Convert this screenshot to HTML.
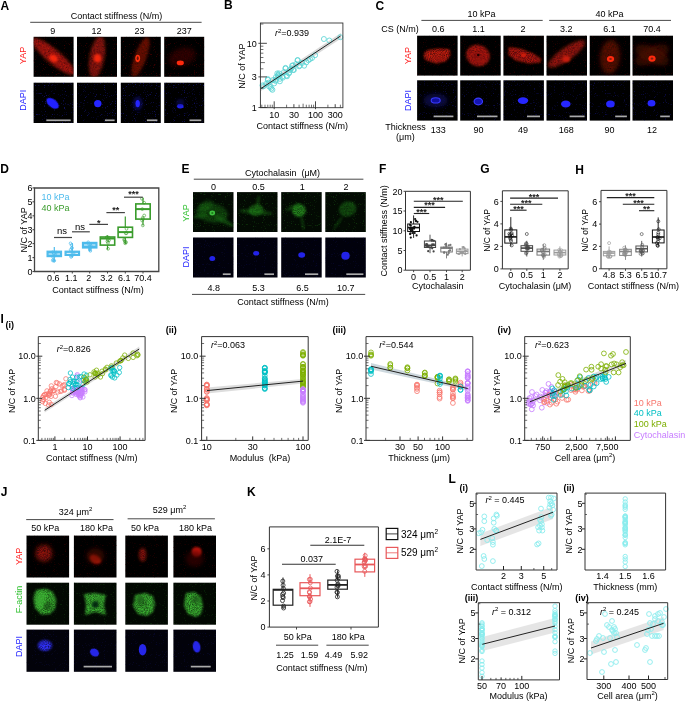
<!DOCTYPE html>
<html><head><meta charset="utf-8"><style>
html,body{margin:0;padding:0;background:#fff;}
svg{display:block;font-family:"Liberation Sans", sans-serif;will-change:transform;}
</style></head><body>
<svg width="685" height="702" viewBox="0 0 685 702">
<defs>
<filter id="bt1" x="-50%" y="-50%" width="200%" height="200%"><feGaussianBlur in="SourceGraphic" stdDeviation="1" result="b"/><feTurbulence type="fractalNoise" baseFrequency="0.95" numOctaves="2" seed="5" result="n"/><feColorMatrix in="n" type="matrix" values="0 0 0 0 1  0 0 0 0 1  0 0 0 0 1  1.1 0 0 0 0.22" result="na"/><feComposite in="b" in2="na" operator="in"/></filter>
<filter id="bt1.5" x="-50%" y="-50%" width="200%" height="200%"><feGaussianBlur in="SourceGraphic" stdDeviation="1.5" result="b"/><feTurbulence type="fractalNoise" baseFrequency="0.95" numOctaves="2" seed="9" result="n"/><feColorMatrix in="n" type="matrix" values="0 0 0 0 1  0 0 0 0 1  0 0 0 0 1  1.1 0 0 0 0.22" result="na"/><feComposite in="b" in2="na" operator="in"/></filter>
<filter id="bt2" x="-50%" y="-50%" width="200%" height="200%"><feGaussianBlur in="SourceGraphic" stdDeviation="2" result="b"/><feTurbulence type="fractalNoise" baseFrequency="0.95" numOctaves="2" seed="13" result="n"/><feColorMatrix in="n" type="matrix" values="0 0 0 0 1  0 0 0 0 1  0 0 0 0 1  1.1 0 0 0 0.22" result="na"/><feComposite in="b" in2="na" operator="in"/></filter>
<filter id="nz" x="0" y="0" width="100%" height="100%"><feTurbulence type="fractalNoise" baseFrequency="0.9" numOctaves="1" seed="2" result="n"/><feColorMatrix in="n" type="matrix" values="0 0 0 0 0  0 0 0 0 0  0 0 0 0 0  8 0 0 0 -5.0" result="m"/><feComposite in="SourceGraphic" in2="m" operator="in"/></filter>
<filter id="b0.4" x="-50%" y="-50%" width="200%" height="200%"><feGaussianBlur stdDeviation="0.4"/></filter>
<filter id="b0.5" x="-50%" y="-50%" width="200%" height="200%"><feGaussianBlur stdDeviation="0.5"/></filter>
<filter id="b0.6" x="-50%" y="-50%" width="200%" height="200%"><feGaussianBlur stdDeviation="0.6"/></filter>
<filter id="b0.7" x="-50%" y="-50%" width="200%" height="200%"><feGaussianBlur stdDeviation="0.7"/></filter>
<filter id="b0.8" x="-50%" y="-50%" width="200%" height="200%"><feGaussianBlur stdDeviation="0.8"/></filter>
<filter id="b1" x="-50%" y="-50%" width="200%" height="200%"><feGaussianBlur stdDeviation="1"/></filter>
<filter id="b1.2" x="-50%" y="-50%" width="200%" height="200%"><feGaussianBlur stdDeviation="1.2"/></filter>
<filter id="b1.5" x="-50%" y="-50%" width="200%" height="200%"><feGaussianBlur stdDeviation="1.5"/></filter>
<filter id="b2" x="-50%" y="-50%" width="200%" height="200%"><feGaussianBlur stdDeviation="2"/></filter>
<filter id="b2.5" x="-50%" y="-50%" width="200%" height="200%"><feGaussianBlur stdDeviation="2.5"/></filter>
<filter id="b3" x="-50%" y="-50%" width="200%" height="200%"><feGaussianBlur stdDeviation="3"/></filter>
<clipPath id="cp0"><rect x="33.6" y="36.8" width="40" height="40"/></clipPath>
<clipPath id="cp1"><rect x="33.6" y="82.7" width="40" height="40.3"/></clipPath>
<clipPath id="cp2"><rect x="77.0" y="36.8" width="40" height="40"/></clipPath>
<clipPath id="cp3"><rect x="77.0" y="82.7" width="40" height="40.3"/></clipPath>
<clipPath id="cp4"><rect x="120.8" y="36.8" width="40" height="40"/></clipPath>
<clipPath id="cp5"><rect x="120.8" y="82.7" width="40" height="40.3"/></clipPath>
<clipPath id="cp6"><rect x="164.2" y="36.8" width="40" height="40"/></clipPath>
<clipPath id="cp7"><rect x="164.2" y="82.7" width="40" height="40.3"/></clipPath>
<clipPath id="cp8"><rect x="417.1" y="35.7" width="40.5" height="39.9"/></clipPath>
<clipPath id="cp9"><rect x="417.1" y="80.3" width="40.5" height="40.3"/></clipPath>
<clipPath id="cp10"><rect x="460.2" y="35.7" width="40.5" height="39.9"/></clipPath>
<clipPath id="cp11"><rect x="460.2" y="80.3" width="40.5" height="40.3"/></clipPath>
<clipPath id="cp12"><rect x="503.4" y="35.7" width="40.5" height="39.9"/></clipPath>
<clipPath id="cp13"><rect x="503.4" y="80.3" width="40.5" height="40.3"/></clipPath>
<clipPath id="cp14"><rect x="546.5" y="35.7" width="40.5" height="39.9"/></clipPath>
<clipPath id="cp15"><rect x="546.5" y="80.3" width="40.5" height="40.3"/></clipPath>
<clipPath id="cp16"><rect x="589.7" y="35.7" width="40.5" height="39.9"/></clipPath>
<clipPath id="cp17"><rect x="589.7" y="80.3" width="40.5" height="40.3"/></clipPath>
<clipPath id="cp18"><rect x="632.5" y="35.7" width="40.5" height="39.9"/></clipPath>
<clipPath id="cp19"><rect x="632.5" y="80.3" width="40.5" height="40.3"/></clipPath>
<clipPath id="cp20"><rect x="193.0" y="192.1" width="40.5" height="39.9"/></clipPath>
<clipPath id="cp21"><rect x="193.0" y="237.5" width="40.5" height="40.0"/></clipPath>
<clipPath id="cp22"><rect x="237.0" y="192.1" width="40.5" height="39.9"/></clipPath>
<clipPath id="cp23"><rect x="237.0" y="237.5" width="40.5" height="40.0"/></clipPath>
<clipPath id="cp24"><rect x="281.2" y="192.1" width="40.5" height="39.9"/></clipPath>
<clipPath id="cp25"><rect x="281.2" y="237.5" width="40.5" height="40.0"/></clipPath>
<clipPath id="cp26"><rect x="325.3" y="192.1" width="40.5" height="39.9"/></clipPath>
<clipPath id="cp27"><rect x="325.3" y="237.5" width="40.5" height="40.0"/></clipPath>
<clipPath id="cp28"><rect x="26.5" y="535.6" width="42.6" height="41.9"/></clipPath>
<clipPath id="cp29"><rect x="26.5" y="582.7" width="42.6" height="42.0"/></clipPath>
<clipPath id="cp30"><rect x="26.5" y="629.6" width="42.6" height="42.2"/></clipPath>
<clipPath id="cp31"><rect x="73.9" y="535.6" width="42.6" height="41.9"/></clipPath>
<clipPath id="cp32"><rect x="73.9" y="582.7" width="42.6" height="42.0"/></clipPath>
<clipPath id="cp33"><rect x="73.9" y="629.6" width="42.6" height="42.2"/></clipPath>
<clipPath id="cp34"><rect x="125.3" y="535.6" width="42.6" height="41.9"/></clipPath>
<clipPath id="cp35"><rect x="125.3" y="582.7" width="42.6" height="42.0"/></clipPath>
<clipPath id="cp36"><rect x="125.3" y="629.6" width="42.6" height="42.2"/></clipPath>
<clipPath id="cp37"><rect x="173.4" y="535.6" width="42.6" height="41.9"/></clipPath>
<clipPath id="cp38"><rect x="173.4" y="582.7" width="42.6" height="42.0"/></clipPath>
<clipPath id="cp39"><rect x="173.4" y="629.6" width="42.6" height="42.2"/></clipPath>
</defs>
<rect width="685" height="702" fill="#fff"/>
<text x="0.4" y="9.8" font-size="12" text-anchor="start" fill="#000" font-weight="bold" >A</text>
<text x="116.5" y="19.0" font-size="9" text-anchor="middle" fill="#000" >Contact stiffness (N/m)</text>
<line x1="30.2" y1="22.3" x2="201.6" y2="22.3" stroke="#333" stroke-width="0.9" />
<text x="52.8" y="33.5" font-size="9" text-anchor="middle" fill="#000" >9</text>
<text x="96.5" y="33.5" font-size="9" text-anchor="middle" fill="#000" >12</text>
<text x="139.5" y="33.5" font-size="9" text-anchor="middle" fill="#000" >23</text>
<text x="184.3" y="33.5" font-size="9" text-anchor="middle" fill="#000" >237</text>
<rect x="33.6" y="36.8" width="40.0" height="40.0" fill="#000" />
<rect x="33.6" y="36.8" width="40.0" height="40.0" fill="#5a0606" opacity="0.6" filter="url(#nz)"/>
<rect x="33.6" y="82.7" width="40.0" height="40.3" fill="#000" />
<rect x="33.6" y="82.7" width="40.0" height="40.3" fill="#1c1ca0" opacity="0.55" filter="url(#nz)"/>
<rect x="77.0" y="36.8" width="40.0" height="40.0" fill="#000" />
<rect x="77.0" y="36.8" width="40.0" height="40.0" fill="#5a0606" opacity="0.6" filter="url(#nz)"/>
<rect x="77.0" y="82.7" width="40.0" height="40.3" fill="#000" />
<rect x="77.0" y="82.7" width="40.0" height="40.3" fill="#1c1ca0" opacity="0.55" filter="url(#nz)"/>
<rect x="120.8" y="36.8" width="40.0" height="40.0" fill="#000" />
<rect x="120.8" y="36.8" width="40.0" height="40.0" fill="#5a0606" opacity="0.6" filter="url(#nz)"/>
<rect x="120.8" y="82.7" width="40.0" height="40.3" fill="#000" />
<rect x="120.8" y="82.7" width="40.0" height="40.3" fill="#1c1ca0" opacity="0.55" filter="url(#nz)"/>
<rect x="164.2" y="36.8" width="40.0" height="40.0" fill="#000" />
<rect x="164.2" y="36.8" width="40.0" height="40.0" fill="#5a0606" opacity="0.6" filter="url(#nz)"/>
<rect x="164.2" y="82.7" width="40.0" height="40.3" fill="#000" />
<rect x="164.2" y="82.7" width="40.0" height="40.3" fill="#1c1ca0" opacity="0.55" filter="url(#nz)"/>
<text x="26.2" y="55.5" font-size="9" text-anchor="middle" fill="#ff2020" transform="rotate(-90 26.2 55.5)">YAP</text>
<text x="26.2" y="100.2" font-size="9" text-anchor="middle" fill="#2222ff" transform="rotate(-90 26.2 100.2)">DAPI</text>
<g clip-path="url(#cp0)"><ellipse cx="53.5" cy="56.5" rx="27" ry="7" fill="#b8180a" opacity="1" transform="rotate(40 53.5 56.5)" filter="url(#bt1.5)"/></g>
<g clip-path="url(#cp0)"><ellipse cx="53.6" cy="58.2" rx="4.5" ry="3.5" fill="#ff2a10" opacity="0.9" transform="rotate(30 53.6 58.2)" filter="url(#b1)"/></g>
<g clip-path="url(#cp2)"><ellipse cx="97.0" cy="57.0" rx="21" ry="7.5" fill="#981208" opacity="1" transform="rotate(-80 97.0 57.0)" filter="url(#bt1.5)"/></g>
<g clip-path="url(#cp2)"><ellipse cx="97.5" cy="58.2" rx="3.6" ry="4.2" fill="#ff2a10" opacity="0.9" transform="rotate(0 97.5 58.2)" filter="url(#b1)"/></g>
<g clip-path="url(#cp4)"><ellipse cx="140.5" cy="57.0" rx="21" ry="6" fill="#780e06" opacity="1" transform="rotate(-70 140.5 57.0)" filter="url(#bt1.5)"/></g>
<g clip-path="url(#cp4)"><ellipse cx="137.7" cy="58.3" rx="2.4" ry="3.6" fill="#ff3010" opacity="1" transform="rotate(0 137.7 58.3)" filter="url(#b0.6)"/></g>
<g clip-path="url(#cp4)"><ellipse cx="137.7" cy="58.3" rx="1.0" ry="2.0" fill="#701008" opacity="1" transform="rotate(0 137.7 58.3)"/></g>
<g clip-path="url(#cp6)"><ellipse cx="182.0" cy="57.0" rx="14" ry="9" fill="#3a0502" opacity="0.9" transform="rotate(-20 182.0 57.0)" filter="url(#bt2)"/></g>
<g clip-path="url(#cp6)"><ellipse cx="180.3" cy="62.9" rx="3.6" ry="2.4" fill="#ff2a10" opacity="1" transform="rotate(0 180.3 62.9)" filter="url(#b0.6)"/></g>
<g clip-path="url(#cp1)"><ellipse cx="52.6" cy="103.3" rx="7.2" ry="4.0" fill="#2020ff" opacity="1" transform="rotate(38 52.6 103.3)" filter="url(#b0.5)"/></g>
<g clip-path="url(#cp3)"><ellipse cx="97.8" cy="103.6" rx="3.7" ry="3.7" fill="#2525ff" opacity="1" transform="rotate(0 97.8 103.6)" filter="url(#b0.5)"/></g>
<g clip-path="url(#cp5)"><ellipse cx="137.7" cy="103.6" rx="5" ry="7" fill="#10107a" opacity="0.6" transform="rotate(0 137.7 103.6)" filter="url(#b1.5)"/></g>
<g clip-path="url(#cp5)"><ellipse cx="137.7" cy="103.6" rx="2.2" ry="3.6" fill="#2525ff" opacity="1" transform="rotate(0 137.7 103.6)" filter="url(#b0.5)"/></g>
<g clip-path="url(#cp7)"><ellipse cx="180.3" cy="106.3" rx="3.2" ry="2.2" fill="#2525ff" opacity="1" transform="rotate(0 180.3 106.3)" filter="url(#b0.5)"/></g>
<g clip-path="url(#cp7)"><ellipse cx="180.3" cy="103.0" rx="4" ry="4" fill="#10107a" opacity="0.5" transform="rotate(0 180.3 103.0)" filter="url(#b1.5)"/></g>
<line x1="46.3" y1="120.3" x2="70.7" y2="120.3" stroke="#ababab" stroke-width="1.7" />
<line x1="104.9" y1="120.3" x2="114.6" y2="120.3" stroke="#ababab" stroke-width="1.7" />
<line x1="146.9" y1="120.3" x2="157.4" y2="120.3" stroke="#ababab" stroke-width="1.7" />
<line x1="189.5" y1="120.3" x2="201.3" y2="120.3" stroke="#ababab" stroke-width="1.7" />
<text x="224.0" y="9.2" font-size="12" text-anchor="start" fill="#000" font-weight="bold" >B</text>
<polygon points="260.9,86.0 341.0,33.0 341.0,38.5 260.9,91.0" fill="#d0d0d0" opacity="0.8"/>
<circle cx="262.5" cy="85.4" r="2.5" fill="none" stroke="#5cd5d5" stroke-width="0.85"/>
<circle cx="268.0" cy="79.9" r="2.5" fill="none" stroke="#5cd5d5" stroke-width="0.85"/>
<circle cx="269.1" cy="86.5" r="2.5" fill="none" stroke="#5cd5d5" stroke-width="0.85"/>
<circle cx="271.3" cy="88.7" r="2.5" fill="none" stroke="#5cd5d5" stroke-width="0.85"/>
<circle cx="272.4" cy="89.8" r="2.5" fill="none" stroke="#5cd5d5" stroke-width="0.85"/>
<circle cx="275.7" cy="81.0" r="2.5" fill="none" stroke="#5cd5d5" stroke-width="0.85"/>
<circle cx="277.9" cy="75.5" r="2.5" fill="none" stroke="#5cd5d5" stroke-width="0.85"/>
<circle cx="279.0" cy="73.4" r="2.5" fill="none" stroke="#5cd5d5" stroke-width="0.85"/>
<circle cx="280.0" cy="78.8" r="2.5" fill="none" stroke="#5cd5d5" stroke-width="0.85"/>
<circle cx="282.3" cy="76.6" r="2.5" fill="none" stroke="#5cd5d5" stroke-width="0.85"/>
<circle cx="285.5" cy="67.9" r="2.5" fill="none" stroke="#5cd5d5" stroke-width="0.85"/>
<circle cx="286.6" cy="75.5" r="2.5" fill="none" stroke="#5cd5d5" stroke-width="0.85"/>
<circle cx="288.8" cy="73.4" r="2.5" fill="none" stroke="#5cd5d5" stroke-width="0.85"/>
<circle cx="292.1" cy="65.7" r="2.5" fill="none" stroke="#5cd5d5" stroke-width="0.85"/>
<circle cx="293.2" cy="70.0" r="2.5" fill="none" stroke="#5cd5d5" stroke-width="0.85"/>
<circle cx="297.6" cy="60.2" r="2.5" fill="none" stroke="#5cd5d5" stroke-width="0.85"/>
<circle cx="299.8" cy="65.7" r="2.5" fill="none" stroke="#5cd5d5" stroke-width="0.85"/>
<circle cx="304.2" cy="65.7" r="2.5" fill="none" stroke="#5cd5d5" stroke-width="0.85"/>
<circle cx="306.3" cy="62.4" r="2.5" fill="none" stroke="#5cd5d5" stroke-width="0.85"/>
<circle cx="308.5" cy="60.2" r="2.5" fill="none" stroke="#5cd5d5" stroke-width="0.85"/>
<circle cx="315.1" cy="55.2" r="2.5" fill="none" stroke="#5cd5d5" stroke-width="0.85"/>
<circle cx="323.9" cy="39.0" r="2.5" fill="none" stroke="#5cd5d5" stroke-width="0.85"/>
<circle cx="329.3" cy="40.5" r="2.5" fill="none" stroke="#5cd5d5" stroke-width="0.85"/>
<circle cx="340.3" cy="37.2" r="2.5" fill="none" stroke="#5cd5d5" stroke-width="0.85"/>
<circle cx="263.5" cy="86.3" r="2.5" fill="none" stroke="#5cd5d5" stroke-width="0.85"/>
<circle cx="267.8" cy="79.1" r="2.5" fill="none" stroke="#5cd5d5" stroke-width="0.85"/>
<circle cx="268.5" cy="82.7" r="2.5" fill="none" stroke="#5cd5d5" stroke-width="0.85"/>
<circle cx="270.6" cy="87.0" r="2.5" fill="none" stroke="#5cd5d5" stroke-width="0.85"/>
<circle cx="274.2" cy="83.4" r="2.5" fill="none" stroke="#5cd5d5" stroke-width="0.85"/>
<circle cx="275.6" cy="79.9" r="2.5" fill="none" stroke="#5cd5d5" stroke-width="0.85"/>
<circle cx="277.3" cy="73.4" r="2.5" fill="none" stroke="#5cd5d5" stroke-width="0.85"/>
<circle cx="278.2" cy="74.9" r="2.5" fill="none" stroke="#5cd5d5" stroke-width="0.85"/>
<circle cx="279.2" cy="76.3" r="2.5" fill="none" stroke="#5cd5d5" stroke-width="0.85"/>
<circle cx="279.9" cy="81.3" r="2.5" fill="none" stroke="#5cd5d5" stroke-width="0.85"/>
<circle cx="282.8" cy="77.7" r="2.5" fill="none" stroke="#5cd5d5" stroke-width="0.85"/>
<circle cx="285.6" cy="68.5" r="2.5" fill="none" stroke="#5cd5d5" stroke-width="0.85"/>
<circle cx="287.0" cy="76.3" r="2.5" fill="none" stroke="#5cd5d5" stroke-width="0.85"/>
<circle cx="289.2" cy="72.7" r="2.5" fill="none" stroke="#5cd5d5" stroke-width="0.85"/>
<circle cx="291.3" cy="68.5" r="2.5" fill="none" stroke="#5cd5d5" stroke-width="0.85"/>
<circle cx="293.0" cy="65.3" r="2.5" fill="none" stroke="#5cd5d5" stroke-width="0.85"/>
<circle cx="293.9" cy="69.9" r="2.5" fill="none" stroke="#5cd5d5" stroke-width="0.85"/>
<circle cx="297.7" cy="60.2" r="2.5" fill="none" stroke="#5cd5d5" stroke-width="0.85"/>
<circle cx="299.1" cy="66.3" r="2.5" fill="none" stroke="#5cd5d5" stroke-width="0.85"/>
<circle cx="266.0" cy="84.0" r="2.5" fill="none" stroke="#5cd5d5" stroke-width="0.85"/>
<circle cx="273.0" cy="80.0" r="2.5" fill="none" stroke="#5cd5d5" stroke-width="0.85"/>
<circle cx="276.0" cy="77.0" r="2.5" fill="none" stroke="#5cd5d5" stroke-width="0.85"/>
<circle cx="284.0" cy="72.0" r="2.5" fill="none" stroke="#5cd5d5" stroke-width="0.85"/>
<circle cx="290.0" cy="70.0" r="2.5" fill="none" stroke="#5cd5d5" stroke-width="0.85"/>
<circle cx="296.0" cy="64.0" r="2.5" fill="none" stroke="#5cd5d5" stroke-width="0.85"/>
<circle cx="302.0" cy="63.0" r="2.5" fill="none" stroke="#5cd5d5" stroke-width="0.85"/>
<circle cx="310.0" cy="59.0" r="2.5" fill="none" stroke="#5cd5d5" stroke-width="0.85"/>
<circle cx="312.0" cy="58.0" r="2.5" fill="none" stroke="#5cd5d5" stroke-width="0.85"/>
<line x1="260.9" y1="88.6" x2="340.5" y2="36.0" stroke="#222" stroke-width="1.0" />
<rect x="260.4" y="23.0" width="82.5" height="84.7" fill="none" stroke="#333" stroke-width="0.9" />
<line x1="258.4" y1="107.5" x2="266.9" y2="107.5" stroke="#333" stroke-width="0.9" />
<line x1="258.4" y1="76.9" x2="266.9" y2="76.9" stroke="#333" stroke-width="0.9" />
<line x1="258.4" y1="43.3" x2="266.9" y2="43.3" stroke="#333" stroke-width="0.9" />
<line x1="260.4" y1="88.2" x2="263.4" y2="88.2" stroke="#333" stroke-width="0.7" />
<line x1="260.4" y1="68.8" x2="263.4" y2="68.8" stroke="#333" stroke-width="0.7" />
<line x1="260.4" y1="62.6" x2="264.9" y2="62.6" stroke="#333" stroke-width="0.7" />
<line x1="260.4" y1="57.5" x2="263.4" y2="57.5" stroke="#333" stroke-width="0.7" />
<line x1="260.4" y1="53.2" x2="263.4" y2="53.2" stroke="#333" stroke-width="0.7" />
<line x1="260.4" y1="49.5" x2="263.4" y2="49.5" stroke="#333" stroke-width="0.7" />
<line x1="260.4" y1="46.2" x2="263.4" y2="46.2" stroke="#333" stroke-width="0.7" />
<line x1="260.4" y1="24.0" x2="263.4" y2="24.0" stroke="#333" stroke-width="0.7" />
<text x="256.8" y="46.5" font-size="9" text-anchor="end" fill="#000" >10</text>
<text x="256.8" y="80.1" font-size="9" text-anchor="end" fill="#000" >3</text>
<text x="256.8" y="110.7" font-size="9" text-anchor="end" fill="#000" >1</text>
<line x1="274.2" y1="109.2" x2="274.2" y2="101.3" stroke="#333" stroke-width="0.9" />
<line x1="315.5" y1="109.2" x2="315.5" y2="101.3" stroke="#333" stroke-width="0.9" />
<line x1="293.9" y1="107.7" x2="293.9" y2="104.2" stroke="#333" stroke-width="0.9" />
<line x1="335.2" y1="107.7" x2="335.2" y2="104.2" stroke="#333" stroke-width="0.9" />
<line x1="261.8" y1="107.7" x2="261.8" y2="104.7" stroke="#333" stroke-width="0.7" />
<line x1="265.0" y1="107.7" x2="265.0" y2="104.7" stroke="#333" stroke-width="0.7" />
<line x1="267.8" y1="107.7" x2="267.8" y2="104.7" stroke="#333" stroke-width="0.7" />
<line x1="270.2" y1="107.7" x2="270.2" y2="104.7" stroke="#333" stroke-width="0.7" />
<line x1="272.3" y1="107.7" x2="272.3" y2="104.7" stroke="#333" stroke-width="0.7" />
<line x1="286.6" y1="107.7" x2="286.6" y2="104.7" stroke="#333" stroke-width="0.7" />
<line x1="299.1" y1="107.7" x2="299.1" y2="104.7" stroke="#333" stroke-width="0.7" />
<line x1="303.1" y1="107.7" x2="303.1" y2="103.7" stroke="#333" stroke-width="0.7" />
<line x1="306.3" y1="107.7" x2="306.3" y2="104.7" stroke="#333" stroke-width="0.7" />
<line x1="309.1" y1="107.7" x2="309.1" y2="104.7" stroke="#333" stroke-width="0.7" />
<line x1="311.5" y1="107.7" x2="311.5" y2="104.7" stroke="#333" stroke-width="0.7" />
<line x1="313.6" y1="107.7" x2="313.6" y2="104.7" stroke="#333" stroke-width="0.7" />
<line x1="327.9" y1="107.7" x2="327.9" y2="104.7" stroke="#333" stroke-width="0.7" />
<line x1="340.4" y1="107.7" x2="340.4" y2="104.7" stroke="#333" stroke-width="0.7" />
<text x="274.2" y="117.5" font-size="9" text-anchor="middle" fill="#000" >10</text>
<text x="293.9" y="117.5" font-size="9" text-anchor="middle" fill="#000" >30</text>
<text x="315.5" y="117.5" font-size="9" text-anchor="middle" fill="#000" >100</text>
<text x="335.2" y="117.5" font-size="9" text-anchor="middle" fill="#000" >300</text>
<text x="302.3" y="128.9" font-size="9" text-anchor="middle" fill="#000" >Contact stiffness (N/m)</text>
<text x="245.1" y="66.2" font-size="9" text-anchor="middle" fill="#000" transform="rotate(-90 245.1 66.2)">N/C of YAP</text>
<text x="275.0" y="36.0" font-size="9" text-anchor="start" fill="#000" ><tspan font-style="italic">r</tspan><tspan font-size="6" dy="-3.5">2</tspan><tspan dy="3.5">=0.939</tspan></text>
<text x="375.6" y="9.5" font-size="12" text-anchor="start" fill="#000" font-weight="bold" >C</text>
<text x="481.6" y="17.2" font-size="9" text-anchor="middle" fill="#000" >10 kPa</text>
<line x1="421.4" y1="20.4" x2="542.7" y2="20.4" stroke="#333" stroke-width="0.9" />
<text x="609.4" y="17.2" font-size="9" text-anchor="middle" fill="#000" >40 kPa</text>
<line x1="549.2" y1="20.4" x2="671.0" y2="20.4" stroke="#333" stroke-width="0.9" />
<text x="381.2" y="32.3" font-size="9" text-anchor="start" fill="#000" >CS (N/m)</text>
<text x="438.3" y="32.4" font-size="9" text-anchor="middle" fill="#000" >0.6</text>
<text x="478.5" y="32.4" font-size="9" text-anchor="middle" fill="#000" >1.1</text>
<text x="523.0" y="32.4" font-size="9" text-anchor="middle" fill="#000" >2</text>
<text x="566.2" y="32.4" font-size="9" text-anchor="middle" fill="#000" >3.2</text>
<text x="609.4" y="32.4" font-size="9" text-anchor="middle" fill="#000" >6.1</text>
<text x="652.0" y="32.4" font-size="9" text-anchor="middle" fill="#000" >70.4</text>
<rect x="417.1" y="35.7" width="40.5" height="39.9" fill="#000" />
<rect x="417.1" y="35.7" width="40.5" height="39.9" fill="#4a0505" opacity="0.5" filter="url(#nz)"/>
<rect x="417.1" y="80.3" width="40.5" height="40.3" fill="#000" />
<rect x="417.1" y="80.3" width="40.5" height="40.3" fill="#141480" opacity="0.5" filter="url(#nz)"/>
<rect x="460.2" y="35.7" width="40.5" height="39.9" fill="#000" />
<rect x="460.2" y="35.7" width="40.5" height="39.9" fill="#4a0505" opacity="0.5" filter="url(#nz)"/>
<rect x="460.2" y="80.3" width="40.5" height="40.3" fill="#000" />
<rect x="460.2" y="80.3" width="40.5" height="40.3" fill="#141480" opacity="0.5" filter="url(#nz)"/>
<rect x="503.4" y="35.7" width="40.5" height="39.9" fill="#000" />
<rect x="503.4" y="35.7" width="40.5" height="39.9" fill="#4a0505" opacity="0.5" filter="url(#nz)"/>
<rect x="503.4" y="80.3" width="40.5" height="40.3" fill="#000" />
<rect x="503.4" y="80.3" width="40.5" height="40.3" fill="#141480" opacity="0.5" filter="url(#nz)"/>
<rect x="546.5" y="35.7" width="40.5" height="39.9" fill="#000" />
<rect x="546.5" y="35.7" width="40.5" height="39.9" fill="#4a0505" opacity="0.5" filter="url(#nz)"/>
<rect x="546.5" y="80.3" width="40.5" height="40.3" fill="#000" />
<rect x="546.5" y="80.3" width="40.5" height="40.3" fill="#141480" opacity="0.5" filter="url(#nz)"/>
<rect x="589.7" y="35.7" width="40.5" height="39.9" fill="#000" />
<rect x="589.7" y="35.7" width="40.5" height="39.9" fill="#4a0505" opacity="0.5" filter="url(#nz)"/>
<rect x="589.7" y="80.3" width="40.5" height="40.3" fill="#000" />
<rect x="589.7" y="80.3" width="40.5" height="40.3" fill="#141480" opacity="0.5" filter="url(#nz)"/>
<rect x="632.5" y="35.7" width="40.5" height="39.9" fill="#000" />
<rect x="632.5" y="35.7" width="40.5" height="39.9" fill="#4a0505" opacity="0.5" filter="url(#nz)"/>
<rect x="632.5" y="80.3" width="40.5" height="40.3" fill="#000" />
<rect x="632.5" y="80.3" width="40.5" height="40.3" fill="#141480" opacity="0.5" filter="url(#nz)"/>
<text x="411.2" y="55.6" font-size="9" text-anchor="middle" fill="#ff2020" transform="rotate(-90 411.2 55.6)">YAP</text>
<text x="411.2" y="100.5" font-size="9" text-anchor="middle" fill="#2222ff" transform="rotate(-90 411.2 100.5)">DAPI</text>
<g clip-path="url(#cp8)"><path d="M424.5,52.3 L428.4,49.7 L438.9,48.4 L449.4,48.9 L450.5,54 L449.4,57.3 L445.5,61.5 L436.3,63.6 L425.8,60.2 L423.7,56.3 Z" fill="#c01a0a" opacity="1" filter="url(#bt1)"/></g>
<g clip-path="url(#cp10)"><ellipse cx="478.0" cy="55.5" rx="12" ry="10.5" fill="#b8180a" opacity="1" transform="rotate(20 478.0 55.5)" filter="url(#bt1)"/></g>
<g clip-path="url(#cp10)"><ellipse cx="478.3" cy="55.0" rx="1.3" ry="1.3" fill="#200000" opacity="1" transform="rotate(0 478.3 55.0)"/></g>
<g clip-path="url(#cp12)"><path d="M508.5,47.1 L520.4,48.4 L533.5,53.6 L541.4,58.9 L540.1,62.8 L528.2,63.6 L515.1,60.2 L508.5,55 Z" fill="#b01808" opacity="1" filter="url(#bt1)"/></g>
<g clip-path="url(#cp12)"><ellipse cx="523.5" cy="55.2" rx="2.5" ry="2" fill="#c81a08" opacity="1" transform="rotate(0 523.5 55.2)" filter="url(#b0.6)"/></g>
<g clip-path="url(#cp14)"><ellipse cx="566.5" cy="54.0" rx="22" ry="6.5" fill="#a01408" opacity="1" transform="rotate(-35 566.5 54.0)" filter="url(#bt1.5)"/></g>
<g clip-path="url(#cp14)"><ellipse cx="566.2" cy="59.0" rx="4" ry="3.2" fill="#c81c08" opacity="1" transform="rotate(0 566.2 59.0)" filter="url(#b0.8)"/></g>
<g clip-path="url(#cp16)"><ellipse cx="610.0" cy="57.0" rx="10" ry="17" fill="#600a04" opacity="1" transform="rotate(5 610.0 57.0)" filter="url(#bt2)"/></g>
<g clip-path="url(#cp16)"><ellipse cx="610.5" cy="59.0" rx="3.6" ry="3.0" fill="#ff2a10" opacity="1" transform="rotate(0 610.5 59.0)" filter="url(#b0.5)"/></g>
<g clip-path="url(#cp16)"><ellipse cx="610.5" cy="59.0" rx="1.4" ry="1.0" fill="#802010" opacity="1" transform="rotate(0 610.5 59.0)"/></g>
<g clip-path="url(#cp18)"><ellipse cx="652.0" cy="55.0" rx="18" ry="8" fill="#4a0803" opacity="0.9" transform="rotate(-25 652.0 55.0)" filter="url(#bt2)"/></g>
<g clip-path="url(#cp18)"><ellipse cx="652.0" cy="55.0" rx="18" ry="8" fill="#4a0803" opacity="0.9" transform="rotate(25 652.0 55.0)" filter="url(#bt2)"/></g>
<g clip-path="url(#cp18)"><ellipse cx="652.0" cy="58.6" rx="3.6" ry="3.2" fill="#ff2a10" opacity="1" transform="rotate(0 652.0 58.6)" filter="url(#b0.5)"/></g>
<g clip-path="url(#cp18)"><ellipse cx="652.0" cy="58.6" rx="1.4" ry="1.1" fill="#802010" opacity="1" transform="rotate(0 652.0 58.6)"/></g>
<g clip-path="url(#cp9)"><ellipse cx="435.7" cy="100.4" rx="12" ry="7" fill="#0a0a50" opacity="0.8" transform="rotate(0 435.7 100.4)" filter="url(#b2)"/></g>
<g clip-path="url(#cp9)"><ellipse cx="435.7" cy="100.4" rx="4.5" ry="2.6" fill="none" opacity="1" transform="rotate(0 435.7 100.4)"/></g>
<ellipse cx="435.7" cy="100.4" rx="4.5" ry="2.6" fill="#1010a0" stroke="#3a3aff" stroke-width="1.1"/>
<ellipse cx="478.3" cy="101.5" rx="4.2" ry="3.3" fill="#1515b0" stroke="#3a3aff" stroke-width="1.2"/>
<g clip-path="url(#cp13)"><ellipse cx="523.0" cy="100.6" rx="5.2" ry="3.4" fill="#2828ff" opacity="1" transform="rotate(0 523.0 100.6)" filter="url(#b0.5)"/></g>
<g clip-path="url(#cp15)"><ellipse cx="565.8" cy="104.0" rx="4.8" ry="3.5" fill="#2828ff" opacity="1" transform="rotate(0 565.8 104.0)" filter="url(#b0.5)"/></g>
<g clip-path="url(#cp17)"><ellipse cx="610.4" cy="104.0" rx="4.3" ry="3.5" fill="#2828ff" opacity="1" transform="rotate(0 610.4 104.0)" filter="url(#b0.5)"/></g>
<g clip-path="url(#cp19)"><ellipse cx="651.5" cy="103.2" rx="3.9" ry="3.3" fill="#2828ff" opacity="1" transform="rotate(0 651.5 103.2)" filter="url(#b0.5)"/></g>
<line x1="433.6" y1="116.4" x2="453.4" y2="116.4" stroke="#ababab" stroke-width="1.7" />
<line x1="477.0" y1="116.4" x2="497.5" y2="116.4" stroke="#ababab" stroke-width="1.7" />
<line x1="527.0" y1="116.4" x2="540.0" y2="116.4" stroke="#ababab" stroke-width="1.7" />
<line x1="569.6" y1="116.4" x2="584.6" y2="116.4" stroke="#ababab" stroke-width="1.7" />
<line x1="615.2" y1="116.4" x2="626.9" y2="116.4" stroke="#ababab" stroke-width="1.7" />
<line x1="660.2" y1="116.4" x2="669.8" y2="116.4" stroke="#ababab" stroke-width="1.7" />
<text x="385.3" y="129.7" font-size="9" text-anchor="start" fill="#000" >Thickness</text>
<text x="396.0" y="140.3" font-size="9" text-anchor="start" fill="#000" >(μm)</text>
<text x="438.3" y="132.6" font-size="9" text-anchor="middle" fill="#000" >133</text>
<text x="478.5" y="132.6" font-size="9" text-anchor="middle" fill="#000" >90</text>
<text x="523.0" y="132.6" font-size="9" text-anchor="middle" fill="#000" >49</text>
<text x="566.2" y="132.6" font-size="9" text-anchor="middle" fill="#000" >168</text>
<text x="609.4" y="132.6" font-size="9" text-anchor="middle" fill="#000" >90</text>
<text x="652.0" y="132.6" font-size="9" text-anchor="middle" fill="#000" >12</text>
<text x="0.3" y="172.6" font-size="12" text-anchor="start" fill="#000" font-weight="bold" >D</text>
<text x="41.4" y="200.0" font-size="9" text-anchor="start" fill="#4dbbec" >10 kPa</text>
<text x="41.4" y="211.0" font-size="9" text-anchor="start" fill="#3a9c2c" >40 kPa</text>
<line x1="54.3" y1="247.1" x2="54.3" y2="261.5" stroke="#4dbbec" stroke-width="1.2" />
<rect x="47.1" y="251.2" width="14.4" height="5.4" fill="#4dbbec" stroke="#4dbbec" stroke-width="1.2" />
<line x1="48.6" y1="254.0" x2="60.0" y2="254.0" stroke="#e8f6ff" stroke-width="1.0" />
<circle cx="52.9" cy="256.8" r="1.3" fill="none" stroke="#4dbbec" stroke-width="0.7"/>
<circle cx="52.6" cy="252.1" r="1.3" fill="none" stroke="#4dbbec" stroke-width="0.7"/>
<circle cx="53.8" cy="253.8" r="1.3" fill="none" stroke="#4dbbec" stroke-width="0.7"/>
<circle cx="54.3" cy="260.6" r="1.3" fill="none" stroke="#4dbbec" stroke-width="0.7"/>
<circle cx="54.0" cy="260.9" r="1.3" fill="none" stroke="#4dbbec" stroke-width="0.7"/>
<circle cx="52.7" cy="260.5" r="1.3" fill="none" stroke="#4dbbec" stroke-width="0.7"/>
<circle cx="55.6" cy="255.4" r="1.3" fill="none" stroke="#4dbbec" stroke-width="0.7"/>
<circle cx="53.2" cy="259.7" r="1.3" fill="none" stroke="#4dbbec" stroke-width="0.7"/>
<circle cx="56.1" cy="252.5" r="1.3" fill="none" stroke="#4dbbec" stroke-width="0.7"/>
<circle cx="53.9" cy="253.2" r="1.3" fill="none" stroke="#4dbbec" stroke-width="0.7"/>
<line x1="72.3" y1="242.9" x2="72.3" y2="257.8" stroke="#4dbbec" stroke-width="1.2" />
<rect x="65.1" y="251.2" width="14.4" height="4.2" fill="#4dbbec" stroke="#4dbbec" stroke-width="1.2" />
<line x1="66.6" y1="253.4" x2="78.0" y2="253.4" stroke="#e8f6ff" stroke-width="1.0" />
<circle cx="70.5" cy="243.3" r="1.3" fill="none" stroke="#4dbbec" stroke-width="0.7"/>
<circle cx="71.5" cy="245.1" r="1.3" fill="none" stroke="#4dbbec" stroke-width="0.7"/>
<circle cx="70.8" cy="255.7" r="1.3" fill="none" stroke="#4dbbec" stroke-width="0.7"/>
<circle cx="73.6" cy="253.3" r="1.3" fill="none" stroke="#4dbbec" stroke-width="0.7"/>
<circle cx="72.6" cy="255.2" r="1.3" fill="none" stroke="#4dbbec" stroke-width="0.7"/>
<circle cx="71.8" cy="248.3" r="1.3" fill="none" stroke="#4dbbec" stroke-width="0.7"/>
<circle cx="70.6" cy="249.7" r="1.3" fill="none" stroke="#4dbbec" stroke-width="0.7"/>
<circle cx="71.1" cy="257.0" r="1.3" fill="none" stroke="#4dbbec" stroke-width="0.7"/>
<circle cx="72.0" cy="247.7" r="1.3" fill="none" stroke="#4dbbec" stroke-width="0.7"/>
<circle cx="72.6" cy="253.2" r="1.3" fill="none" stroke="#4dbbec" stroke-width="0.7"/>
<line x1="89.7" y1="242.0" x2="89.7" y2="251.3" stroke="#4dbbec" stroke-width="1.2" />
<rect x="82.5" y="242.4" width="14.4" height="5.6" fill="#4dbbec" stroke="#4dbbec" stroke-width="1.2" />
<line x1="84.0" y1="245.0" x2="95.4" y2="245.0" stroke="#e8f6ff" stroke-width="1.0" />
<circle cx="88.9" cy="247.1" r="1.3" fill="none" stroke="#4dbbec" stroke-width="0.7"/>
<circle cx="90.5" cy="243.9" r="1.3" fill="none" stroke="#4dbbec" stroke-width="0.7"/>
<circle cx="90.0" cy="249.0" r="1.3" fill="none" stroke="#4dbbec" stroke-width="0.7"/>
<circle cx="91.2" cy="246.4" r="1.3" fill="none" stroke="#4dbbec" stroke-width="0.7"/>
<circle cx="88.9" cy="244.5" r="1.3" fill="none" stroke="#4dbbec" stroke-width="0.7"/>
<circle cx="88.2" cy="242.2" r="1.3" fill="none" stroke="#4dbbec" stroke-width="0.7"/>
<circle cx="90.7" cy="247.4" r="1.3" fill="none" stroke="#4dbbec" stroke-width="0.7"/>
<circle cx="89.7" cy="249.9" r="1.3" fill="none" stroke="#4dbbec" stroke-width="0.7"/>
<circle cx="90.4" cy="250.9" r="1.3" fill="none" stroke="#4dbbec" stroke-width="0.7"/>
<circle cx="90.0" cy="244.2" r="1.3" fill="none" stroke="#4dbbec" stroke-width="0.7"/>
<line x1="107.5" y1="235.3" x2="107.5" y2="249.6" stroke="#3a9c2c" stroke-width="1.2" />
<rect x="100.3" y="237.0" width="14.4" height="8.1" fill="#fff" stroke="#3a9c2c" stroke-width="1.6" />
<line x1="100.3" y1="238.5" x2="114.7" y2="238.5" stroke="#3a9c2c" stroke-width="2.0" />
<circle cx="106.9" cy="237.1" r="1.4" fill="none" stroke="#3a9c2c" stroke-width="0.6"/>
<circle cx="107.8" cy="239.7" r="1.4" fill="none" stroke="#3a9c2c" stroke-width="0.6"/>
<circle cx="107.4" cy="241.3" r="1.4" fill="none" stroke="#3a9c2c" stroke-width="0.6"/>
<circle cx="108.8" cy="237.6" r="1.4" fill="none" stroke="#3a9c2c" stroke-width="0.6"/>
<circle cx="108.0" cy="242.8" r="1.4" fill="none" stroke="#3a9c2c" stroke-width="0.6"/>
<circle cx="108.1" cy="248.8" r="1.4" fill="none" stroke="#3a9c2c" stroke-width="0.6"/>
<circle cx="109.0" cy="240.3" r="1.4" fill="none" stroke="#3a9c2c" stroke-width="0.6"/>
<circle cx="106.9" cy="237.8" r="1.4" fill="none" stroke="#3a9c2c" stroke-width="0.6"/>
<line x1="125.3" y1="216.5" x2="125.3" y2="243.9" stroke="#3a9c2c" stroke-width="1.2" />
<rect x="118.1" y="227.2" width="14.4" height="10.2" fill="#fff" stroke="#3a9c2c" stroke-width="1.6" />
<line x1="118.1" y1="232.1" x2="132.5" y2="232.1" stroke="#3a9c2c" stroke-width="2.0" />
<circle cx="125.8" cy="233.3" r="1.4" fill="none" stroke="#3a9c2c" stroke-width="0.6"/>
<circle cx="125.2" cy="243.3" r="1.4" fill="none" stroke="#3a9c2c" stroke-width="0.6"/>
<circle cx="124.2" cy="239.3" r="1.4" fill="none" stroke="#3a9c2c" stroke-width="0.6"/>
<circle cx="126.1" cy="242.3" r="1.4" fill="none" stroke="#3a9c2c" stroke-width="0.6"/>
<circle cx="124.5" cy="240.4" r="1.4" fill="none" stroke="#3a9c2c" stroke-width="0.6"/>
<circle cx="126.4" cy="233.2" r="1.4" fill="none" stroke="#3a9c2c" stroke-width="0.6"/>
<circle cx="125.1" cy="241.7" r="1.4" fill="none" stroke="#3a9c2c" stroke-width="0.6"/>
<circle cx="126.5" cy="228.8" r="1.4" fill="none" stroke="#3a9c2c" stroke-width="0.6"/>
<line x1="143.0" y1="197.7" x2="143.0" y2="225.5" stroke="#3a9c2c" stroke-width="1.2" />
<rect x="135.8" y="203.9" width="14.4" height="15.2" fill="#fff" stroke="#3a9c2c" stroke-width="1.6" />
<line x1="135.8" y1="209.1" x2="150.2" y2="209.1" stroke="#3a9c2c" stroke-width="2.0" />
<circle cx="144.1" cy="202.7" r="1.4" fill="none" stroke="#3a9c2c" stroke-width="0.6"/>
<circle cx="142.7" cy="217.8" r="1.4" fill="none" stroke="#3a9c2c" stroke-width="0.6"/>
<circle cx="144.2" cy="215.5" r="1.4" fill="none" stroke="#3a9c2c" stroke-width="0.6"/>
<circle cx="142.0" cy="198.8" r="1.4" fill="none" stroke="#3a9c2c" stroke-width="0.6"/>
<circle cx="142.2" cy="220.6" r="1.4" fill="none" stroke="#3a9c2c" stroke-width="0.6"/>
<circle cx="143.0" cy="219.0" r="1.4" fill="none" stroke="#3a9c2c" stroke-width="0.6"/>
<circle cx="142.3" cy="209.1" r="1.4" fill="none" stroke="#3a9c2c" stroke-width="0.6"/>
<circle cx="142.8" cy="225.4" r="1.4" fill="none" stroke="#3a9c2c" stroke-width="0.6"/>
<path d="M34.5,188.0 H158.8 V271.5 H34.5 Z" fill="none" stroke="#444" stroke-width="1.3"/>
<line x1="32.5" y1="271.5" x2="34.5" y2="271.5" stroke="#444" stroke-width="1.1" />
<text x="32.5" y="274.7" font-size="9" text-anchor="end" fill="#000" >0</text>
<line x1="32.5" y1="257.6" x2="34.5" y2="257.6" stroke="#444" stroke-width="1.1" />
<text x="32.5" y="260.8" font-size="9" text-anchor="end" fill="#000" >1</text>
<line x1="32.5" y1="243.6" x2="34.5" y2="243.6" stroke="#444" stroke-width="1.1" />
<text x="32.5" y="246.9" font-size="9" text-anchor="end" fill="#000" >2</text>
<line x1="32.5" y1="229.7" x2="34.5" y2="229.7" stroke="#444" stroke-width="1.1" />
<text x="32.5" y="233.0" font-size="9" text-anchor="end" fill="#000" >3</text>
<line x1="32.5" y1="215.8" x2="34.5" y2="215.8" stroke="#444" stroke-width="1.1" />
<text x="32.5" y="219.0" font-size="9" text-anchor="end" fill="#000" >4</text>
<line x1="32.5" y1="201.8" x2="34.5" y2="201.8" stroke="#444" stroke-width="1.1" />
<text x="32.5" y="205.1" font-size="9" text-anchor="end" fill="#000" >5</text>
<line x1="32.5" y1="187.9" x2="34.5" y2="187.9" stroke="#444" stroke-width="1.1" />
<text x="32.5" y="191.2" font-size="9" text-anchor="end" fill="#000" >6</text>
<line x1="54.3" y1="271.5" x2="54.3" y2="273.5" stroke="#444" stroke-width="1.0" />
<text x="53.3" y="280.9" font-size="9" text-anchor="middle" fill="#000" >0.6</text>
<line x1="72.3" y1="271.5" x2="72.3" y2="273.5" stroke="#444" stroke-width="1.0" />
<text x="71.3" y="280.9" font-size="9" text-anchor="middle" fill="#000" >1.1</text>
<line x1="89.7" y1="271.5" x2="89.7" y2="273.5" stroke="#444" stroke-width="1.0" />
<text x="88.7" y="280.9" font-size="9" text-anchor="middle" fill="#000" >2</text>
<line x1="107.5" y1="271.5" x2="107.5" y2="273.5" stroke="#444" stroke-width="1.0" />
<text x="106.5" y="280.9" font-size="9" text-anchor="middle" fill="#000" >3.2</text>
<line x1="125.3" y1="271.5" x2="125.3" y2="273.5" stroke="#444" stroke-width="1.0" />
<text x="124.3" y="280.9" font-size="9" text-anchor="middle" fill="#000" >6.1</text>
<line x1="143.0" y1="271.5" x2="143.0" y2="273.5" stroke="#444" stroke-width="1.0" />
<text x="142.9" y="280.9" font-size="9" text-anchor="middle" fill="#000" >70.4</text>
<text x="98.0" y="292.6" font-size="9" text-anchor="middle" fill="#000" >Contact stiffness (N/m)</text>
<text x="26.6" y="229.9" font-size="9" text-anchor="middle" fill="#000" transform="rotate(-90 26.6 229.9)">N/C of YAP</text>
<line x1="54.0" y1="237.5" x2="72.0" y2="237.5" stroke="#444" stroke-width="1.2" />
<text x="62.1" y="233.8" font-size="9.5" text-anchor="middle" fill="#000" >ns</text>
<line x1="72.0" y1="231.8" x2="89.8" y2="231.8" stroke="#444" stroke-width="1.2" />
<text x="80.0" y="230.2" font-size="9.5" text-anchor="middle" fill="#000" >ns</text>
<line x1="89.3" y1="224.4" x2="108.0" y2="224.4" stroke="#444" stroke-width="1.2" />
<text x="98.7" y="225.6" font-size="9" text-anchor="middle" fill="#222" font-weight="bold" >*</text>
<line x1="106.4" y1="212.6" x2="124.9" y2="212.6" stroke="#444" stroke-width="1.2" />
<text x="115.7" y="212.9" font-size="9" text-anchor="middle" fill="#222" font-weight="bold" >**</text>
<line x1="124.0" y1="197.2" x2="142.8" y2="197.2" stroke="#444" stroke-width="1.2" />
<text x="133.4" y="197.1" font-size="9" text-anchor="middle" fill="#222" font-weight="bold" >***</text>
<text x="181.6" y="173.1" font-size="12" text-anchor="start" fill="#000" font-weight="bold" >E</text>
<text x="282.5" y="175.6" font-size="9" text-anchor="middle" fill="#000" >Cytochalasin&#160; (μM)</text>
<line x1="193.8" y1="179.2" x2="363.4" y2="179.2" stroke="#333" stroke-width="0.9" />
<text x="213.6" y="189.7" font-size="9" text-anchor="middle" fill="#000" >0</text>
<text x="258.4" y="189.7" font-size="9" text-anchor="middle" fill="#000" >0.5</text>
<text x="302.3" y="189.7" font-size="9" text-anchor="middle" fill="#000" >1</text>
<text x="346.1" y="189.7" font-size="9" text-anchor="middle" fill="#000" >2</text>
<rect x="193.0" y="192.1" width="40.5" height="39.9" fill="#030a03" />
<rect x="193.0" y="192.1" width="40.5" height="39.9" fill="#1a5a14" opacity="0.5" filter="url(#nz)"/>
<rect x="193.0" y="237.5" width="40.5" height="40.0" fill="#01010c" />
<rect x="193.0" y="237.5" width="40.5" height="40.0" fill="#101050" opacity="0.4" filter="url(#nz)"/>
<rect x="237.0" y="192.1" width="40.5" height="39.9" fill="#030a03" />
<rect x="237.0" y="192.1" width="40.5" height="39.9" fill="#1a5a14" opacity="0.5" filter="url(#nz)"/>
<rect x="237.0" y="237.5" width="40.5" height="40.0" fill="#01010c" />
<rect x="237.0" y="237.5" width="40.5" height="40.0" fill="#101050" opacity="0.4" filter="url(#nz)"/>
<rect x="281.2" y="192.1" width="40.5" height="39.9" fill="#030a03" />
<rect x="281.2" y="192.1" width="40.5" height="39.9" fill="#1a5a14" opacity="0.5" filter="url(#nz)"/>
<rect x="281.2" y="237.5" width="40.5" height="40.0" fill="#01010c" />
<rect x="281.2" y="237.5" width="40.5" height="40.0" fill="#101050" opacity="0.4" filter="url(#nz)"/>
<rect x="325.3" y="192.1" width="40.5" height="39.9" fill="#030a03" />
<rect x="325.3" y="192.1" width="40.5" height="39.9" fill="#1a5a14" opacity="0.5" filter="url(#nz)"/>
<rect x="325.3" y="237.5" width="40.5" height="40.0" fill="#01010c" />
<rect x="325.3" y="237.5" width="40.5" height="40.0" fill="#101050" opacity="0.4" filter="url(#nz)"/>
<text x="189.4" y="213.0" font-size="9" text-anchor="middle" fill="#30c030" transform="rotate(-90 189.4 213.0)">YAP</text>
<text x="189.4" y="257.0" font-size="9" text-anchor="middle" fill="#2222ff" transform="rotate(-90 189.4 257.0)">DAPI</text>
<g clip-path="url(#cp20)"><ellipse cx="212.0" cy="213.0" rx="16" ry="9.5" fill="#1e7a18" opacity="0.55" transform="rotate(10 212.0 213.0)" filter="url(#bt1.5)"/></g>
<g clip-path="url(#cp20)"><ellipse cx="206.0" cy="206.0" rx="8" ry="5" fill="#1e7a18" opacity="0.45" transform="rotate(-30 206.0 206.0)" filter="url(#bt1.5)"/></g>
<g clip-path="url(#cp20)"><ellipse cx="224.0" cy="221.0" rx="11" ry="2.5" fill="#1e7a18" opacity="0.6" transform="rotate(28 224.0 221.0)" filter="url(#bt1)"/></g>
<g clip-path="url(#cp20)"><ellipse cx="200.0" cy="216.0" rx="7" ry="2.5" fill="#1e7a18" opacity="0.5" transform="rotate(-10 200.0 216.0)" filter="url(#bt1)"/></g>
<g clip-path="url(#cp20)"><ellipse cx="212.3" cy="213.0" rx="2.8" ry="2.4" fill="#3cc03c" opacity="1" transform="rotate(0 212.3 213.0)" filter="url(#b0.6)"/></g>
<g clip-path="url(#cp20)"><ellipse cx="212.3" cy="213.0" rx="1.1" ry="0.9" fill="#1e7a18" opacity="1" transform="rotate(0 212.3 213.0)"/></g>
<g clip-path="url(#cp22)"><ellipse cx="256.0" cy="210.0" rx="7.5" ry="5.5" fill="#26901f" opacity="0.7" transform="rotate(-10 256.0 210.0)" filter="url(#bt1)"/></g>
<g clip-path="url(#cp22)"><ellipse cx="256.0" cy="212.0" rx="17" ry="2.5" fill="#1e7a18" opacity="0.55" transform="rotate(5 256.0 212.0)" filter="url(#bt1)"/></g>
<g clip-path="url(#cp22)"><ellipse cx="258.0" cy="202.0" rx="1.6" ry="7" fill="#1e7a18" opacity="0.5" transform="rotate(10 258.0 202.0)" filter="url(#bt1)"/></g>
<g clip-path="url(#cp24)"><ellipse cx="299.0" cy="210.5" rx="7" ry="6.5" fill="#2a9a22" opacity="0.85" transform="rotate(0 299.0 210.5)" filter="url(#bt1)"/></g>
<g clip-path="url(#cp24)"><ellipse cx="293.0" cy="207.0" rx="8" ry="2" fill="#1e7a18" opacity="0.5" transform="rotate(-25 293.0 207.0)" filter="url(#bt1)"/></g>
<g clip-path="url(#cp24)"><ellipse cx="302.5" cy="223.0" rx="1.4" ry="7.5" fill="#1e7a18" opacity="0.5" transform="rotate(-10 302.5 223.0)" filter="url(#bt1)"/></g>
<g clip-path="url(#cp26)"><ellipse cx="347.6" cy="209.0" rx="9" ry="7.5" fill="#1e7a18" opacity="0.6" transform="rotate(-20 347.6 209.0)" filter="url(#bt1)"/></g>
<g clip-path="url(#cp26)"><ellipse cx="338.0" cy="223.0" rx="1.4" ry="8" fill="#1e7a18" opacity="0.45" transform="rotate(35 338.0 223.0)" filter="url(#bt1)"/></g>
<g clip-path="url(#cp21)"><ellipse cx="212.3" cy="258.4" rx="2.9" ry="2.5" fill="#2424e8" opacity="1" transform="rotate(0 212.3 258.4)" filter="url(#b0.5)"/></g>
<g clip-path="url(#cp23)"><ellipse cx="256.2" cy="253.2" rx="3.0" ry="2.3" fill="#2424e8" opacity="1" transform="rotate(0 256.2 253.2)" filter="url(#b0.5)"/></g>
<g clip-path="url(#cp25)"><ellipse cx="301.7" cy="255.0" rx="3.4" ry="2.8" fill="#2424e8" opacity="1" transform="rotate(0 301.7 255.0)" filter="url(#b0.5)"/></g>
<g clip-path="url(#cp27)"><ellipse cx="345.5" cy="255.8" rx="4.2" ry="4.0" fill="#2424e8" opacity="1" transform="rotate(0 345.5 255.8)" filter="url(#b0.5)"/></g>
<line x1="222.8" y1="274.2" x2="230.7" y2="274.2" stroke="#ababab" stroke-width="1.7" />
<line x1="264.4" y1="274.2" x2="274.0" y2="274.2" stroke="#ababab" stroke-width="1.7" />
<line x1="305.0" y1="274.2" x2="318.2" y2="274.2" stroke="#ababab" stroke-width="1.7" />
<line x1="346.3" y1="274.2" x2="363.4" y2="274.2" stroke="#ababab" stroke-width="1.7" />
<text x="213.8" y="291.2" font-size="9" text-anchor="middle" fill="#000" >4.8</text>
<text x="258.6" y="291.2" font-size="9" text-anchor="middle" fill="#000" >5.3</text>
<text x="302.4" y="291.2" font-size="9" text-anchor="middle" fill="#000" >6.5</text>
<text x="345.8" y="291.2" font-size="9" text-anchor="middle" fill="#000" >10.7</text>
<line x1="192.0" y1="294.4" x2="365.2" y2="294.4" stroke="#333" stroke-width="0.9" />
<text x="283.0" y="304.5" font-size="9" text-anchor="middle" fill="#000" >Contact stiffness (N/m)</text>
<text x="379.1" y="173.1" font-size="12" text-anchor="start" fill="#000" font-weight="bold" >F</text>
<line x1="413.6" y1="215.4" x2="413.6" y2="237.9" stroke="#111" stroke-width="0.9" />
<rect x="407.7" y="224.0" width="11.8" height="7.5" fill="#fff" stroke="#111" stroke-width="1.0" />
<line x1="407.7" y1="227.6" x2="419.5" y2="227.6" stroke="#111" stroke-width="1.6" />
<circle cx="414.1" cy="228.6" r="1.1" fill="#111"/>
<circle cx="415.1" cy="219.0" r="1.1" fill="#111"/>
<circle cx="414.5" cy="226.9" r="1.1" fill="#111"/>
<circle cx="410.0" cy="224.8" r="1.1" fill="#111"/>
<circle cx="415.8" cy="220.6" r="1.1" fill="#111"/>
<circle cx="416.0" cy="221.2" r="1.1" fill="#111"/>
<circle cx="412.8" cy="228.3" r="1.1" fill="#111"/>
<circle cx="414.7" cy="233.0" r="1.1" fill="#111"/>
<circle cx="410.1" cy="234.1" r="1.1" fill="#111"/>
<circle cx="410.9" cy="230.9" r="1.1" fill="#111"/>
<circle cx="410.0" cy="229.0" r="1.1" fill="#111"/>
<circle cx="410.8" cy="237.6" r="1.1" fill="#111"/>
<circle cx="412.5" cy="233.0" r="1.1" fill="#111"/>
<circle cx="416.6" cy="235.4" r="1.1" fill="#111"/>
<circle cx="410.8" cy="225.7" r="1.1" fill="#111"/>
<circle cx="412.4" cy="230.2" r="1.1" fill="#111"/>
<circle cx="410.6" cy="228.7" r="1.1" fill="#111"/>
<circle cx="417.5" cy="221.8" r="1.1" fill="#111"/>
<circle cx="413.5" cy="227.5" r="1.1" fill="#111"/>
<circle cx="410.4" cy="233.4" r="1.1" fill="#111"/>
<circle cx="411.7" cy="229.0" r="1.1" fill="#111"/>
<circle cx="410.9" cy="222.2" r="1.1" fill="#111"/>
<line x1="430.0" y1="234.7" x2="430.0" y2="253.2" stroke="#444" stroke-width="0.9" />
<rect x="424.4" y="241.0" width="11.2" height="6.5" fill="#fff" stroke="#444" stroke-width="1.0" />
<line x1="424.4" y1="245.3" x2="435.6" y2="245.3" stroke="#444" stroke-width="1.6" />
<circle cx="433.6" cy="251.4" r="1.1" fill="#444"/>
<circle cx="427.2" cy="244.3" r="1.1" fill="#444"/>
<circle cx="426.2" cy="244.2" r="1.1" fill="#444"/>
<circle cx="433.8" cy="244.3" r="1.1" fill="#444"/>
<circle cx="431.6" cy="239.9" r="1.1" fill="#444"/>
<circle cx="428.9" cy="247.1" r="1.1" fill="#444"/>
<circle cx="432.2" cy="248.3" r="1.1" fill="#444"/>
<circle cx="432.2" cy="244.3" r="1.1" fill="#444"/>
<circle cx="427.8" cy="246.3" r="1.1" fill="#444"/>
<circle cx="433.9" cy="240.8" r="1.1" fill="#444"/>
<circle cx="432.4" cy="240.1" r="1.1" fill="#444"/>
<circle cx="431.9" cy="240.7" r="1.1" fill="#444"/>
<circle cx="430.1" cy="247.5" r="1.1" fill="#444"/>
<circle cx="426.2" cy="246.0" r="1.1" fill="#444"/>
<circle cx="428.2" cy="251.2" r="1.1" fill="#444"/>
<circle cx="431.5" cy="247.1" r="1.1" fill="#444"/>
<line x1="446.5" y1="242.6" x2="446.5" y2="258.4" stroke="#777" stroke-width="0.9" />
<rect x="440.8" y="247.1" width="11.5" height="4.9" fill="#fff" stroke="#777" stroke-width="1.0" />
<line x1="440.8" y1="248.1" x2="452.2" y2="248.1" stroke="#777" stroke-width="1.6" />
<circle cx="446.1" cy="244.5" r="1.1" fill="#777"/>
<circle cx="450.4" cy="244.9" r="1.1" fill="#777"/>
<circle cx="445.4" cy="244.6" r="1.1" fill="#777"/>
<circle cx="444.3" cy="252.4" r="1.1" fill="#777"/>
<circle cx="444.1" cy="252.7" r="1.1" fill="#777"/>
<circle cx="449.7" cy="248.3" r="1.1" fill="#777"/>
<circle cx="446.3" cy="246.3" r="1.1" fill="#777"/>
<circle cx="448.9" cy="248.1" r="1.1" fill="#777"/>
<circle cx="447.8" cy="254.7" r="1.1" fill="#777"/>
<circle cx="448.8" cy="245.4" r="1.1" fill="#777"/>
<circle cx="446.3" cy="247.3" r="1.1" fill="#777"/>
<circle cx="448.8" cy="253.0" r="1.1" fill="#777"/>
<circle cx="448.9" cy="251.0" r="1.1" fill="#777"/>
<circle cx="445.7" cy="244.2" r="1.1" fill="#777"/>
<circle cx="450.1" cy="250.3" r="1.1" fill="#777"/>
<circle cx="443.9" cy="247.5" r="1.1" fill="#777"/>
<line x1="462.2" y1="246.1" x2="462.2" y2="256.4" stroke="#9a9a9a" stroke-width="0.9" />
<rect x="456.4" y="249.1" width="11.6" height="4.5" fill="#fff" stroke="#9a9a9a" stroke-width="1.0" />
<line x1="456.4" y1="251.3" x2="468.0" y2="251.3" stroke="#9a9a9a" stroke-width="1.6" />
<circle cx="459.4" cy="253.8" r="1.1" fill="#9a9a9a"/>
<circle cx="464.7" cy="248.4" r="1.1" fill="#9a9a9a"/>
<circle cx="464.8" cy="253.6" r="1.1" fill="#9a9a9a"/>
<circle cx="463.5" cy="247.2" r="1.1" fill="#9a9a9a"/>
<circle cx="462.6" cy="252.1" r="1.1" fill="#9a9a9a"/>
<circle cx="458.3" cy="253.8" r="1.1" fill="#9a9a9a"/>
<circle cx="463.4" cy="247.4" r="1.1" fill="#9a9a9a"/>
<circle cx="465.7" cy="251.1" r="1.1" fill="#9a9a9a"/>
<circle cx="465.2" cy="251.6" r="1.1" fill="#9a9a9a"/>
<circle cx="459.9" cy="249.2" r="1.1" fill="#9a9a9a"/>
<circle cx="460.5" cy="252.8" r="1.1" fill="#9a9a9a"/>
<circle cx="462.9" cy="252.8" r="1.1" fill="#9a9a9a"/>
<circle cx="461.6" cy="252.7" r="1.1" fill="#9a9a9a"/>
<circle cx="465.5" cy="253.8" r="1.1" fill="#9a9a9a"/>
<circle cx="461.9" cy="252.1" r="1.1" fill="#9a9a9a"/>
<circle cx="465.4" cy="250.8" r="1.1" fill="#9a9a9a"/>
<path d="M405.5,191.3 H470.4 V270.2 H405.5 Z" fill="none" stroke="#333" stroke-width="1.0"/>
<line x1="403.5" y1="270.2" x2="405.5" y2="270.2" stroke="#333" stroke-width="0.9" />
<text x="402.6" y="273.4" font-size="9" text-anchor="end" fill="#000" >0</text>
<line x1="403.5" y1="250.5" x2="405.5" y2="250.5" stroke="#333" stroke-width="0.9" />
<text x="402.6" y="253.7" font-size="9" text-anchor="end" fill="#000" >5</text>
<line x1="403.5" y1="230.8" x2="405.5" y2="230.8" stroke="#333" stroke-width="0.9" />
<text x="402.6" y="234.0" font-size="9" text-anchor="end" fill="#000" >10</text>
<line x1="403.5" y1="211.0" x2="405.5" y2="211.0" stroke="#333" stroke-width="0.9" />
<text x="402.6" y="214.3" font-size="9" text-anchor="end" fill="#000" >15</text>
<line x1="403.5" y1="191.3" x2="405.5" y2="191.3" stroke="#333" stroke-width="0.9" />
<text x="402.6" y="194.5" font-size="9" text-anchor="end" fill="#000" >20</text>
<line x1="413.6" y1="270.2" x2="413.6" y2="272.2" stroke="#333" stroke-width="0.9" />
<text x="413.6" y="280.0" font-size="9" text-anchor="middle" fill="#000" >0</text>
<line x1="430.0" y1="270.2" x2="430.0" y2="272.2" stroke="#333" stroke-width="0.9" />
<text x="430.0" y="280.0" font-size="9" text-anchor="middle" fill="#000" >0.5</text>
<line x1="446.5" y1="270.2" x2="446.5" y2="272.2" stroke="#333" stroke-width="0.9" />
<text x="446.5" y="280.0" font-size="9" text-anchor="middle" fill="#000" >1</text>
<line x1="462.2" y1="270.2" x2="462.2" y2="272.2" stroke="#333" stroke-width="0.9" />
<text x="462.2" y="280.0" font-size="9" text-anchor="middle" fill="#000" >2</text>
<text x="437.7" y="289.2" font-size="9" text-anchor="middle" fill="#000" >Cytochalasin</text>
<text x="386.8" y="230.8" font-size="9" text-anchor="middle" fill="#000" transform="rotate(-90 386.8 230.8)">Contact stiffness (N/m)</text>
<line x1="413.8" y1="201.3" x2="462.8" y2="201.3" stroke="#222" stroke-width="1.1" />
<text x="438.3" y="202.7" font-size="9" text-anchor="middle" fill="#222" font-weight="bold" >***</text>
<line x1="413.8" y1="207.4" x2="445.1" y2="207.4" stroke="#222" stroke-width="1.1" />
<text x="429.5" y="208.4" font-size="9" text-anchor="middle" fill="#222" font-weight="bold" >***</text>
<line x1="413.8" y1="213.5" x2="429.2" y2="213.5" stroke="#222" stroke-width="1.1" />
<text x="421.5" y="215.2" font-size="9" text-anchor="middle" fill="#222" font-weight="bold" >***</text>
<text x="480.2" y="172.9" font-size="12" text-anchor="start" fill="#000" font-weight="bold" >G</text>
<line x1="510.8" y1="217.1" x2="510.8" y2="246.4" stroke="#111" stroke-width="0.9" />
<rect x="504.8" y="229.9" width="12.0" height="13.2" fill="#fff" stroke="#111" stroke-width="1.0" />
<line x1="504.8" y1="236.9" x2="516.8" y2="236.9" stroke="#111" stroke-width="1.6" />
<circle cx="512.1" cy="235.5" r="1.5" fill="none" stroke="#111" stroke-width="0.6"/>
<circle cx="510.9" cy="234.1" r="1.5" fill="none" stroke="#111" stroke-width="0.6"/>
<circle cx="509.4" cy="233.8" r="1.5" fill="none" stroke="#111" stroke-width="0.6"/>
<circle cx="509.8" cy="235.2" r="1.5" fill="none" stroke="#111" stroke-width="0.6"/>
<circle cx="511.7" cy="245.4" r="1.5" fill="none" stroke="#111" stroke-width="0.6"/>
<circle cx="510.7" cy="239.5" r="1.5" fill="none" stroke="#111" stroke-width="0.6"/>
<circle cx="511.0" cy="229.8" r="1.5" fill="none" stroke="#111" stroke-width="0.6"/>
<circle cx="510.9" cy="236.9" r="1.5" fill="none" stroke="#111" stroke-width="0.6"/>
<circle cx="511.7" cy="233.2" r="1.5" fill="none" stroke="#111" stroke-width="0.6"/>
<circle cx="511.0" cy="241.0" r="1.5" fill="none" stroke="#111" stroke-width="0.6"/>
<circle cx="510.1" cy="238.1" r="1.5" fill="none" stroke="#111" stroke-width="0.6"/>
<circle cx="510.8" cy="228.6" r="1.5" fill="none" stroke="#111" stroke-width="0.6"/>
<line x1="526.8" y1="240.8" x2="526.8" y2="256.5" stroke="#444" stroke-width="0.9" />
<rect x="521.0" y="245.7" width="11.6" height="5.6" fill="#fff" stroke="#444" stroke-width="1.0" />
<line x1="521.0" y1="248.1" x2="532.6" y2="248.1" stroke="#444" stroke-width="1.6" />
<circle cx="527.6" cy="247.9" r="1.5" fill="none" stroke="#444" stroke-width="0.6"/>
<circle cx="526.6" cy="243.9" r="1.5" fill="none" stroke="#444" stroke-width="0.6"/>
<circle cx="526.8" cy="247.5" r="1.5" fill="none" stroke="#444" stroke-width="0.6"/>
<circle cx="527.4" cy="248.3" r="1.5" fill="none" stroke="#444" stroke-width="0.6"/>
<circle cx="526.9" cy="248.8" r="1.5" fill="none" stroke="#444" stroke-width="0.6"/>
<circle cx="528.1" cy="248.6" r="1.5" fill="none" stroke="#444" stroke-width="0.6"/>
<circle cx="527.9" cy="246.7" r="1.5" fill="none" stroke="#444" stroke-width="0.6"/>
<circle cx="526.1" cy="243.4" r="1.5" fill="none" stroke="#444" stroke-width="0.6"/>
<circle cx="528.1" cy="247.9" r="1.5" fill="none" stroke="#444" stroke-width="0.6"/>
<circle cx="525.7" cy="245.1" r="1.5" fill="none" stroke="#444" stroke-width="0.6"/>
<circle cx="526.6" cy="252.5" r="1.5" fill="none" stroke="#444" stroke-width="0.6"/>
<circle cx="526.0" cy="253.4" r="1.5" fill="none" stroke="#444" stroke-width="0.6"/>
<circle cx="526.8" cy="234.0" r="1.5" fill="none" stroke="#444" stroke-width="0.7"/>
<line x1="543.3" y1="244.1" x2="543.3" y2="259.9" stroke="#777" stroke-width="0.9" />
<rect x="537.0" y="249.1" width="12.6" height="6.0" fill="#fff" stroke="#777" stroke-width="1.0" />
<line x1="537.0" y1="251.5" x2="549.6" y2="251.5" stroke="#777" stroke-width="1.6" />
<circle cx="543.8" cy="256.8" r="1.5" fill="none" stroke="#777" stroke-width="0.6"/>
<circle cx="544.5" cy="249.1" r="1.5" fill="none" stroke="#777" stroke-width="0.6"/>
<circle cx="543.9" cy="255.4" r="1.5" fill="none" stroke="#777" stroke-width="0.6"/>
<circle cx="542.2" cy="250.4" r="1.5" fill="none" stroke="#777" stroke-width="0.6"/>
<circle cx="544.7" cy="247.8" r="1.5" fill="none" stroke="#777" stroke-width="0.6"/>
<circle cx="544.7" cy="254.5" r="1.5" fill="none" stroke="#777" stroke-width="0.6"/>
<circle cx="543.3" cy="252.6" r="1.5" fill="none" stroke="#777" stroke-width="0.6"/>
<circle cx="544.3" cy="245.2" r="1.5" fill="none" stroke="#777" stroke-width="0.6"/>
<circle cx="543.1" cy="255.3" r="1.5" fill="none" stroke="#777" stroke-width="0.6"/>
<circle cx="542.8" cy="251.6" r="1.5" fill="none" stroke="#777" stroke-width="0.6"/>
<circle cx="542.8" cy="254.8" r="1.5" fill="none" stroke="#777" stroke-width="0.6"/>
<circle cx="541.9" cy="249.8" r="1.5" fill="none" stroke="#777" stroke-width="0.6"/>
<line x1="559.9" y1="246.4" x2="559.9" y2="257.6" stroke="#9a9a9a" stroke-width="0.9" />
<rect x="554.0" y="250.1" width="11.8" height="4.9" fill="#fff" stroke="#9a9a9a" stroke-width="1.0" />
<line x1="554.0" y1="252.6" x2="565.8" y2="252.6" stroke="#9a9a9a" stroke-width="1.6" />
<circle cx="559.7" cy="252.0" r="1.5" fill="none" stroke="#9a9a9a" stroke-width="0.6"/>
<circle cx="559.4" cy="256.6" r="1.5" fill="none" stroke="#9a9a9a" stroke-width="0.6"/>
<circle cx="559.9" cy="251.5" r="1.5" fill="none" stroke="#9a9a9a" stroke-width="0.6"/>
<circle cx="561.4" cy="255.7" r="1.5" fill="none" stroke="#9a9a9a" stroke-width="0.6"/>
<circle cx="561.3" cy="250.2" r="1.5" fill="none" stroke="#9a9a9a" stroke-width="0.6"/>
<circle cx="559.2" cy="255.2" r="1.5" fill="none" stroke="#9a9a9a" stroke-width="0.6"/>
<circle cx="560.7" cy="256.1" r="1.5" fill="none" stroke="#9a9a9a" stroke-width="0.6"/>
<circle cx="558.8" cy="253.7" r="1.5" fill="none" stroke="#9a9a9a" stroke-width="0.6"/>
<circle cx="561.1" cy="252.7" r="1.5" fill="none" stroke="#9a9a9a" stroke-width="0.6"/>
<circle cx="559.2" cy="249.9" r="1.5" fill="none" stroke="#9a9a9a" stroke-width="0.6"/>
<circle cx="561.2" cy="254.7" r="1.5" fill="none" stroke="#9a9a9a" stroke-width="0.6"/>
<circle cx="560.5" cy="251.9" r="1.5" fill="none" stroke="#9a9a9a" stroke-width="0.6"/>
<path d="M502.4,190.8 H568.2 V268.9 H502.4 Z" fill="none" stroke="#333" stroke-width="1.0"/>
<line x1="500.4" y1="268.9" x2="502.4" y2="268.9" stroke="#333" stroke-width="0.9" />
<text x="498.7" y="272.1" font-size="9" text-anchor="end" fill="#000" >0</text>
<line x1="500.4" y1="246.4" x2="502.4" y2="246.4" stroke="#333" stroke-width="0.9" />
<text x="498.7" y="249.6" font-size="9" text-anchor="end" fill="#000" >2</text>
<line x1="500.4" y1="223.9" x2="502.4" y2="223.9" stroke="#333" stroke-width="0.9" />
<text x="498.7" y="227.1" font-size="9" text-anchor="end" fill="#000" >4</text>
<line x1="500.4" y1="201.4" x2="502.4" y2="201.4" stroke="#333" stroke-width="0.9" />
<text x="498.7" y="204.6" font-size="9" text-anchor="end" fill="#000" >6</text>
<line x1="510.8" y1="268.9" x2="510.8" y2="270.9" stroke="#333" stroke-width="0.9" />
<text x="510.8" y="278.2" font-size="9" text-anchor="middle" fill="#000" >0</text>
<line x1="526.8" y1="268.9" x2="526.8" y2="270.9" stroke="#333" stroke-width="0.9" />
<text x="526.8" y="278.2" font-size="9" text-anchor="middle" fill="#000" >0.5</text>
<line x1="543.3" y1="268.9" x2="543.3" y2="270.9" stroke="#333" stroke-width="0.9" />
<text x="543.3" y="278.2" font-size="9" text-anchor="middle" fill="#000" >1</text>
<line x1="559.9" y1="268.9" x2="559.9" y2="270.9" stroke="#333" stroke-width="0.9" />
<text x="559.9" y="278.2" font-size="9" text-anchor="middle" fill="#000" >2</text>
<text x="535.0" y="289.2" font-size="9" text-anchor="middle" fill="#000" >Cytochalasin (μM)</text>
<text x="489.7" y="230.4" font-size="8.5" text-anchor="middle" fill="#000" transform="rotate(-90 489.7 230.4)">N/C of YAP</text>
<line x1="510.1" y1="198.1" x2="558.0" y2="198.1" stroke="#222" stroke-width="1.1" />
<text x="534.0" y="199.8" font-size="9" text-anchor="middle" fill="#222" font-weight="bold" >***</text>
<line x1="510.1" y1="204.2" x2="542.3" y2="204.2" stroke="#222" stroke-width="1.1" />
<text x="526.2" y="205.8" font-size="9" text-anchor="middle" fill="#222" font-weight="bold" >***</text>
<line x1="510.1" y1="210.2" x2="526.6" y2="210.2" stroke="#222" stroke-width="1.1" />
<text x="518.4" y="212.0" font-size="9" text-anchor="middle" fill="#222" font-weight="bold" >***</text>
<text x="575.3" y="173.8" font-size="12" text-anchor="start" fill="#000" font-weight="bold" >H</text>
<line x1="609.1" y1="246.4" x2="609.1" y2="258.7" stroke="#a0a0a0" stroke-width="0.9" />
<rect x="603.4" y="251.4" width="11.4" height="4.4" fill="#fff" stroke="#a0a0a0" stroke-width="1.0" />
<line x1="603.4" y1="253.1" x2="614.8" y2="253.1" stroke="#a0a0a0" stroke-width="1.6" />
<circle cx="607.8" cy="256.3" r="1.5" fill="none" stroke="#a0a0a0" stroke-width="0.6"/>
<circle cx="608.9" cy="251.5" r="1.5" fill="none" stroke="#a0a0a0" stroke-width="0.6"/>
<circle cx="610.4" cy="256.5" r="1.5" fill="none" stroke="#a0a0a0" stroke-width="0.6"/>
<circle cx="610.0" cy="251.9" r="1.5" fill="none" stroke="#a0a0a0" stroke-width="0.6"/>
<circle cx="610.2" cy="256.3" r="1.5" fill="none" stroke="#a0a0a0" stroke-width="0.6"/>
<circle cx="610.2" cy="256.6" r="1.5" fill="none" stroke="#a0a0a0" stroke-width="0.6"/>
<circle cx="608.6" cy="253.2" r="1.5" fill="none" stroke="#a0a0a0" stroke-width="0.6"/>
<circle cx="610.4" cy="252.5" r="1.5" fill="none" stroke="#a0a0a0" stroke-width="0.6"/>
<circle cx="608.0" cy="254.4" r="1.5" fill="none" stroke="#a0a0a0" stroke-width="0.6"/>
<circle cx="608.3" cy="252.7" r="1.5" fill="none" stroke="#a0a0a0" stroke-width="0.6"/>
<circle cx="608.1" cy="256.0" r="1.5" fill="none" stroke="#a0a0a0" stroke-width="0.6"/>
<circle cx="608.2" cy="256.9" r="1.5" fill="none" stroke="#a0a0a0" stroke-width="0.6"/>
<circle cx="609.1" cy="243.1" r="1.5" fill="none" stroke="#a0a0a0" stroke-width="0.7"/>
<line x1="625.5" y1="245.3" x2="625.5" y2="259.9" stroke="#888" stroke-width="0.9" />
<rect x="619.6" y="249.3" width="11.7" height="6.1" fill="#fff" stroke="#888" stroke-width="1.0" />
<line x1="619.6" y1="251.5" x2="631.4" y2="251.5" stroke="#888" stroke-width="1.6" />
<circle cx="624.9" cy="253.7" r="1.5" fill="none" stroke="#888" stroke-width="0.6"/>
<circle cx="624.9" cy="250.0" r="1.5" fill="none" stroke="#888" stroke-width="0.6"/>
<circle cx="624.5" cy="252.0" r="1.5" fill="none" stroke="#888" stroke-width="0.6"/>
<circle cx="624.1" cy="253.4" r="1.5" fill="none" stroke="#888" stroke-width="0.6"/>
<circle cx="624.0" cy="254.3" r="1.5" fill="none" stroke="#888" stroke-width="0.6"/>
<circle cx="625.7" cy="250.2" r="1.5" fill="none" stroke="#888" stroke-width="0.6"/>
<circle cx="625.4" cy="255.1" r="1.5" fill="none" stroke="#888" stroke-width="0.6"/>
<circle cx="624.3" cy="247.7" r="1.5" fill="none" stroke="#888" stroke-width="0.6"/>
<circle cx="625.3" cy="249.3" r="1.5" fill="none" stroke="#888" stroke-width="0.6"/>
<circle cx="626.5" cy="252.1" r="1.5" fill="none" stroke="#888" stroke-width="0.6"/>
<circle cx="625.5" cy="252.9" r="1.5" fill="none" stroke="#888" stroke-width="0.6"/>
<circle cx="626.9" cy="250.6" r="1.5" fill="none" stroke="#888" stroke-width="0.6"/>
<line x1="641.7" y1="240.9" x2="641.7" y2="256.5" stroke="#555" stroke-width="0.9" />
<rect x="635.9" y="246.0" width="11.6" height="5.9" fill="#fff" stroke="#555" stroke-width="1.0" />
<line x1="635.9" y1="248.7" x2="647.5" y2="248.7" stroke="#555" stroke-width="1.6" />
<circle cx="642.7" cy="250.0" r="1.5" fill="none" stroke="#555" stroke-width="0.6"/>
<circle cx="642.1" cy="246.8" r="1.5" fill="none" stroke="#555" stroke-width="0.6"/>
<circle cx="641.2" cy="249.5" r="1.5" fill="none" stroke="#555" stroke-width="0.6"/>
<circle cx="640.6" cy="253.9" r="1.5" fill="none" stroke="#555" stroke-width="0.6"/>
<circle cx="642.4" cy="253.6" r="1.5" fill="none" stroke="#555" stroke-width="0.6"/>
<circle cx="640.7" cy="250.9" r="1.5" fill="none" stroke="#555" stroke-width="0.6"/>
<circle cx="642.7" cy="253.3" r="1.5" fill="none" stroke="#555" stroke-width="0.6"/>
<circle cx="642.2" cy="244.8" r="1.5" fill="none" stroke="#555" stroke-width="0.6"/>
<circle cx="640.9" cy="250.6" r="1.5" fill="none" stroke="#555" stroke-width="0.6"/>
<circle cx="641.6" cy="250.5" r="1.5" fill="none" stroke="#555" stroke-width="0.6"/>
<circle cx="641.5" cy="252.1" r="1.5" fill="none" stroke="#555" stroke-width="0.6"/>
<circle cx="643.1" cy="250.8" r="1.5" fill="none" stroke="#555" stroke-width="0.6"/>
<circle cx="641.7" cy="234.1" r="1.5" fill="none" stroke="#555" stroke-width="0.7"/>
<line x1="658.2" y1="217.4" x2="658.2" y2="246.4" stroke="#111" stroke-width="0.9" />
<rect x="652.4" y="230.0" width="11.7" height="12.9" fill="#fff" stroke="#111" stroke-width="1.0" />
<line x1="652.4" y1="237.0" x2="664.1" y2="237.0" stroke="#111" stroke-width="1.6" />
<circle cx="658.3" cy="221.3" r="1.5" fill="none" stroke="#111" stroke-width="0.6"/>
<circle cx="659.6" cy="238.3" r="1.5" fill="none" stroke="#111" stroke-width="0.6"/>
<circle cx="657.8" cy="237.2" r="1.5" fill="none" stroke="#111" stroke-width="0.6"/>
<circle cx="657.8" cy="245.9" r="1.5" fill="none" stroke="#111" stroke-width="0.6"/>
<circle cx="658.2" cy="234.7" r="1.5" fill="none" stroke="#111" stroke-width="0.6"/>
<circle cx="658.2" cy="239.0" r="1.5" fill="none" stroke="#111" stroke-width="0.6"/>
<circle cx="657.5" cy="245.3" r="1.5" fill="none" stroke="#111" stroke-width="0.6"/>
<circle cx="657.9" cy="241.5" r="1.5" fill="none" stroke="#111" stroke-width="0.6"/>
<circle cx="656.8" cy="243.1" r="1.5" fill="none" stroke="#111" stroke-width="0.6"/>
<circle cx="657.4" cy="237.3" r="1.5" fill="none" stroke="#111" stroke-width="0.6"/>
<circle cx="658.3" cy="232.8" r="1.5" fill="none" stroke="#111" stroke-width="0.6"/>
<circle cx="658.7" cy="229.3" r="1.5" fill="none" stroke="#111" stroke-width="0.6"/>
<path d="M601.0,190.4 H666.9 V268.8 H601.0 Z" fill="none" stroke="#333" stroke-width="1.0"/>
<line x1="599.0" y1="268.8" x2="601.0" y2="268.8" stroke="#333" stroke-width="0.9" />
<text x="597.3" y="272.0" font-size="9" text-anchor="end" fill="#000" >0</text>
<line x1="599.0" y1="246.4" x2="601.0" y2="246.4" stroke="#333" stroke-width="0.9" />
<text x="597.3" y="249.7" font-size="9" text-anchor="end" fill="#000" >2</text>
<line x1="599.0" y1="224.1" x2="601.0" y2="224.1" stroke="#333" stroke-width="0.9" />
<text x="597.3" y="227.3" font-size="9" text-anchor="end" fill="#000" >4</text>
<line x1="599.0" y1="201.7" x2="601.0" y2="201.7" stroke="#333" stroke-width="0.9" />
<text x="597.3" y="205.0" font-size="9" text-anchor="end" fill="#000" >6</text>
<line x1="609.1" y1="268.8" x2="609.1" y2="270.8" stroke="#333" stroke-width="0.9" />
<text x="609.1" y="278.2" font-size="9" text-anchor="middle" fill="#000" >4.8</text>
<line x1="625.5" y1="268.8" x2="625.5" y2="270.8" stroke="#333" stroke-width="0.9" />
<text x="625.5" y="278.2" font-size="9" text-anchor="middle" fill="#000" >5.3</text>
<line x1="641.7" y1="268.8" x2="641.7" y2="270.8" stroke="#333" stroke-width="0.9" />
<text x="641.7" y="278.2" font-size="9" text-anchor="middle" fill="#000" >6.5</text>
<line x1="658.2" y1="268.8" x2="658.2" y2="270.8" stroke="#333" stroke-width="0.9" />
<text x="658.2" y="278.2" font-size="9" text-anchor="middle" fill="#000" >10.7</text>
<text x="633.4" y="289.2" font-size="9" text-anchor="middle" fill="#000" >Contact stiffness (N/m)</text>
<text x="588.1" y="230.4" font-size="8.5" text-anchor="middle" fill="#000" transform="rotate(-90 588.1 230.4)">N/C of YAP</text>
<line x1="606.8" y1="197.6" x2="654.3" y2="197.6" stroke="#222" stroke-width="1.1" />
<text x="630.5" y="199.2" font-size="9" text-anchor="middle" fill="#222" font-weight="bold" >***</text>
<line x1="622.8" y1="204.2" x2="654.3" y2="204.2" stroke="#222" stroke-width="1.1" />
<text x="638.5" y="205.8" font-size="9" text-anchor="middle" fill="#222" font-weight="bold" >***</text>
<text x="646.6" y="212.2" font-size="9" text-anchor="middle" fill="#222" font-weight="bold" >**</text>
<line x1="639.0" y1="210.7" x2="654.3" y2="210.7" stroke="#222" stroke-width="1.1" />
<text x="0.5" y="322.8" font-size="12" text-anchor="start" fill="#000" font-weight="bold" >I</text>
<text x="5.4" y="328.0" font-size="9" text-anchor="start" fill="#000" font-weight="bold" >(i)</text>
<text x="165.8" y="332.5" font-size="9" text-anchor="start" fill="#000" font-weight="bold" >(ii)</text>
<text x="332.4" y="332.5" font-size="9" text-anchor="start" fill="#000" font-weight="bold" >(iii)</text>
<text x="497.6" y="332.5" font-size="9" text-anchor="start" fill="#000" font-weight="bold" >(iv)</text>
<polygon points="44.7,408.0 139.2,346.5 139.2,351.5 44.7,412.6" fill="#cfcfcf" opacity="0.7"/>
<circle cx="81.4" cy="390.3" r="2.2" fill="none" stroke="#C77CFF" stroke-width="0.75"/>
<circle cx="76.2" cy="394.4" r="2.2" fill="none" stroke="#C77CFF" stroke-width="0.75"/>
<circle cx="85.0" cy="389.6" r="2.2" fill="none" stroke="#C77CFF" stroke-width="0.75"/>
<circle cx="80.4" cy="388.6" r="2.2" fill="none" stroke="#C77CFF" stroke-width="0.75"/>
<circle cx="72.4" cy="389.2" r="2.2" fill="none" stroke="#C77CFF" stroke-width="0.75"/>
<circle cx="80.2" cy="397.8" r="2.2" fill="none" stroke="#C77CFF" stroke-width="0.75"/>
<circle cx="81.7" cy="391.8" r="2.2" fill="none" stroke="#C77CFF" stroke-width="0.75"/>
<circle cx="78.9" cy="393.9" r="2.2" fill="none" stroke="#C77CFF" stroke-width="0.75"/>
<circle cx="78.6" cy="389.7" r="2.2" fill="none" stroke="#C77CFF" stroke-width="0.75"/>
<circle cx="82.9" cy="397.0" r="2.2" fill="none" stroke="#C77CFF" stroke-width="0.75"/>
<circle cx="79.7" cy="388.9" r="2.2" fill="none" stroke="#C77CFF" stroke-width="0.75"/>
<circle cx="81.1" cy="395.2" r="2.2" fill="none" stroke="#C77CFF" stroke-width="0.75"/>
<circle cx="74.9" cy="390.9" r="2.2" fill="none" stroke="#C77CFF" stroke-width="0.75"/>
<circle cx="76.7" cy="392.1" r="2.2" fill="none" stroke="#C77CFF" stroke-width="0.75"/>
<circle cx="73.3" cy="390.5" r="2.2" fill="none" stroke="#C77CFF" stroke-width="0.75"/>
<circle cx="80.2" cy="395.6" r="2.2" fill="none" stroke="#C77CFF" stroke-width="0.75"/>
<circle cx="80.2" cy="393.8" r="2.2" fill="none" stroke="#C77CFF" stroke-width="0.75"/>
<circle cx="71.9" cy="395.5" r="2.2" fill="none" stroke="#C77CFF" stroke-width="0.75"/>
<circle cx="82.5" cy="392.4" r="2.2" fill="none" stroke="#C77CFF" stroke-width="0.75"/>
<circle cx="79.0" cy="395.9" r="2.2" fill="none" stroke="#C77CFF" stroke-width="0.75"/>
<circle cx="80.7" cy="388.0" r="2.2" fill="none" stroke="#C77CFF" stroke-width="0.75"/>
<circle cx="75.2" cy="390.5" r="2.2" fill="none" stroke="#C77CFF" stroke-width="0.75"/>
<circle cx="72.8" cy="392.9" r="2.2" fill="none" stroke="#C77CFF" stroke-width="0.75"/>
<circle cx="74.6" cy="387.7" r="2.2" fill="none" stroke="#C77CFF" stroke-width="0.75"/>
<circle cx="81.7" cy="389.0" r="2.2" fill="none" stroke="#C77CFF" stroke-width="0.75"/>
<circle cx="77.0" cy="392.9" r="2.2" fill="none" stroke="#C77CFF" stroke-width="0.75"/>
<circle cx="78.3" cy="394.4" r="2.2" fill="none" stroke="#C77CFF" stroke-width="0.75"/>
<circle cx="80.1" cy="397.0" r="2.2" fill="none" stroke="#C77CFF" stroke-width="0.75"/>
<circle cx="80.4" cy="390.9" r="2.2" fill="none" stroke="#C77CFF" stroke-width="0.75"/>
<circle cx="75.2" cy="391.6" r="2.2" fill="none" stroke="#C77CFF" stroke-width="0.75"/>
<circle cx="81.8" cy="393.7" r="2.2" fill="none" stroke="#C77CFF" stroke-width="0.75"/>
<circle cx="72.0" cy="388.8" r="2.2" fill="none" stroke="#C77CFF" stroke-width="0.75"/>
<circle cx="72.7" cy="392.9" r="2.2" fill="none" stroke="#C77CFF" stroke-width="0.75"/>
<circle cx="81.1" cy="388.0" r="2.2" fill="none" stroke="#C77CFF" stroke-width="0.75"/>
<circle cx="80.9" cy="393.3" r="2.2" fill="none" stroke="#C77CFF" stroke-width="0.75"/>
<circle cx="78.1" cy="389.0" r="2.2" fill="none" stroke="#C77CFF" stroke-width="0.75"/>
<circle cx="78.1" cy="387.8" r="2.2" fill="none" stroke="#C77CFF" stroke-width="0.75"/>
<circle cx="74.5" cy="388.2" r="2.2" fill="none" stroke="#C77CFF" stroke-width="0.75"/>
<circle cx="84.9" cy="391.9" r="2.2" fill="none" stroke="#C77CFF" stroke-width="0.75"/>
<circle cx="78.0" cy="392.6" r="2.2" fill="none" stroke="#C77CFF" stroke-width="0.75"/>
<circle cx="82.8" cy="389.2" r="2.2" fill="none" stroke="#C77CFF" stroke-width="0.75"/>
<circle cx="75.4" cy="393.0" r="2.2" fill="none" stroke="#C77CFF" stroke-width="0.75"/>
<circle cx="77.1" cy="376.1" r="2.2" fill="none" stroke="#C77CFF" stroke-width="0.75"/>
<circle cx="81.7" cy="380.5" r="2.2" fill="none" stroke="#C77CFF" stroke-width="0.75"/>
<circle cx="76.2" cy="391.7" r="2.2" fill="none" stroke="#C77CFF" stroke-width="0.75"/>
<circle cx="76.1" cy="381.2" r="2.2" fill="none" stroke="#C77CFF" stroke-width="0.75"/>
<circle cx="84.6" cy="389.9" r="2.2" fill="none" stroke="#C77CFF" stroke-width="0.75"/>
<circle cx="83.2" cy="379.9" r="2.2" fill="none" stroke="#C77CFF" stroke-width="0.75"/>
<circle cx="77.3" cy="374.7" r="2.2" fill="none" stroke="#C77CFF" stroke-width="0.75"/>
<circle cx="43.1" cy="399.8" r="2.2" fill="none" stroke="#F8766D" stroke-width="0.75"/>
<circle cx="42.6" cy="401.6" r="2.2" fill="none" stroke="#F8766D" stroke-width="0.75"/>
<circle cx="49.6" cy="394.0" r="2.2" fill="none" stroke="#F8766D" stroke-width="0.75"/>
<circle cx="45.8" cy="397.8" r="2.2" fill="none" stroke="#F8766D" stroke-width="0.75"/>
<circle cx="62.2" cy="385.8" r="2.2" fill="none" stroke="#F8766D" stroke-width="0.75"/>
<circle cx="42.6" cy="397.4" r="2.2" fill="none" stroke="#F8766D" stroke-width="0.75"/>
<circle cx="45.3" cy="403.4" r="2.2" fill="none" stroke="#F8766D" stroke-width="0.75"/>
<circle cx="64.3" cy="389.5" r="2.2" fill="none" stroke="#F8766D" stroke-width="0.75"/>
<circle cx="49.3" cy="402.3" r="2.2" fill="none" stroke="#F8766D" stroke-width="0.75"/>
<circle cx="51.2" cy="404.4" r="2.2" fill="none" stroke="#F8766D" stroke-width="0.75"/>
<circle cx="56.3" cy="382.5" r="2.2" fill="none" stroke="#F8766D" stroke-width="0.75"/>
<circle cx="51.0" cy="396.4" r="2.2" fill="none" stroke="#F8766D" stroke-width="0.75"/>
<circle cx="43.6" cy="395.6" r="2.2" fill="none" stroke="#F8766D" stroke-width="0.75"/>
<circle cx="44.9" cy="394.8" r="2.2" fill="none" stroke="#F8766D" stroke-width="0.75"/>
<circle cx="64.5" cy="390.2" r="2.2" fill="none" stroke="#F8766D" stroke-width="0.75"/>
<circle cx="48.4" cy="395.3" r="2.2" fill="none" stroke="#F8766D" stroke-width="0.75"/>
<circle cx="47.0" cy="390.9" r="2.2" fill="none" stroke="#F8766D" stroke-width="0.75"/>
<circle cx="51.3" cy="385.9" r="2.2" fill="none" stroke="#F8766D" stroke-width="0.75"/>
<circle cx="61.6" cy="391.0" r="2.2" fill="none" stroke="#F8766D" stroke-width="0.75"/>
<circle cx="57.3" cy="383.0" r="2.2" fill="none" stroke="#F8766D" stroke-width="0.75"/>
<circle cx="55.4" cy="396.3" r="2.2" fill="none" stroke="#F8766D" stroke-width="0.75"/>
<circle cx="59.4" cy="383.9" r="2.2" fill="none" stroke="#F8766D" stroke-width="0.75"/>
<circle cx="53.1" cy="390.8" r="2.2" fill="none" stroke="#F8766D" stroke-width="0.75"/>
<circle cx="60.2" cy="391.4" r="2.2" fill="none" stroke="#F8766D" stroke-width="0.75"/>
<circle cx="43.7" cy="399.4" r="2.2" fill="none" stroke="#F8766D" stroke-width="0.75"/>
<circle cx="64.3" cy="384.6" r="2.2" fill="none" stroke="#F8766D" stroke-width="0.75"/>
<circle cx="50.6" cy="390.7" r="2.2" fill="none" stroke="#F8766D" stroke-width="0.75"/>
<circle cx="49.5" cy="395.0" r="2.2" fill="none" stroke="#F8766D" stroke-width="0.75"/>
<circle cx="48.6" cy="405.0" r="2.2" fill="none" stroke="#F8766D" stroke-width="0.75"/>
<circle cx="57.9" cy="392.0" r="2.2" fill="none" stroke="#F8766D" stroke-width="0.75"/>
<circle cx="51.8" cy="388.7" r="2.2" fill="none" stroke="#F8766D" stroke-width="0.75"/>
<circle cx="46.4" cy="394.3" r="2.2" fill="none" stroke="#F8766D" stroke-width="0.75"/>
<circle cx="63.8" cy="385.6" r="2.2" fill="none" stroke="#F8766D" stroke-width="0.75"/>
<circle cx="54.2" cy="390.6" r="2.2" fill="none" stroke="#F8766D" stroke-width="0.75"/>
<circle cx="65.9" cy="378.8" r="2.2" fill="none" stroke="#F8766D" stroke-width="0.75"/>
<circle cx="53.1" cy="391.1" r="2.2" fill="none" stroke="#F8766D" stroke-width="0.75"/>
<circle cx="44.6" cy="394.6" r="2.2" fill="none" stroke="#F8766D" stroke-width="0.75"/>
<circle cx="50.5" cy="391.5" r="2.2" fill="none" stroke="#F8766D" stroke-width="0.75"/>
<circle cx="48.6" cy="393.2" r="2.2" fill="none" stroke="#F8766D" stroke-width="0.75"/>
<circle cx="55.9" cy="386.6" r="2.2" fill="none" stroke="#F8766D" stroke-width="0.75"/>
<circle cx="76.0" cy="384.5" r="2.2" fill="none" stroke="#00BFC4" stroke-width="0.75"/>
<circle cx="76.0" cy="384.1" r="2.2" fill="none" stroke="#00BFC4" stroke-width="0.75"/>
<circle cx="74.6" cy="381.6" r="2.2" fill="none" stroke="#00BFC4" stroke-width="0.75"/>
<circle cx="69.2" cy="383.4" r="2.2" fill="none" stroke="#00BFC4" stroke-width="0.75"/>
<circle cx="70.4" cy="373.0" r="2.2" fill="none" stroke="#00BFC4" stroke-width="0.75"/>
<circle cx="77.8" cy="385.2" r="2.2" fill="none" stroke="#00BFC4" stroke-width="0.75"/>
<circle cx="72.2" cy="386.3" r="2.2" fill="none" stroke="#00BFC4" stroke-width="0.75"/>
<circle cx="73.2" cy="381.2" r="2.2" fill="none" stroke="#00BFC4" stroke-width="0.75"/>
<circle cx="76.7" cy="377.3" r="2.2" fill="none" stroke="#00BFC4" stroke-width="0.75"/>
<circle cx="86.6" cy="375.2" r="2.2" fill="none" stroke="#00BFC4" stroke-width="0.75"/>
<circle cx="68.4" cy="387.6" r="2.2" fill="none" stroke="#00BFC4" stroke-width="0.75"/>
<circle cx="68.6" cy="383.8" r="2.2" fill="none" stroke="#00BFC4" stroke-width="0.75"/>
<circle cx="77.2" cy="387.6" r="2.2" fill="none" stroke="#00BFC4" stroke-width="0.75"/>
<circle cx="79.4" cy="376.9" r="2.2" fill="none" stroke="#00BFC4" stroke-width="0.75"/>
<circle cx="86.1" cy="379.3" r="2.2" fill="none" stroke="#00BFC4" stroke-width="0.75"/>
<circle cx="84.1" cy="374.0" r="2.2" fill="none" stroke="#00BFC4" stroke-width="0.75"/>
<circle cx="72.8" cy="388.4" r="2.2" fill="none" stroke="#00BFC4" stroke-width="0.75"/>
<circle cx="70.1" cy="379.4" r="2.2" fill="none" stroke="#00BFC4" stroke-width="0.75"/>
<circle cx="81.3" cy="376.6" r="2.2" fill="none" stroke="#00BFC4" stroke-width="0.75"/>
<circle cx="86.4" cy="380.1" r="2.2" fill="none" stroke="#00BFC4" stroke-width="0.75"/>
<circle cx="82.9" cy="384.6" r="2.2" fill="none" stroke="#00BFC4" stroke-width="0.75"/>
<circle cx="76.9" cy="381.6" r="2.2" fill="none" stroke="#00BFC4" stroke-width="0.75"/>
<circle cx="83.2" cy="380.0" r="2.2" fill="none" stroke="#00BFC4" stroke-width="0.75"/>
<circle cx="72.5" cy="377.1" r="2.2" fill="none" stroke="#00BFC4" stroke-width="0.75"/>
<circle cx="73.9" cy="383.5" r="2.2" fill="none" stroke="#00BFC4" stroke-width="0.75"/>
<circle cx="70.4" cy="381.7" r="2.2" fill="none" stroke="#00BFC4" stroke-width="0.75"/>
<circle cx="122.8" cy="357.9" r="2.2" fill="none" stroke="#7CAE00" stroke-width="0.75"/>
<circle cx="89.9" cy="374.8" r="2.2" fill="none" stroke="#7CAE00" stroke-width="0.75"/>
<circle cx="116.3" cy="363.0" r="2.2" fill="none" stroke="#7CAE00" stroke-width="0.75"/>
<circle cx="105.3" cy="369.0" r="2.2" fill="none" stroke="#7CAE00" stroke-width="0.75"/>
<circle cx="84.2" cy="377.1" r="2.2" fill="none" stroke="#7CAE00" stroke-width="0.75"/>
<circle cx="100.5" cy="377.0" r="2.2" fill="none" stroke="#7CAE00" stroke-width="0.75"/>
<circle cx="119.7" cy="361.1" r="2.2" fill="none" stroke="#7CAE00" stroke-width="0.75"/>
<circle cx="133.1" cy="357.4" r="2.2" fill="none" stroke="#7CAE00" stroke-width="0.75"/>
<circle cx="97.4" cy="373.1" r="2.2" fill="none" stroke="#7CAE00" stroke-width="0.75"/>
<circle cx="137.5" cy="354.2" r="2.2" fill="none" stroke="#7CAE00" stroke-width="0.75"/>
<circle cx="84.8" cy="381.3" r="2.2" fill="none" stroke="#7CAE00" stroke-width="0.75"/>
<circle cx="111.5" cy="367.5" r="2.2" fill="none" stroke="#7CAE00" stroke-width="0.75"/>
<circle cx="98.0" cy="375.0" r="2.2" fill="none" stroke="#7CAE00" stroke-width="0.75"/>
<circle cx="121.0" cy="360.4" r="2.2" fill="none" stroke="#7CAE00" stroke-width="0.75"/>
<circle cx="85.5" cy="379.9" r="2.2" fill="none" stroke="#7CAE00" stroke-width="0.75"/>
<circle cx="102.5" cy="373.7" r="2.2" fill="none" stroke="#7CAE00" stroke-width="0.75"/>
<circle cx="94.7" cy="373.2" r="2.2" fill="none" stroke="#7CAE00" stroke-width="0.75"/>
<circle cx="128.3" cy="358.4" r="2.2" fill="none" stroke="#7CAE00" stroke-width="0.75"/>
<circle cx="95.1" cy="377.0" r="2.2" fill="none" stroke="#7CAE00" stroke-width="0.75"/>
<circle cx="138.0" cy="354.9" r="2.2" fill="none" stroke="#7CAE00" stroke-width="0.75"/>
<circle cx="96.5" cy="370.2" r="2.2" fill="none" stroke="#7CAE00" stroke-width="0.75"/>
<circle cx="96.0" cy="374.0" r="2.2" fill="none" stroke="#7CAE00" stroke-width="0.75"/>
<circle cx="137.0" cy="355.7" r="2.2" fill="none" stroke="#7CAE00" stroke-width="0.75"/>
<circle cx="111.4" cy="365.9" r="2.2" fill="none" stroke="#7CAE00" stroke-width="0.75"/>
<circle cx="107.0" cy="367.3" r="2.2" fill="none" stroke="#7CAE00" stroke-width="0.75"/>
<circle cx="120.9" cy="360.7" r="2.2" fill="none" stroke="#7CAE00" stroke-width="0.75"/>
<circle cx="105.7" cy="369.7" r="2.2" fill="none" stroke="#7CAE00" stroke-width="0.75"/>
<circle cx="95.5" cy="373.2" r="2.2" fill="none" stroke="#7CAE00" stroke-width="0.75"/>
<circle cx="86.5" cy="378.9" r="2.2" fill="none" stroke="#7CAE00" stroke-width="0.75"/>
<circle cx="87.0" cy="382.0" r="2.2" fill="none" stroke="#7CAE00" stroke-width="0.75"/>
<circle cx="133.1" cy="353.0" r="2.2" fill="none" stroke="#7CAE00" stroke-width="0.75"/>
<circle cx="124.7" cy="355.1" r="2.2" fill="none" stroke="#7CAE00" stroke-width="0.75"/>
<circle cx="102.0" cy="371.2" r="2.2" fill="none" stroke="#7CAE00" stroke-width="0.75"/>
<circle cx="94.0" cy="371.9" r="2.2" fill="none" stroke="#7CAE00" stroke-width="0.75"/>
<circle cx="110.9" cy="374.9" r="2.2" fill="none" stroke="#00BFC4" stroke-width="0.75"/>
<circle cx="116.9" cy="375.1" r="2.2" fill="none" stroke="#00BFC4" stroke-width="0.75"/>
<circle cx="113.8" cy="371.0" r="2.2" fill="none" stroke="#00BFC4" stroke-width="0.75"/>
<circle cx="112.2" cy="370.6" r="2.2" fill="none" stroke="#00BFC4" stroke-width="0.75"/>
<circle cx="114.0" cy="373.0" r="2.2" fill="none" stroke="#00BFC4" stroke-width="0.75"/>
<circle cx="119.7" cy="367.6" r="2.2" fill="none" stroke="#00BFC4" stroke-width="0.75"/>
<circle cx="112.6" cy="367.7" r="2.2" fill="none" stroke="#00BFC4" stroke-width="0.75"/>
<circle cx="114.0" cy="370.6" r="2.2" fill="none" stroke="#00BFC4" stroke-width="0.75"/>
<circle cx="114.7" cy="377.9" r="2.2" fill="none" stroke="#00BFC4" stroke-width="0.75"/>
<circle cx="111.1" cy="375.8" r="2.2" fill="none" stroke="#00BFC4" stroke-width="0.75"/>
<circle cx="119.3" cy="372.5" r="2.2" fill="none" stroke="#00BFC4" stroke-width="0.75"/>
<circle cx="112.5" cy="377.1" r="2.2" fill="none" stroke="#00BFC4" stroke-width="0.75"/>
<circle cx="110.9" cy="368.3" r="2.2" fill="none" stroke="#00BFC4" stroke-width="0.75"/>
<circle cx="114.5" cy="371.1" r="2.2" fill="none" stroke="#00BFC4" stroke-width="0.75"/>
<line x1="44.7" y1="410.3" x2="139.2" y2="349.0" stroke="#222" stroke-width="1.0" />
<path d="M38.3,336.6 H145.1 V440.4 H38.3 Z" fill="none" stroke="#333" stroke-width="1.0"/>
<line x1="36.3" y1="356.2" x2="42.3" y2="356.2" stroke="#333" stroke-width="1.0" />
<text x="35.8" y="359.4" font-size="9" text-anchor="end" fill="#000" >10.0</text>
<line x1="36.3" y1="398.3" x2="42.3" y2="398.3" stroke="#333" stroke-width="1.0" />
<text x="35.8" y="401.5" font-size="9" text-anchor="end" fill="#000" >1.0</text>
<line x1="36.3" y1="440.4" x2="42.3" y2="440.4" stroke="#333" stroke-width="1.0" />
<text x="35.8" y="443.7" font-size="9" text-anchor="end" fill="#000" >0.1</text>
<line x1="38.3" y1="427.8" x2="40.8" y2="427.8" stroke="#333" stroke-width="0.7" />
<line x1="38.3" y1="420.3" x2="40.8" y2="420.3" stroke="#333" stroke-width="0.7" />
<line x1="38.3" y1="415.1" x2="40.8" y2="415.1" stroke="#333" stroke-width="0.7" />
<line x1="38.3" y1="411.0" x2="40.8" y2="411.0" stroke="#333" stroke-width="0.7" />
<line x1="38.3" y1="407.7" x2="40.8" y2="407.7" stroke="#333" stroke-width="0.7" />
<line x1="38.3" y1="404.8" x2="40.8" y2="404.8" stroke="#333" stroke-width="0.7" />
<line x1="38.3" y1="402.4" x2="40.8" y2="402.4" stroke="#333" stroke-width="0.7" />
<line x1="38.3" y1="400.2" x2="40.8" y2="400.2" stroke="#333" stroke-width="0.7" />
<line x1="38.3" y1="385.6" x2="40.8" y2="385.6" stroke="#333" stroke-width="0.7" />
<line x1="38.3" y1="378.2" x2="40.8" y2="378.2" stroke="#333" stroke-width="0.7" />
<line x1="38.3" y1="372.9" x2="40.8" y2="372.9" stroke="#333" stroke-width="0.7" />
<line x1="38.3" y1="368.8" x2="40.8" y2="368.8" stroke="#333" stroke-width="0.7" />
<line x1="38.3" y1="365.5" x2="40.8" y2="365.5" stroke="#333" stroke-width="0.7" />
<line x1="38.3" y1="362.7" x2="40.8" y2="362.7" stroke="#333" stroke-width="0.7" />
<line x1="38.3" y1="360.2" x2="40.8" y2="360.2" stroke="#333" stroke-width="0.7" />
<line x1="38.3" y1="358.1" x2="40.8" y2="358.1" stroke="#333" stroke-width="0.7" />
<line x1="38.3" y1="343.5" x2="40.8" y2="343.5" stroke="#333" stroke-width="0.7" />
<line x1="41.9" y1="440.4" x2="41.9" y2="437.9" stroke="#333" stroke-width="0.7" />
<line x1="45.1" y1="440.4" x2="45.1" y2="437.9" stroke="#333" stroke-width="0.7" />
<line x1="47.7" y1="440.4" x2="47.7" y2="437.9" stroke="#333" stroke-width="0.7" />
<line x1="49.9" y1="440.4" x2="49.9" y2="437.9" stroke="#333" stroke-width="0.7" />
<line x1="51.7" y1="440.4" x2="51.7" y2="437.9" stroke="#333" stroke-width="0.7" />
<line x1="53.4" y1="440.4" x2="53.4" y2="437.9" stroke="#333" stroke-width="0.7" />
<line x1="54.9" y1="440.4" x2="54.9" y2="436.4" stroke="#333" stroke-width="1.0" />
<text x="54.9" y="450.0" font-size="9" text-anchor="middle" fill="#000" >1</text>
<line x1="64.7" y1="440.4" x2="64.7" y2="437.9" stroke="#333" stroke-width="0.7" />
<line x1="70.5" y1="440.4" x2="70.5" y2="437.9" stroke="#333" stroke-width="0.7" />
<line x1="74.5" y1="440.4" x2="74.5" y2="437.9" stroke="#333" stroke-width="0.7" />
<line x1="77.7" y1="440.4" x2="77.7" y2="437.9" stroke="#333" stroke-width="0.7" />
<line x1="80.3" y1="440.4" x2="80.3" y2="437.9" stroke="#333" stroke-width="0.7" />
<line x1="82.5" y1="440.4" x2="82.5" y2="437.9" stroke="#333" stroke-width="0.7" />
<line x1="84.3" y1="440.4" x2="84.3" y2="437.9" stroke="#333" stroke-width="0.7" />
<line x1="86.0" y1="440.4" x2="86.0" y2="437.9" stroke="#333" stroke-width="0.7" />
<line x1="87.5" y1="440.4" x2="87.5" y2="436.4" stroke="#333" stroke-width="1.0" />
<text x="87.5" y="450.0" font-size="9" text-anchor="middle" fill="#000" >10</text>
<line x1="97.3" y1="440.4" x2="97.3" y2="437.9" stroke="#333" stroke-width="0.7" />
<line x1="103.1" y1="440.4" x2="103.1" y2="437.9" stroke="#333" stroke-width="0.7" />
<line x1="107.1" y1="440.4" x2="107.1" y2="437.9" stroke="#333" stroke-width="0.7" />
<line x1="110.3" y1="440.4" x2="110.3" y2="437.9" stroke="#333" stroke-width="0.7" />
<line x1="112.9" y1="440.4" x2="112.9" y2="437.9" stroke="#333" stroke-width="0.7" />
<line x1="115.1" y1="440.4" x2="115.1" y2="437.9" stroke="#333" stroke-width="0.7" />
<line x1="116.9" y1="440.4" x2="116.9" y2="437.9" stroke="#333" stroke-width="0.7" />
<line x1="118.6" y1="440.4" x2="118.6" y2="437.9" stroke="#333" stroke-width="0.7" />
<line x1="120.1" y1="440.4" x2="120.1" y2="436.4" stroke="#333" stroke-width="1.0" />
<text x="120.1" y="450.0" font-size="9" text-anchor="middle" fill="#000" >100</text>
<line x1="129.9" y1="440.4" x2="129.9" y2="437.9" stroke="#333" stroke-width="0.7" />
<line x1="135.7" y1="440.4" x2="135.7" y2="437.9" stroke="#333" stroke-width="0.7" />
<line x1="139.7" y1="440.4" x2="139.7" y2="437.9" stroke="#333" stroke-width="0.7" />
<line x1="142.9" y1="440.4" x2="142.9" y2="437.9" stroke="#333" stroke-width="0.7" />
<text x="91.7" y="460.7" font-size="9" text-anchor="middle" fill="#000" >Contact stiffness (N/m)</text>
<text x="14.7" y="391.0" font-size="8.8" text-anchor="middle" fill="#000" transform="rotate(-90 14.7 391.0)">N/C of YAP</text>
<text x="56.7" y="352.4" font-size="9" text-anchor="start" fill="#000" ><tspan font-style="italic">r</tspan><tspan font-size="6" dy="-3.5">2</tspan><tspan dy="3.5">=0.826</tspan></text>
<polygon points="206.8,387.5 303.0,379.0 303.0,383.5 206.8,393.5" fill="#cfcfcf" opacity="0.7"/>
<circle cx="206.8" cy="404.6" r="2.4" fill="none" stroke="#F8766D" stroke-width="0.8"/>
<circle cx="206.8" cy="404.7" r="2.4" fill="none" stroke="#F8766D" stroke-width="0.8"/>
<circle cx="206.8" cy="404.1" r="2.4" fill="none" stroke="#F8766D" stroke-width="0.8"/>
<circle cx="206.8" cy="385.3" r="2.4" fill="none" stroke="#F8766D" stroke-width="0.8"/>
<circle cx="206.8" cy="399.8" r="2.4" fill="none" stroke="#F8766D" stroke-width="0.8"/>
<circle cx="206.8" cy="389.1" r="2.4" fill="none" stroke="#F8766D" stroke-width="0.8"/>
<circle cx="206.8" cy="385.8" r="2.4" fill="none" stroke="#F8766D" stroke-width="0.8"/>
<circle cx="206.8" cy="398.0" r="2.4" fill="none" stroke="#F8766D" stroke-width="0.8"/>
<circle cx="206.8" cy="399.5" r="2.4" fill="none" stroke="#F8766D" stroke-width="0.8"/>
<circle cx="206.8" cy="384.5" r="2.4" fill="none" stroke="#F8766D" stroke-width="0.8"/>
<circle cx="206.8" cy="391.9" r="2.4" fill="none" stroke="#F8766D" stroke-width="0.8"/>
<circle cx="206.8" cy="399.7" r="2.4" fill="none" stroke="#F8766D" stroke-width="0.8"/>
<circle cx="206.8" cy="389.8" r="2.4" fill="none" stroke="#F8766D" stroke-width="0.8"/>
<circle cx="206.8" cy="398.5" r="2.4" fill="none" stroke="#F8766D" stroke-width="0.8"/>
<circle cx="206.8" cy="399.4" r="2.4" fill="none" stroke="#F8766D" stroke-width="0.8"/>
<circle cx="206.8" cy="405.4" r="2.4" fill="none" stroke="#F8766D" stroke-width="0.8"/>
<circle cx="206.8" cy="388.9" r="2.4" fill="none" stroke="#F8766D" stroke-width="0.8"/>
<circle cx="206.8" cy="385.4" r="2.4" fill="none" stroke="#F8766D" stroke-width="0.8"/>
<circle cx="206.8" cy="391.6" r="2.4" fill="none" stroke="#F8766D" stroke-width="0.8"/>
<circle cx="206.8" cy="384.8" r="2.4" fill="none" stroke="#F8766D" stroke-width="0.8"/>
<circle cx="206.8" cy="404.9" r="2.4" fill="none" stroke="#F8766D" stroke-width="0.8"/>
<circle cx="206.8" cy="400.3" r="2.4" fill="none" stroke="#F8766D" stroke-width="0.8"/>
<circle cx="264.8" cy="378.9" r="2.4" fill="none" stroke="#00BFC4" stroke-width="0.8"/>
<circle cx="264.8" cy="367.7" r="2.4" fill="none" stroke="#00BFC4" stroke-width="0.8"/>
<circle cx="264.8" cy="367.8" r="2.4" fill="none" stroke="#00BFC4" stroke-width="0.8"/>
<circle cx="264.8" cy="380.9" r="2.4" fill="none" stroke="#00BFC4" stroke-width="0.8"/>
<circle cx="264.8" cy="384.1" r="2.4" fill="none" stroke="#00BFC4" stroke-width="0.8"/>
<circle cx="264.8" cy="379.9" r="2.4" fill="none" stroke="#00BFC4" stroke-width="0.8"/>
<circle cx="264.8" cy="378.4" r="2.4" fill="none" stroke="#00BFC4" stroke-width="0.8"/>
<circle cx="264.8" cy="368.4" r="2.4" fill="none" stroke="#00BFC4" stroke-width="0.8"/>
<circle cx="264.8" cy="385.6" r="2.4" fill="none" stroke="#00BFC4" stroke-width="0.8"/>
<circle cx="264.8" cy="371.3" r="2.4" fill="none" stroke="#00BFC4" stroke-width="0.8"/>
<circle cx="264.8" cy="372.8" r="2.4" fill="none" stroke="#00BFC4" stroke-width="0.8"/>
<circle cx="264.8" cy="370.8" r="2.4" fill="none" stroke="#00BFC4" stroke-width="0.8"/>
<circle cx="264.8" cy="372.0" r="2.4" fill="none" stroke="#00BFC4" stroke-width="0.8"/>
<circle cx="264.8" cy="375.8" r="2.4" fill="none" stroke="#00BFC4" stroke-width="0.8"/>
<circle cx="264.8" cy="382.3" r="2.4" fill="none" stroke="#00BFC4" stroke-width="0.8"/>
<circle cx="264.8" cy="382.5" r="2.4" fill="none" stroke="#00BFC4" stroke-width="0.8"/>
<circle cx="264.8" cy="381.5" r="2.4" fill="none" stroke="#00BFC4" stroke-width="0.8"/>
<circle cx="264.8" cy="371.7" r="2.4" fill="none" stroke="#00BFC4" stroke-width="0.8"/>
<circle cx="264.8" cy="388.0" r="2.4" fill="none" stroke="#00BFC4" stroke-width="0.8"/>
<circle cx="264.8" cy="385.3" r="2.4" fill="none" stroke="#00BFC4" stroke-width="0.8"/>
<circle cx="264.8" cy="372.4" r="2.4" fill="none" stroke="#00BFC4" stroke-width="0.8"/>
<circle cx="264.8" cy="384.1" r="2.4" fill="none" stroke="#00BFC4" stroke-width="0.8"/>
<circle cx="264.8" cy="388.4" r="2.4" fill="none" stroke="#00BFC4" stroke-width="0.8"/>
<circle cx="264.8" cy="389.1" r="2.4" fill="none" stroke="#00BFC4" stroke-width="0.8"/>
<circle cx="303.0" cy="375.1" r="2.4" fill="none" stroke="#7CAE00" stroke-width="0.8"/>
<circle cx="303.0" cy="380.8" r="2.4" fill="none" stroke="#7CAE00" stroke-width="0.8"/>
<circle cx="303.0" cy="364.2" r="2.4" fill="none" stroke="#7CAE00" stroke-width="0.8"/>
<circle cx="303.0" cy="366.7" r="2.4" fill="none" stroke="#7CAE00" stroke-width="0.8"/>
<circle cx="303.0" cy="364.0" r="2.4" fill="none" stroke="#7CAE00" stroke-width="0.8"/>
<circle cx="303.0" cy="382.3" r="2.4" fill="none" stroke="#7CAE00" stroke-width="0.8"/>
<circle cx="303.0" cy="386.9" r="2.4" fill="none" stroke="#7CAE00" stroke-width="0.8"/>
<circle cx="303.0" cy="386.6" r="2.4" fill="none" stroke="#7CAE00" stroke-width="0.8"/>
<circle cx="303.0" cy="376.4" r="2.4" fill="none" stroke="#7CAE00" stroke-width="0.8"/>
<circle cx="303.0" cy="371.1" r="2.4" fill="none" stroke="#7CAE00" stroke-width="0.8"/>
<circle cx="303.0" cy="377.7" r="2.4" fill="none" stroke="#7CAE00" stroke-width="0.8"/>
<circle cx="303.0" cy="383.1" r="2.4" fill="none" stroke="#7CAE00" stroke-width="0.8"/>
<circle cx="303.0" cy="378.5" r="2.4" fill="none" stroke="#7CAE00" stroke-width="0.8"/>
<circle cx="303.0" cy="373.3" r="2.4" fill="none" stroke="#7CAE00" stroke-width="0.8"/>
<circle cx="303.0" cy="372.0" r="2.4" fill="none" stroke="#7CAE00" stroke-width="0.8"/>
<circle cx="303.0" cy="370.1" r="2.4" fill="none" stroke="#7CAE00" stroke-width="0.8"/>
<circle cx="303.0" cy="367.6" r="2.4" fill="none" stroke="#7CAE00" stroke-width="0.8"/>
<circle cx="303.0" cy="372.2" r="2.4" fill="none" stroke="#7CAE00" stroke-width="0.8"/>
<circle cx="303.0" cy="386.0" r="2.4" fill="none" stroke="#7CAE00" stroke-width="0.8"/>
<circle cx="303.0" cy="367.8" r="2.4" fill="none" stroke="#7CAE00" stroke-width="0.8"/>
<circle cx="303.0" cy="381.6" r="2.4" fill="none" stroke="#7CAE00" stroke-width="0.8"/>
<circle cx="303.0" cy="374.7" r="2.4" fill="none" stroke="#7CAE00" stroke-width="0.8"/>
<circle cx="303.0" cy="379.6" r="2.4" fill="none" stroke="#7CAE00" stroke-width="0.8"/>
<circle cx="303.0" cy="370.4" r="2.4" fill="none" stroke="#7CAE00" stroke-width="0.8"/>
<circle cx="303.0" cy="384.0" r="2.4" fill="none" stroke="#7CAE00" stroke-width="0.8"/>
<circle cx="303.0" cy="382.8" r="2.4" fill="none" stroke="#7CAE00" stroke-width="0.8"/>
<circle cx="303.0" cy="382.8" r="2.4" fill="none" stroke="#7CAE00" stroke-width="0.8"/>
<circle cx="303.0" cy="385.1" r="2.4" fill="none" stroke="#7CAE00" stroke-width="0.8"/>
<circle cx="303.0" cy="366.7" r="2.4" fill="none" stroke="#7CAE00" stroke-width="0.8"/>
<circle cx="303.0" cy="374.4" r="2.4" fill="none" stroke="#7CAE00" stroke-width="0.8"/>
<circle cx="303.0" cy="355.3" r="2.4" fill="none" stroke="#7CAE00" stroke-width="0.8"/>
<circle cx="303.0" cy="355.0" r="2.4" fill="none" stroke="#7CAE00" stroke-width="0.8"/>
<circle cx="303.0" cy="352.0" r="2.4" fill="none" stroke="#7CAE00" stroke-width="0.8"/>
<circle cx="303.0" cy="354.4" r="2.4" fill="none" stroke="#7CAE00" stroke-width="0.8"/>
<circle cx="303.0" cy="355.8" r="2.4" fill="none" stroke="#7CAE00" stroke-width="0.8"/>
<circle cx="303.0" cy="352.9" r="2.4" fill="none" stroke="#7CAE00" stroke-width="0.8"/>
<circle cx="303.0" cy="394.0" r="2.4" fill="none" stroke="#C77CFF" stroke-width="0.8"/>
<circle cx="303.0" cy="389.2" r="2.4" fill="none" stroke="#C77CFF" stroke-width="0.8"/>
<circle cx="303.0" cy="401.9" r="2.4" fill="none" stroke="#C77CFF" stroke-width="0.8"/>
<circle cx="303.0" cy="396.6" r="2.4" fill="none" stroke="#C77CFF" stroke-width="0.8"/>
<circle cx="303.0" cy="391.6" r="2.4" fill="none" stroke="#C77CFF" stroke-width="0.8"/>
<circle cx="303.0" cy="391.3" r="2.4" fill="none" stroke="#C77CFF" stroke-width="0.8"/>
<circle cx="303.0" cy="390.3" r="2.4" fill="none" stroke="#C77CFF" stroke-width="0.8"/>
<circle cx="303.0" cy="402.8" r="2.4" fill="none" stroke="#C77CFF" stroke-width="0.8"/>
<circle cx="303.0" cy="399.1" r="2.4" fill="none" stroke="#C77CFF" stroke-width="0.8"/>
<circle cx="303.0" cy="401.6" r="2.4" fill="none" stroke="#C77CFF" stroke-width="0.8"/>
<circle cx="303.0" cy="400.6" r="2.4" fill="none" stroke="#C77CFF" stroke-width="0.8"/>
<circle cx="303.0" cy="389.4" r="2.4" fill="none" stroke="#C77CFF" stroke-width="0.8"/>
<circle cx="303.0" cy="395.0" r="2.4" fill="none" stroke="#C77CFF" stroke-width="0.8"/>
<circle cx="303.0" cy="390.0" r="2.4" fill="none" stroke="#C77CFF" stroke-width="0.8"/>
<circle cx="303.0" cy="398.0" r="2.4" fill="none" stroke="#C77CFF" stroke-width="0.8"/>
<circle cx="303.0" cy="390.9" r="2.4" fill="none" stroke="#C77CFF" stroke-width="0.8"/>
<circle cx="303.0" cy="396.9" r="2.4" fill="none" stroke="#C77CFF" stroke-width="0.8"/>
<circle cx="303.0" cy="399.6" r="2.4" fill="none" stroke="#C77CFF" stroke-width="0.8"/>
<line x1="206.8" y1="390.6" x2="303.0" y2="381.1" stroke="#222" stroke-width="1.0" />
<path d="M201.6,336.6 H308.2 V440.4 H201.6 Z" fill="none" stroke="#333" stroke-width="1.0"/>
<line x1="199.6" y1="356.2" x2="205.6" y2="356.2" stroke="#333" stroke-width="1.0" />
<text x="198.3" y="359.4" font-size="9" text-anchor="end" fill="#000" >10.0</text>
<line x1="199.6" y1="398.3" x2="205.6" y2="398.3" stroke="#333" stroke-width="1.0" />
<text x="198.3" y="401.5" font-size="9" text-anchor="end" fill="#000" >1.0</text>
<line x1="199.6" y1="440.4" x2="205.6" y2="440.4" stroke="#333" stroke-width="1.0" />
<text x="198.3" y="443.7" font-size="9" text-anchor="end" fill="#000" >0.1</text>
<line x1="201.6" y1="427.8" x2="204.1" y2="427.8" stroke="#333" stroke-width="0.7" />
<line x1="201.6" y1="420.3" x2="204.1" y2="420.3" stroke="#333" stroke-width="0.7" />
<line x1="201.6" y1="415.1" x2="204.1" y2="415.1" stroke="#333" stroke-width="0.7" />
<line x1="201.6" y1="411.0" x2="204.1" y2="411.0" stroke="#333" stroke-width="0.7" />
<line x1="201.6" y1="407.7" x2="204.1" y2="407.7" stroke="#333" stroke-width="0.7" />
<line x1="201.6" y1="404.8" x2="204.1" y2="404.8" stroke="#333" stroke-width="0.7" />
<line x1="201.6" y1="402.4" x2="204.1" y2="402.4" stroke="#333" stroke-width="0.7" />
<line x1="201.6" y1="400.2" x2="204.1" y2="400.2" stroke="#333" stroke-width="0.7" />
<line x1="201.6" y1="385.6" x2="204.1" y2="385.6" stroke="#333" stroke-width="0.7" />
<line x1="201.6" y1="378.2" x2="204.1" y2="378.2" stroke="#333" stroke-width="0.7" />
<line x1="201.6" y1="372.9" x2="204.1" y2="372.9" stroke="#333" stroke-width="0.7" />
<line x1="201.6" y1="368.8" x2="204.1" y2="368.8" stroke="#333" stroke-width="0.7" />
<line x1="201.6" y1="365.5" x2="204.1" y2="365.5" stroke="#333" stroke-width="0.7" />
<line x1="201.6" y1="362.7" x2="204.1" y2="362.7" stroke="#333" stroke-width="0.7" />
<line x1="201.6" y1="360.2" x2="204.1" y2="360.2" stroke="#333" stroke-width="0.7" />
<line x1="201.6" y1="358.1" x2="204.1" y2="358.1" stroke="#333" stroke-width="0.7" />
<line x1="201.6" y1="343.5" x2="204.1" y2="343.5" stroke="#333" stroke-width="0.7" />
<line x1="206.8" y1="440.4" x2="206.8" y2="436.4" stroke="#333" stroke-width="1.0" />
<text x="206.8" y="450.0" font-size="9" text-anchor="middle" fill="#000" >10</text>
<line x1="235.8" y1="440.4" x2="235.8" y2="437.9" stroke="#333" stroke-width="0.7" />
<line x1="252.7" y1="440.4" x2="252.7" y2="436.4" stroke="#333" stroke-width="1.0" />
<text x="252.7" y="450.0" font-size="9" text-anchor="middle" fill="#000" >30</text>
<line x1="264.7" y1="440.4" x2="264.7" y2="437.9" stroke="#333" stroke-width="0.7" />
<line x1="274.0" y1="440.4" x2="274.0" y2="437.9" stroke="#333" stroke-width="0.7" />
<line x1="281.7" y1="440.4" x2="281.7" y2="437.9" stroke="#333" stroke-width="0.7" />
<line x1="288.1" y1="440.4" x2="288.1" y2="437.9" stroke="#333" stroke-width="0.7" />
<line x1="293.7" y1="440.4" x2="293.7" y2="437.9" stroke="#333" stroke-width="0.7" />
<line x1="298.6" y1="440.4" x2="298.6" y2="437.9" stroke="#333" stroke-width="0.7" />
<line x1="303.0" y1="440.4" x2="303.0" y2="436.4" stroke="#333" stroke-width="1.0" />
<text x="303.0" y="450.0" font-size="9" text-anchor="middle" fill="#000" >100</text>
<text x="259.9" y="460.7" font-size="9" text-anchor="middle" fill="#000" >Modulus&#160; (kPa)</text>
<text x="177.2" y="391.0" font-size="8.8" text-anchor="middle" fill="#000" transform="rotate(-90 177.2 391.0)">N/C of YAP</text>
<text x="211.0" y="348.3" font-size="9" text-anchor="start" fill="#000" ><tspan font-style="italic">r</tspan><tspan font-size="6" dy="-3.5">2</tspan><tspan dy="3.5">=0.063</tspan></text>
<polygon points="371.0,363.0 467.7,386.5 467.7,390.5 371.0,369.5" fill="#b8c8d0" opacity="0.7"/>
<circle cx="371.0" cy="355.1" r="2.4" fill="none" stroke="#7CAE00" stroke-width="0.8"/>
<circle cx="371.0" cy="355.8" r="2.4" fill="none" stroke="#7CAE00" stroke-width="0.8"/>
<circle cx="371.0" cy="352.4" r="2.4" fill="none" stroke="#7CAE00" stroke-width="0.8"/>
<circle cx="371.0" cy="354.4" r="2.4" fill="none" stroke="#7CAE00" stroke-width="0.8"/>
<circle cx="371.0" cy="374.0" r="2.4" fill="none" stroke="#00BFC4" stroke-width="0.8"/>
<circle cx="371.0" cy="369.9" r="2.4" fill="none" stroke="#00BFC4" stroke-width="0.8"/>
<circle cx="371.0" cy="371.4" r="2.4" fill="none" stroke="#00BFC4" stroke-width="0.8"/>
<circle cx="371.0" cy="369.1" r="2.4" fill="none" stroke="#00BFC4" stroke-width="0.8"/>
<circle cx="371.0" cy="369.7" r="2.4" fill="none" stroke="#00BFC4" stroke-width="0.8"/>
<circle cx="371.0" cy="370.3" r="2.4" fill="none" stroke="#00BFC4" stroke-width="0.8"/>
<circle cx="390.3" cy="367.5" r="2.4" fill="none" stroke="#7CAE00" stroke-width="0.8"/>
<circle cx="390.3" cy="367.8" r="2.4" fill="none" stroke="#7CAE00" stroke-width="0.8"/>
<circle cx="390.3" cy="365.1" r="2.4" fill="none" stroke="#7CAE00" stroke-width="0.8"/>
<circle cx="390.3" cy="363.9" r="2.4" fill="none" stroke="#7CAE00" stroke-width="0.8"/>
<circle cx="407.4" cy="368.2" r="2.4" fill="none" stroke="#7CAE00" stroke-width="0.8"/>
<circle cx="407.4" cy="370.5" r="2.4" fill="none" stroke="#7CAE00" stroke-width="0.8"/>
<circle cx="407.4" cy="367.2" r="2.4" fill="none" stroke="#7CAE00" stroke-width="0.8"/>
<circle cx="407.4" cy="368.1" r="2.4" fill="none" stroke="#7CAE00" stroke-width="0.8"/>
<circle cx="417.0" cy="385.8" r="2.4" fill="none" stroke="#F8766D" stroke-width="0.8"/>
<circle cx="417.0" cy="391.2" r="2.4" fill="none" stroke="#F8766D" stroke-width="0.8"/>
<circle cx="417.0" cy="388.9" r="2.4" fill="none" stroke="#F8766D" stroke-width="0.8"/>
<circle cx="417.0" cy="384.6" r="2.4" fill="none" stroke="#F8766D" stroke-width="0.8"/>
<circle cx="417.0" cy="384.9" r="2.4" fill="none" stroke="#F8766D" stroke-width="0.8"/>
<circle cx="417.0" cy="387.6" r="2.4" fill="none" stroke="#F8766D" stroke-width="0.8"/>
<circle cx="424.8" cy="375.3" r="2.4" fill="none" stroke="#7CAE00" stroke-width="0.8"/>
<circle cx="424.8" cy="375.8" r="2.4" fill="none" stroke="#7CAE00" stroke-width="0.8"/>
<circle cx="424.8" cy="372.5" r="2.4" fill="none" stroke="#7CAE00" stroke-width="0.8"/>
<circle cx="424.8" cy="373.0" r="2.4" fill="none" stroke="#7CAE00" stroke-width="0.8"/>
<circle cx="424.8" cy="376.2" r="2.4" fill="none" stroke="#7CAE00" stroke-width="0.8"/>
<circle cx="437.5" cy="378.1" r="2.4" fill="none" stroke="#7CAE00" stroke-width="0.8"/>
<circle cx="437.5" cy="376.8" r="2.4" fill="none" stroke="#7CAE00" stroke-width="0.8"/>
<circle cx="437.5" cy="377.1" r="2.4" fill="none" stroke="#7CAE00" stroke-width="0.8"/>
<circle cx="437.5" cy="383.5" r="2.4" fill="none" stroke="#7CAE00" stroke-width="0.8"/>
<circle cx="437.5" cy="377.1" r="2.4" fill="none" stroke="#7CAE00" stroke-width="0.8"/>
<circle cx="440.0" cy="378.4" r="2.4" fill="none" stroke="#00BFC4" stroke-width="0.8"/>
<circle cx="440.0" cy="375.6" r="2.4" fill="none" stroke="#00BFC4" stroke-width="0.8"/>
<circle cx="440.0" cy="376.4" r="2.4" fill="none" stroke="#00BFC4" stroke-width="0.8"/>
<circle cx="440.0" cy="382.2" r="2.4" fill="none" stroke="#00BFC4" stroke-width="0.8"/>
<circle cx="440.0" cy="384.0" r="2.4" fill="none" stroke="#00BFC4" stroke-width="0.8"/>
<circle cx="440.0" cy="375.7" r="2.4" fill="none" stroke="#00BFC4" stroke-width="0.8"/>
<circle cx="439.6" cy="392.4" r="2.4" fill="none" stroke="#F8766D" stroke-width="0.8"/>
<circle cx="439.6" cy="397.1" r="2.4" fill="none" stroke="#F8766D" stroke-width="0.8"/>
<circle cx="439.6" cy="392.4" r="2.4" fill="none" stroke="#F8766D" stroke-width="0.8"/>
<circle cx="439.6" cy="390.7" r="2.4" fill="none" stroke="#F8766D" stroke-width="0.8"/>
<circle cx="439.6" cy="398.6" r="2.4" fill="none" stroke="#F8766D" stroke-width="0.8"/>
<circle cx="439.6" cy="394.4" r="2.4" fill="none" stroke="#F8766D" stroke-width="0.8"/>
<circle cx="449.0" cy="380.9" r="2.4" fill="none" stroke="#7CAE00" stroke-width="0.8"/>
<circle cx="449.0" cy="379.3" r="2.4" fill="none" stroke="#7CAE00" stroke-width="0.8"/>
<circle cx="449.0" cy="381.2" r="2.4" fill="none" stroke="#7CAE00" stroke-width="0.8"/>
<circle cx="449.0" cy="379.6" r="2.4" fill="none" stroke="#7CAE00" stroke-width="0.8"/>
<circle cx="452.9" cy="389.7" r="2.4" fill="none" stroke="#F8766D" stroke-width="0.8"/>
<circle cx="452.9" cy="387.1" r="2.4" fill="none" stroke="#F8766D" stroke-width="0.8"/>
<circle cx="452.9" cy="396.6" r="2.4" fill="none" stroke="#F8766D" stroke-width="0.8"/>
<circle cx="452.9" cy="398.2" r="2.4" fill="none" stroke="#F8766D" stroke-width="0.8"/>
<circle cx="452.9" cy="403.0" r="2.4" fill="none" stroke="#F8766D" stroke-width="0.8"/>
<circle cx="452.9" cy="388.4" r="2.4" fill="none" stroke="#F8766D" stroke-width="0.8"/>
<circle cx="452.9" cy="397.9" r="2.4" fill="none" stroke="#F8766D" stroke-width="0.8"/>
<circle cx="452.9" cy="393.4" r="2.4" fill="none" stroke="#F8766D" stroke-width="0.8"/>
<circle cx="452.9" cy="395.8" r="2.4" fill="none" stroke="#F8766D" stroke-width="0.8"/>
<circle cx="452.9" cy="389.4" r="2.4" fill="none" stroke="#F8766D" stroke-width="0.8"/>
<circle cx="455.4" cy="379.1" r="2.4" fill="none" stroke="#7CAE00" stroke-width="0.8"/>
<circle cx="455.4" cy="380.1" r="2.4" fill="none" stroke="#7CAE00" stroke-width="0.8"/>
<circle cx="455.4" cy="381.7" r="2.4" fill="none" stroke="#7CAE00" stroke-width="0.8"/>
<circle cx="455.4" cy="378.4" r="2.4" fill="none" stroke="#7CAE00" stroke-width="0.8"/>
<circle cx="460.5" cy="384.2" r="2.4" fill="none" stroke="#F8766D" stroke-width="0.8"/>
<circle cx="460.5" cy="385.9" r="2.4" fill="none" stroke="#F8766D" stroke-width="0.8"/>
<circle cx="460.5" cy="386.8" r="2.4" fill="none" stroke="#F8766D" stroke-width="0.8"/>
<circle cx="460.5" cy="382.7" r="2.4" fill="none" stroke="#F8766D" stroke-width="0.8"/>
<circle cx="460.5" cy="386.5" r="2.4" fill="none" stroke="#00BFC4" stroke-width="0.8"/>
<circle cx="460.5" cy="389.8" r="2.4" fill="none" stroke="#00BFC4" stroke-width="0.8"/>
<circle cx="460.5" cy="389.9" r="2.4" fill="none" stroke="#00BFC4" stroke-width="0.8"/>
<circle cx="467.7" cy="386.1" r="2.4" fill="none" stroke="#C77CFF" stroke-width="0.8"/>
<circle cx="467.7" cy="371.8" r="2.4" fill="none" stroke="#C77CFF" stroke-width="0.8"/>
<circle cx="467.7" cy="400.9" r="2.4" fill="none" stroke="#C77CFF" stroke-width="0.8"/>
<circle cx="467.7" cy="383.0" r="2.4" fill="none" stroke="#C77CFF" stroke-width="0.8"/>
<circle cx="467.7" cy="400.2" r="2.4" fill="none" stroke="#C77CFF" stroke-width="0.8"/>
<circle cx="467.7" cy="390.7" r="2.4" fill="none" stroke="#C77CFF" stroke-width="0.8"/>
<circle cx="467.7" cy="397.5" r="2.4" fill="none" stroke="#C77CFF" stroke-width="0.8"/>
<circle cx="467.7" cy="375.4" r="2.4" fill="none" stroke="#C77CFF" stroke-width="0.8"/>
<circle cx="467.7" cy="396.2" r="2.4" fill="none" stroke="#C77CFF" stroke-width="0.8"/>
<circle cx="467.7" cy="377.4" r="2.4" fill="none" stroke="#C77CFF" stroke-width="0.8"/>
<circle cx="467.7" cy="383.5" r="2.4" fill="none" stroke="#C77CFF" stroke-width="0.8"/>
<circle cx="467.7" cy="398.3" r="2.4" fill="none" stroke="#C77CFF" stroke-width="0.8"/>
<circle cx="467.7" cy="397.7" r="2.4" fill="none" stroke="#C77CFF" stroke-width="0.8"/>
<circle cx="467.7" cy="376.1" r="2.4" fill="none" stroke="#C77CFF" stroke-width="0.8"/>
<circle cx="467.7" cy="377.3" r="2.4" fill="none" stroke="#C77CFF" stroke-width="0.8"/>
<circle cx="467.7" cy="383.4" r="2.4" fill="none" stroke="#C77CFF" stroke-width="0.8"/>
<circle cx="467.7" cy="387.3" r="2.4" fill="none" stroke="#C77CFF" stroke-width="0.8"/>
<circle cx="467.7" cy="382.8" r="2.4" fill="none" stroke="#C77CFF" stroke-width="0.8"/>
<circle cx="467.7" cy="374.1" r="2.4" fill="none" stroke="#C77CFF" stroke-width="0.8"/>
<circle cx="467.7" cy="378.3" r="2.4" fill="none" stroke="#C77CFF" stroke-width="0.8"/>
<circle cx="467.7" cy="394.2" r="2.4" fill="none" stroke="#C77CFF" stroke-width="0.8"/>
<circle cx="467.7" cy="400.0" r="2.4" fill="none" stroke="#C77CFF" stroke-width="0.8"/>
<circle cx="467.7" cy="371.4" r="2.4" fill="none" stroke="#C77CFF" stroke-width="0.8"/>
<circle cx="467.7" cy="388.8" r="2.4" fill="none" stroke="#C77CFF" stroke-width="0.8"/>
<circle cx="467.7" cy="395.3" r="2.4" fill="none" stroke="#C77CFF" stroke-width="0.8"/>
<circle cx="467.7" cy="371.3" r="2.4" fill="none" stroke="#C77CFF" stroke-width="0.8"/>
<line x1="371.1" y1="366.3" x2="467.7" y2="388.5" stroke="#222" stroke-width="1.0" />
<path d="M366.0,336.6 H472.8 V440.4 H366.0 Z" fill="none" stroke="#333" stroke-width="1.0"/>
<line x1="364.0" y1="356.2" x2="370.0" y2="356.2" stroke="#333" stroke-width="1.0" />
<text x="363.4" y="359.4" font-size="9" text-anchor="end" fill="#000" >10.0</text>
<line x1="364.0" y1="398.3" x2="370.0" y2="398.3" stroke="#333" stroke-width="1.0" />
<text x="363.4" y="401.5" font-size="9" text-anchor="end" fill="#000" >1.0</text>
<line x1="364.0" y1="440.4" x2="370.0" y2="440.4" stroke="#333" stroke-width="1.0" />
<text x="363.4" y="443.7" font-size="9" text-anchor="end" fill="#000" >0.1</text>
<line x1="366.0" y1="427.8" x2="368.5" y2="427.8" stroke="#333" stroke-width="0.7" />
<line x1="366.0" y1="420.3" x2="368.5" y2="420.3" stroke="#333" stroke-width="0.7" />
<line x1="366.0" y1="415.1" x2="368.5" y2="415.1" stroke="#333" stroke-width="0.7" />
<line x1="366.0" y1="411.0" x2="368.5" y2="411.0" stroke="#333" stroke-width="0.7" />
<line x1="366.0" y1="407.7" x2="368.5" y2="407.7" stroke="#333" stroke-width="0.7" />
<line x1="366.0" y1="404.8" x2="368.5" y2="404.8" stroke="#333" stroke-width="0.7" />
<line x1="366.0" y1="402.4" x2="368.5" y2="402.4" stroke="#333" stroke-width="0.7" />
<line x1="366.0" y1="400.2" x2="368.5" y2="400.2" stroke="#333" stroke-width="0.7" />
<line x1="366.0" y1="385.6" x2="368.5" y2="385.6" stroke="#333" stroke-width="0.7" />
<line x1="366.0" y1="378.2" x2="368.5" y2="378.2" stroke="#333" stroke-width="0.7" />
<line x1="366.0" y1="372.9" x2="368.5" y2="372.9" stroke="#333" stroke-width="0.7" />
<line x1="366.0" y1="368.8" x2="368.5" y2="368.8" stroke="#333" stroke-width="0.7" />
<line x1="366.0" y1="365.5" x2="368.5" y2="365.5" stroke="#333" stroke-width="0.7" />
<line x1="366.0" y1="362.7" x2="368.5" y2="362.7" stroke="#333" stroke-width="0.7" />
<line x1="366.0" y1="360.2" x2="368.5" y2="360.2" stroke="#333" stroke-width="0.7" />
<line x1="366.0" y1="358.1" x2="368.5" y2="358.1" stroke="#333" stroke-width="0.7" />
<line x1="366.0" y1="343.5" x2="368.5" y2="343.5" stroke="#333" stroke-width="0.7" />
<line x1="385.6" y1="440.4" x2="385.6" y2="437.9" stroke="#333" stroke-width="0.7" />
<line x1="400.0" y1="440.4" x2="400.0" y2="436.4" stroke="#333" stroke-width="1.0" />
<text x="400.0" y="450.0" font-size="9" text-anchor="middle" fill="#000" >30</text>
<line x1="410.2" y1="440.4" x2="410.2" y2="437.9" stroke="#333" stroke-width="0.7" />
<line x1="418.1" y1="440.4" x2="418.1" y2="436.4" stroke="#333" stroke-width="1.0" />
<text x="418.1" y="450.0" font-size="9" text-anchor="middle" fill="#000" >50</text>
<line x1="424.5" y1="440.4" x2="424.5" y2="437.9" stroke="#333" stroke-width="0.7" />
<line x1="430.0" y1="440.4" x2="430.0" y2="437.9" stroke="#333" stroke-width="0.7" />
<line x1="434.7" y1="440.4" x2="434.7" y2="437.9" stroke="#333" stroke-width="0.7" />
<line x1="438.9" y1="440.4" x2="438.9" y2="437.9" stroke="#333" stroke-width="0.7" />
<line x1="442.6" y1="440.4" x2="442.6" y2="436.4" stroke="#333" stroke-width="1.0" />
<text x="442.6" y="450.0" font-size="9" text-anchor="middle" fill="#000" >100</text>
<line x1="467.1" y1="440.4" x2="467.1" y2="437.9" stroke="#333" stroke-width="0.7" />
<text x="419.2" y="460.7" font-size="9" text-anchor="middle" fill="#000" >Thickness (μm)</text>
<text x="342.4" y="391.0" font-size="8.8" text-anchor="middle" fill="#000" transform="rotate(-90 342.4 391.0)">N/C of YAP</text>
<text x="379.3" y="348.3" font-size="9" text-anchor="start" fill="#000" ><tspan font-style="italic">r</tspan><tspan font-size="6" dy="-3.5">2</tspan><tspan dy="3.5">=0.544</tspan></text>
<polygon points="529.9,399.5 626.0,360.0 626.0,366.0 529.9,403.5" fill="#cfcfcf" opacity="0.7"/>
<circle cx="551.5" cy="386.9" r="2.4" fill="none" stroke="#C77CFF" stroke-width="0.8"/>
<circle cx="531.3" cy="397.1" r="2.4" fill="none" stroke="#C77CFF" stroke-width="0.8"/>
<circle cx="545.6" cy="392.6" r="2.4" fill="none" stroke="#C77CFF" stroke-width="0.8"/>
<circle cx="536.6" cy="394.5" r="2.4" fill="none" stroke="#C77CFF" stroke-width="0.8"/>
<circle cx="539.9" cy="400.3" r="2.4" fill="none" stroke="#C77CFF" stroke-width="0.8"/>
<circle cx="546.4" cy="391.1" r="2.4" fill="none" stroke="#C77CFF" stroke-width="0.8"/>
<circle cx="528.7" cy="403.7" r="2.4" fill="none" stroke="#C77CFF" stroke-width="0.8"/>
<circle cx="545.3" cy="392.7" r="2.4" fill="none" stroke="#C77CFF" stroke-width="0.8"/>
<circle cx="549.4" cy="394.2" r="2.4" fill="none" stroke="#C77CFF" stroke-width="0.8"/>
<circle cx="549.8" cy="391.4" r="2.4" fill="none" stroke="#C77CFF" stroke-width="0.8"/>
<circle cx="541.3" cy="397.9" r="2.4" fill="none" stroke="#C77CFF" stroke-width="0.8"/>
<circle cx="531.0" cy="404.3" r="2.4" fill="none" stroke="#C77CFF" stroke-width="0.8"/>
<circle cx="530.6" cy="404.6" r="2.4" fill="none" stroke="#C77CFF" stroke-width="0.8"/>
<circle cx="540.4" cy="396.5" r="2.4" fill="none" stroke="#C77CFF" stroke-width="0.8"/>
<circle cx="545.8" cy="395.4" r="2.4" fill="none" stroke="#C77CFF" stroke-width="0.8"/>
<circle cx="530.3" cy="400.9" r="2.4" fill="none" stroke="#C77CFF" stroke-width="0.8"/>
<circle cx="542.3" cy="389.9" r="2.4" fill="none" stroke="#C77CFF" stroke-width="0.8"/>
<circle cx="529.5" cy="398.1" r="2.4" fill="none" stroke="#C77CFF" stroke-width="0.8"/>
<circle cx="554.6" cy="391.8" r="2.4" fill="none" stroke="#C77CFF" stroke-width="0.8"/>
<circle cx="531.8" cy="409.3" r="2.4" fill="none" stroke="#C77CFF" stroke-width="0.8"/>
<circle cx="548.5" cy="383.9" r="2.4" fill="none" stroke="#C77CFF" stroke-width="0.8"/>
<circle cx="550.8" cy="397.4" r="2.4" fill="none" stroke="#C77CFF" stroke-width="0.8"/>
<circle cx="541.8" cy="407.7" r="2.4" fill="none" stroke="#C77CFF" stroke-width="0.8"/>
<circle cx="554.8" cy="393.9" r="2.4" fill="none" stroke="#C77CFF" stroke-width="0.8"/>
<circle cx="550.1" cy="392.5" r="2.4" fill="none" stroke="#C77CFF" stroke-width="0.8"/>
<circle cx="554.1" cy="395.6" r="2.4" fill="none" stroke="#C77CFF" stroke-width="0.8"/>
<circle cx="549.2" cy="395.6" r="2.4" fill="none" stroke="#C77CFF" stroke-width="0.8"/>
<circle cx="532.4" cy="403.3" r="2.4" fill="none" stroke="#C77CFF" stroke-width="0.8"/>
<circle cx="550.8" cy="391.5" r="2.4" fill="none" stroke="#C77CFF" stroke-width="0.8"/>
<circle cx="532.0" cy="392.0" r="2.4" fill="none" stroke="#C77CFF" stroke-width="0.8"/>
<circle cx="533.8" cy="400.1" r="2.4" fill="none" stroke="#C77CFF" stroke-width="0.8"/>
<circle cx="535.4" cy="396.1" r="2.4" fill="none" stroke="#C77CFF" stroke-width="0.8"/>
<circle cx="529.0" cy="402.0" r="2.4" fill="none" stroke="#C77CFF" stroke-width="0.8"/>
<circle cx="533.1" cy="405.5" r="2.4" fill="none" stroke="#C77CFF" stroke-width="0.8"/>
<circle cx="547.0" cy="402.9" r="2.4" fill="none" stroke="#C77CFF" stroke-width="0.8"/>
<circle cx="589.7" cy="390.7" r="2.4" fill="none" stroke="#F8766D" stroke-width="0.8"/>
<circle cx="549.9" cy="404.6" r="2.4" fill="none" stroke="#F8766D" stroke-width="0.8"/>
<circle cx="571.1" cy="390.1" r="2.4" fill="none" stroke="#F8766D" stroke-width="0.8"/>
<circle cx="588.5" cy="384.8" r="2.4" fill="none" stroke="#F8766D" stroke-width="0.8"/>
<circle cx="572.3" cy="384.9" r="2.4" fill="none" stroke="#F8766D" stroke-width="0.8"/>
<circle cx="549.3" cy="394.7" r="2.4" fill="none" stroke="#F8766D" stroke-width="0.8"/>
<circle cx="594.6" cy="383.1" r="2.4" fill="none" stroke="#F8766D" stroke-width="0.8"/>
<circle cx="584.7" cy="385.8" r="2.4" fill="none" stroke="#F8766D" stroke-width="0.8"/>
<circle cx="557.5" cy="401.6" r="2.4" fill="none" stroke="#F8766D" stroke-width="0.8"/>
<circle cx="562.4" cy="394.7" r="2.4" fill="none" stroke="#F8766D" stroke-width="0.8"/>
<circle cx="583.0" cy="386.8" r="2.4" fill="none" stroke="#F8766D" stroke-width="0.8"/>
<circle cx="581.9" cy="390.4" r="2.4" fill="none" stroke="#F8766D" stroke-width="0.8"/>
<circle cx="546.5" cy="400.8" r="2.4" fill="none" stroke="#F8766D" stroke-width="0.8"/>
<circle cx="576.6" cy="388.2" r="2.4" fill="none" stroke="#F8766D" stroke-width="0.8"/>
<circle cx="594.2" cy="380.9" r="2.4" fill="none" stroke="#F8766D" stroke-width="0.8"/>
<circle cx="559.9" cy="392.6" r="2.4" fill="none" stroke="#F8766D" stroke-width="0.8"/>
<circle cx="544.1" cy="402.4" r="2.4" fill="none" stroke="#F8766D" stroke-width="0.8"/>
<circle cx="575.4" cy="391.8" r="2.4" fill="none" stroke="#F8766D" stroke-width="0.8"/>
<circle cx="566.0" cy="385.5" r="2.4" fill="none" stroke="#F8766D" stroke-width="0.8"/>
<circle cx="550.7" cy="397.6" r="2.4" fill="none" stroke="#F8766D" stroke-width="0.8"/>
<circle cx="555.6" cy="396.4" r="2.4" fill="none" stroke="#F8766D" stroke-width="0.8"/>
<circle cx="544.1" cy="399.4" r="2.4" fill="none" stroke="#F8766D" stroke-width="0.8"/>
<circle cx="562.1" cy="398.0" r="2.4" fill="none" stroke="#F8766D" stroke-width="0.8"/>
<circle cx="555.4" cy="399.3" r="2.4" fill="none" stroke="#F8766D" stroke-width="0.8"/>
<circle cx="573.8" cy="389.5" r="2.4" fill="none" stroke="#F8766D" stroke-width="0.8"/>
<circle cx="575.8" cy="389.8" r="2.4" fill="none" stroke="#F8766D" stroke-width="0.8"/>
<circle cx="568.2" cy="399.6" r="2.4" fill="none" stroke="#F8766D" stroke-width="0.8"/>
<circle cx="556.4" cy="403.7" r="2.4" fill="none" stroke="#F8766D" stroke-width="0.8"/>
<circle cx="551.6" cy="402.7" r="2.4" fill="none" stroke="#F8766D" stroke-width="0.8"/>
<circle cx="588.4" cy="390.9" r="2.4" fill="none" stroke="#F8766D" stroke-width="0.8"/>
<circle cx="583.9" cy="386.4" r="2.4" fill="none" stroke="#F8766D" stroke-width="0.8"/>
<circle cx="544.6" cy="401.8" r="2.4" fill="none" stroke="#F8766D" stroke-width="0.8"/>
<circle cx="576.9" cy="387.5" r="2.4" fill="none" stroke="#F8766D" stroke-width="0.8"/>
<circle cx="576.9" cy="389.5" r="2.4" fill="none" stroke="#F8766D" stroke-width="0.8"/>
<circle cx="566.6" cy="399.8" r="2.4" fill="none" stroke="#F8766D" stroke-width="0.8"/>
<circle cx="566.9" cy="387.3" r="2.4" fill="none" stroke="#00BFC4" stroke-width="0.8"/>
<circle cx="606.2" cy="381.9" r="2.4" fill="none" stroke="#00BFC4" stroke-width="0.8"/>
<circle cx="576.4" cy="387.8" r="2.4" fill="none" stroke="#00BFC4" stroke-width="0.8"/>
<circle cx="566.3" cy="395.4" r="2.4" fill="none" stroke="#00BFC4" stroke-width="0.8"/>
<circle cx="552.7" cy="395.9" r="2.4" fill="none" stroke="#00BFC4" stroke-width="0.8"/>
<circle cx="585.1" cy="385.9" r="2.4" fill="none" stroke="#00BFC4" stroke-width="0.8"/>
<circle cx="564.0" cy="389.7" r="2.4" fill="none" stroke="#00BFC4" stroke-width="0.8"/>
<circle cx="588.5" cy="378.0" r="2.4" fill="none" stroke="#00BFC4" stroke-width="0.8"/>
<circle cx="600.8" cy="379.1" r="2.4" fill="none" stroke="#00BFC4" stroke-width="0.8"/>
<circle cx="562.5" cy="389.8" r="2.4" fill="none" stroke="#00BFC4" stroke-width="0.8"/>
<circle cx="554.9" cy="395.9" r="2.4" fill="none" stroke="#00BFC4" stroke-width="0.8"/>
<circle cx="605.4" cy="379.1" r="2.4" fill="none" stroke="#00BFC4" stroke-width="0.8"/>
<circle cx="552.4" cy="388.4" r="2.4" fill="none" stroke="#00BFC4" stroke-width="0.8"/>
<circle cx="602.7" cy="378.7" r="2.4" fill="none" stroke="#00BFC4" stroke-width="0.8"/>
<circle cx="596.5" cy="376.7" r="2.4" fill="none" stroke="#00BFC4" stroke-width="0.8"/>
<circle cx="579.1" cy="386.1" r="2.4" fill="none" stroke="#00BFC4" stroke-width="0.8"/>
<circle cx="565.9" cy="391.4" r="2.4" fill="none" stroke="#00BFC4" stroke-width="0.8"/>
<circle cx="554.3" cy="390.3" r="2.4" fill="none" stroke="#00BFC4" stroke-width="0.8"/>
<circle cx="593.7" cy="386.5" r="2.4" fill="none" stroke="#00BFC4" stroke-width="0.8"/>
<circle cx="602.7" cy="378.1" r="2.4" fill="none" stroke="#00BFC4" stroke-width="0.8"/>
<circle cx="585.2" cy="381.3" r="2.4" fill="none" stroke="#00BFC4" stroke-width="0.8"/>
<circle cx="578.2" cy="387.2" r="2.4" fill="none" stroke="#00BFC4" stroke-width="0.8"/>
<circle cx="567.9" cy="385.1" r="2.4" fill="none" stroke="#00BFC4" stroke-width="0.8"/>
<circle cx="590.5" cy="384.8" r="2.4" fill="none" stroke="#00BFC4" stroke-width="0.8"/>
<circle cx="604.8" cy="377.6" r="2.4" fill="none" stroke="#00BFC4" stroke-width="0.8"/>
<circle cx="552.9" cy="393.5" r="2.4" fill="none" stroke="#00BFC4" stroke-width="0.8"/>
<circle cx="596.6" cy="383.2" r="2.4" fill="none" stroke="#00BFC4" stroke-width="0.8"/>
<circle cx="608.7" cy="376.9" r="2.4" fill="none" stroke="#00BFC4" stroke-width="0.8"/>
<circle cx="604.8" cy="375.0" r="2.4" fill="none" stroke="#00BFC4" stroke-width="0.8"/>
<circle cx="571.7" cy="388.6" r="2.4" fill="none" stroke="#00BFC4" stroke-width="0.8"/>
<circle cx="589.8" cy="390.3" r="2.4" fill="none" stroke="#00BFC4" stroke-width="0.8"/>
<circle cx="593.6" cy="376.6" r="2.4" fill="none" stroke="#00BFC4" stroke-width="0.8"/>
<circle cx="580.2" cy="377.1" r="2.4" fill="none" stroke="#00BFC4" stroke-width="0.8"/>
<circle cx="602.4" cy="376.6" r="2.4" fill="none" stroke="#00BFC4" stroke-width="0.8"/>
<circle cx="578.2" cy="379.6" r="2.4" fill="none" stroke="#00BFC4" stroke-width="0.8"/>
<circle cx="595.5" cy="378.2" r="2.4" fill="none" stroke="#00BFC4" stroke-width="0.8"/>
<circle cx="564.7" cy="388.9" r="2.4" fill="none" stroke="#00BFC4" stroke-width="0.8"/>
<circle cx="589.4" cy="389.6" r="2.4" fill="none" stroke="#00BFC4" stroke-width="0.8"/>
<circle cx="560.7" cy="395.0" r="2.4" fill="none" stroke="#00BFC4" stroke-width="0.8"/>
<circle cx="553.6" cy="399.8" r="2.4" fill="none" stroke="#00BFC4" stroke-width="0.8"/>
<circle cx="581.5" cy="385.0" r="2.4" fill="none" stroke="#7CAE00" stroke-width="0.8"/>
<circle cx="567.6" cy="385.2" r="2.4" fill="none" stroke="#7CAE00" stroke-width="0.8"/>
<circle cx="605.1" cy="369.7" r="2.4" fill="none" stroke="#7CAE00" stroke-width="0.8"/>
<circle cx="601.1" cy="368.6" r="2.4" fill="none" stroke="#7CAE00" stroke-width="0.8"/>
<circle cx="562.5" cy="378.9" r="2.4" fill="none" stroke="#7CAE00" stroke-width="0.8"/>
<circle cx="598.2" cy="366.7" r="2.4" fill="none" stroke="#7CAE00" stroke-width="0.8"/>
<circle cx="613.7" cy="372.4" r="2.4" fill="none" stroke="#7CAE00" stroke-width="0.8"/>
<circle cx="618.6" cy="372.5" r="2.4" fill="none" stroke="#7CAE00" stroke-width="0.8"/>
<circle cx="620.2" cy="367.3" r="2.4" fill="none" stroke="#7CAE00" stroke-width="0.8"/>
<circle cx="622.2" cy="365.2" r="2.4" fill="none" stroke="#7CAE00" stroke-width="0.8"/>
<circle cx="565.6" cy="386.5" r="2.4" fill="none" stroke="#7CAE00" stroke-width="0.8"/>
<circle cx="560.3" cy="391.4" r="2.4" fill="none" stroke="#7CAE00" stroke-width="0.8"/>
<circle cx="601.1" cy="364.2" r="2.4" fill="none" stroke="#7CAE00" stroke-width="0.8"/>
<circle cx="614.1" cy="363.5" r="2.4" fill="none" stroke="#7CAE00" stroke-width="0.8"/>
<circle cx="564.8" cy="382.2" r="2.4" fill="none" stroke="#7CAE00" stroke-width="0.8"/>
<circle cx="564.7" cy="385.2" r="2.4" fill="none" stroke="#7CAE00" stroke-width="0.8"/>
<circle cx="579.7" cy="376.2" r="2.4" fill="none" stroke="#7CAE00" stroke-width="0.8"/>
<circle cx="586.8" cy="379.9" r="2.4" fill="none" stroke="#7CAE00" stroke-width="0.8"/>
<circle cx="577.2" cy="380.6" r="2.4" fill="none" stroke="#7CAE00" stroke-width="0.8"/>
<circle cx="606.7" cy="366.2" r="2.4" fill="none" stroke="#7CAE00" stroke-width="0.8"/>
<circle cx="623.6" cy="365.3" r="2.4" fill="none" stroke="#7CAE00" stroke-width="0.8"/>
<circle cx="592.3" cy="378.1" r="2.4" fill="none" stroke="#7CAE00" stroke-width="0.8"/>
<circle cx="560.1" cy="381.7" r="2.4" fill="none" stroke="#7CAE00" stroke-width="0.8"/>
<circle cx="586.1" cy="369.6" r="2.4" fill="none" stroke="#7CAE00" stroke-width="0.8"/>
<circle cx="581.6" cy="381.5" r="2.4" fill="none" stroke="#7CAE00" stroke-width="0.8"/>
<circle cx="605.9" cy="366.1" r="2.4" fill="none" stroke="#7CAE00" stroke-width="0.8"/>
<circle cx="616.6" cy="364.3" r="2.4" fill="none" stroke="#7CAE00" stroke-width="0.8"/>
<circle cx="564.2" cy="386.4" r="2.4" fill="none" stroke="#7CAE00" stroke-width="0.8"/>
<circle cx="558.1" cy="385.0" r="2.4" fill="none" stroke="#7CAE00" stroke-width="0.8"/>
<circle cx="571.7" cy="383.2" r="2.4" fill="none" stroke="#7CAE00" stroke-width="0.8"/>
<circle cx="558.3" cy="375.1" r="2.4" fill="none" stroke="#7CAE00" stroke-width="0.8"/>
<circle cx="591.4" cy="366.7" r="2.4" fill="none" stroke="#7CAE00" stroke-width="0.8"/>
<circle cx="570.5" cy="383.2" r="2.4" fill="none" stroke="#7CAE00" stroke-width="0.8"/>
<circle cx="591.6" cy="369.8" r="2.4" fill="none" stroke="#7CAE00" stroke-width="0.8"/>
<circle cx="575.7" cy="387.7" r="2.4" fill="none" stroke="#7CAE00" stroke-width="0.8"/>
<circle cx="622.2" cy="362.2" r="2.4" fill="none" stroke="#7CAE00" stroke-width="0.8"/>
<circle cx="605.6" cy="372.3" r="2.4" fill="none" stroke="#7CAE00" stroke-width="0.8"/>
<circle cx="591.9" cy="379.5" r="2.4" fill="none" stroke="#7CAE00" stroke-width="0.8"/>
<circle cx="563.5" cy="389.5" r="2.4" fill="none" stroke="#7CAE00" stroke-width="0.8"/>
<circle cx="611.6" cy="364.4" r="2.4" fill="none" stroke="#7CAE00" stroke-width="0.8"/>
<circle cx="603.9" cy="353.4" r="2.4" fill="none" stroke="#7CAE00" stroke-width="0.8"/>
<circle cx="611.0" cy="355.7" r="2.4" fill="none" stroke="#7CAE00" stroke-width="0.8"/>
<circle cx="613.0" cy="354.0" r="2.4" fill="none" stroke="#7CAE00" stroke-width="0.8"/>
<circle cx="626.0" cy="352.0" r="2.4" fill="none" stroke="#7CAE00" stroke-width="0.8"/>
<line x1="529.9" y1="401.8" x2="626.0" y2="363.4" stroke="#222" stroke-width="1.0" />
<path d="M524.7,336.6 H630.3 V440.4 H524.7 Z" fill="none" stroke="#333" stroke-width="1.0"/>
<line x1="522.7" y1="356.2" x2="528.7" y2="356.2" stroke="#333" stroke-width="1.0" />
<text x="521.9" y="359.4" font-size="9" text-anchor="end" fill="#000" >10.0</text>
<line x1="522.7" y1="398.3" x2="528.7" y2="398.3" stroke="#333" stroke-width="1.0" />
<text x="521.9" y="401.5" font-size="9" text-anchor="end" fill="#000" >1.0</text>
<line x1="522.7" y1="440.4" x2="528.7" y2="440.4" stroke="#333" stroke-width="1.0" />
<text x="521.9" y="443.7" font-size="9" text-anchor="end" fill="#000" >0.1</text>
<line x1="524.7" y1="427.8" x2="527.2" y2="427.8" stroke="#333" stroke-width="0.7" />
<line x1="524.7" y1="420.3" x2="527.2" y2="420.3" stroke="#333" stroke-width="0.7" />
<line x1="524.7" y1="415.1" x2="527.2" y2="415.1" stroke="#333" stroke-width="0.7" />
<line x1="524.7" y1="411.0" x2="527.2" y2="411.0" stroke="#333" stroke-width="0.7" />
<line x1="524.7" y1="407.7" x2="527.2" y2="407.7" stroke="#333" stroke-width="0.7" />
<line x1="524.7" y1="404.8" x2="527.2" y2="404.8" stroke="#333" stroke-width="0.7" />
<line x1="524.7" y1="402.4" x2="527.2" y2="402.4" stroke="#333" stroke-width="0.7" />
<line x1="524.7" y1="400.2" x2="527.2" y2="400.2" stroke="#333" stroke-width="0.7" />
<line x1="524.7" y1="385.6" x2="527.2" y2="385.6" stroke="#333" stroke-width="0.7" />
<line x1="524.7" y1="378.2" x2="527.2" y2="378.2" stroke="#333" stroke-width="0.7" />
<line x1="524.7" y1="372.9" x2="527.2" y2="372.9" stroke="#333" stroke-width="0.7" />
<line x1="524.7" y1="368.8" x2="527.2" y2="368.8" stroke="#333" stroke-width="0.7" />
<line x1="524.7" y1="365.5" x2="527.2" y2="365.5" stroke="#333" stroke-width="0.7" />
<line x1="524.7" y1="362.7" x2="527.2" y2="362.7" stroke="#333" stroke-width="0.7" />
<line x1="524.7" y1="360.2" x2="527.2" y2="360.2" stroke="#333" stroke-width="0.7" />
<line x1="524.7" y1="358.1" x2="527.2" y2="358.1" stroke="#333" stroke-width="0.7" />
<line x1="524.7" y1="343.5" x2="527.2" y2="343.5" stroke="#333" stroke-width="0.7" />
<line x1="531.3" y1="440.4" x2="531.3" y2="437.9" stroke="#333" stroke-width="0.7" />
<line x1="536.4" y1="440.4" x2="536.4" y2="437.9" stroke="#333" stroke-width="0.7" />
<line x1="540.8" y1="440.4" x2="540.8" y2="437.9" stroke="#333" stroke-width="0.7" />
<line x1="542.7" y1="440.4" x2="542.7" y2="436.4" stroke="#333" stroke-width="1.0" />
<text x="542.7" y="450.0" font-size="9" text-anchor="middle" fill="#000" >750</text>
<line x1="544.5" y1="440.4" x2="544.5" y2="437.9" stroke="#333" stroke-width="0.7" />
<line x1="547.8" y1="440.4" x2="547.8" y2="437.9" stroke="#333" stroke-width="0.7" />
<line x1="550.8" y1="440.4" x2="550.8" y2="436.4" stroke="#333" stroke-width="1.0" />
<line x1="570.2" y1="440.4" x2="570.2" y2="437.9" stroke="#333" stroke-width="0.7" />
<line x1="576.5" y1="440.4" x2="576.5" y2="436.4" stroke="#333" stroke-width="1.0" />
<text x="576.5" y="450.0" font-size="9" text-anchor="middle" fill="#000" >2,500</text>
<line x1="581.6" y1="440.4" x2="581.6" y2="437.9" stroke="#333" stroke-width="0.7" />
<line x1="589.7" y1="440.4" x2="589.7" y2="437.9" stroke="#333" stroke-width="0.7" />
<line x1="595.9" y1="440.4" x2="595.9" y2="437.9" stroke="#333" stroke-width="0.7" />
<line x1="601.0" y1="440.4" x2="601.0" y2="437.9" stroke="#333" stroke-width="0.7" />
<line x1="605.4" y1="440.4" x2="605.4" y2="437.9" stroke="#333" stroke-width="0.7" />
<line x1="607.3" y1="440.4" x2="607.3" y2="436.4" stroke="#333" stroke-width="1.0" />
<text x="607.3" y="450.0" font-size="9" text-anchor="middle" fill="#000" >7,500</text>
<line x1="609.1" y1="440.4" x2="609.1" y2="437.9" stroke="#333" stroke-width="0.7" />
<line x1="612.4" y1="440.4" x2="612.4" y2="437.9" stroke="#333" stroke-width="0.7" />
<line x1="615.4" y1="440.4" x2="615.4" y2="436.4" stroke="#333" stroke-width="1.0" />
<text x="585.0" y="460.7" font-size="9" text-anchor="middle" fill="#000" >Cell area (μm<tspan font-size="6" dy="-3.5">2</tspan><tspan dy="3.5">)</tspan></text>
<text x="500.2" y="391.0" font-size="8.8" text-anchor="middle" fill="#000" transform="rotate(-90 500.2 391.0)">N/C of YAP</text>
<text x="535.0" y="348.1" font-size="9" text-anchor="start" fill="#000" ><tspan font-style="italic">r</tspan><tspan font-size="6" dy="-3.5">2</tspan><tspan dy="3.5">=0.623</tspan></text>
<text x="633.8" y="405.8" font-size="9" text-anchor="start" fill="#F8766D" >10 kPa</text>
<text x="633.8" y="416.4" font-size="9" text-anchor="start" fill="#00BFC4" >40 kPa</text>
<text x="633.8" y="426.9" font-size="9" text-anchor="start" fill="#7CAE00" >100 kPa</text>
<text x="633.8" y="437.7" font-size="9" text-anchor="start" fill="#C77CFF" >Cytochalasin</text>
<text x="0.7" y="496.0" font-size="12" text-anchor="start" fill="#000" font-weight="bold" >J</text>
<text x="75.6" y="514.6" font-size="9" text-anchor="middle" fill="#000" >324 μm<tspan font-size="6" dy="-3.5">2</tspan></text>
<line x1="26.2" y1="519.6" x2="113.5" y2="519.6" stroke="#333" stroke-width="0.9" />
<text x="169.6" y="512.8" font-size="9" text-anchor="middle" fill="#000" >529 μm<tspan font-size="6" dy="-3.5">2</tspan></text>
<line x1="127.6" y1="518.8" x2="214.9" y2="518.8" stroke="#333" stroke-width="0.9" />
<text x="45.3" y="531.0" font-size="9" text-anchor="middle" fill="#000" >50 kPa</text>
<text x="96.4" y="531.0" font-size="9" text-anchor="middle" fill="#000" >180 kPa</text>
<text x="145.0" y="531.0" font-size="9" text-anchor="middle" fill="#000" >50 kPa</text>
<text x="195.4" y="531.0" font-size="9" text-anchor="middle" fill="#000" >180 kPa</text>
<rect x="26.5" y="535.6" width="42.6" height="41.9" fill="#000" />
<rect x="26.5" y="535.6" width="42.6" height="41.9" fill="#400404" opacity="0.5" filter="url(#nz)"/>
<rect x="26.5" y="582.7" width="42.6" height="42.0" fill="#020802" />
<rect x="26.5" y="582.7" width="42.6" height="42.0" fill="#124a10" opacity="0.4" filter="url(#nz)"/>
<rect x="26.5" y="629.6" width="42.6" height="42.2" fill="#02020a" />
<rect x="26.5" y="629.6" width="42.6" height="42.2" fill="#101050" opacity="0.4" filter="url(#nz)"/>
<rect x="73.9" y="535.6" width="42.6" height="41.9" fill="#000" />
<rect x="73.9" y="535.6" width="42.6" height="41.9" fill="#400404" opacity="0.5" filter="url(#nz)"/>
<rect x="73.9" y="582.7" width="42.6" height="42.0" fill="#020802" />
<rect x="73.9" y="582.7" width="42.6" height="42.0" fill="#124a10" opacity="0.4" filter="url(#nz)"/>
<rect x="73.9" y="629.6" width="42.6" height="42.2" fill="#02020a" />
<rect x="73.9" y="629.6" width="42.6" height="42.2" fill="#101050" opacity="0.4" filter="url(#nz)"/>
<rect x="125.3" y="535.6" width="42.6" height="41.9" fill="#000" />
<rect x="125.3" y="535.6" width="42.6" height="41.9" fill="#400404" opacity="0.5" filter="url(#nz)"/>
<rect x="125.3" y="582.7" width="42.6" height="42.0" fill="#020802" />
<rect x="125.3" y="582.7" width="42.6" height="42.0" fill="#124a10" opacity="0.4" filter="url(#nz)"/>
<rect x="125.3" y="629.6" width="42.6" height="42.2" fill="#02020a" />
<rect x="125.3" y="629.6" width="42.6" height="42.2" fill="#101050" opacity="0.4" filter="url(#nz)"/>
<rect x="173.4" y="535.6" width="42.6" height="41.9" fill="#000" />
<rect x="173.4" y="535.6" width="42.6" height="41.9" fill="#400404" opacity="0.5" filter="url(#nz)"/>
<rect x="173.4" y="582.7" width="42.6" height="42.0" fill="#020802" />
<rect x="173.4" y="582.7" width="42.6" height="42.0" fill="#124a10" opacity="0.4" filter="url(#nz)"/>
<rect x="173.4" y="629.6" width="42.6" height="42.2" fill="#02020a" />
<rect x="173.4" y="629.6" width="42.6" height="42.2" fill="#101050" opacity="0.4" filter="url(#nz)"/>
<text x="21.8" y="556.4" font-size="9" text-anchor="middle" fill="#ff2020" transform="rotate(-90 21.8 556.4)">YAP</text>
<text x="21.6" y="599.4" font-size="9" text-anchor="middle" fill="#30c030" transform="rotate(-90 21.6 599.4)">F-actin</text>
<text x="21.8" y="646.4" font-size="9" text-anchor="middle" fill="#2222ff" transform="rotate(-90 21.8 646.4)">DAPI</text>
<g clip-path="url(#cp28)"><ellipse cx="44.0" cy="553.2" rx="8.5" ry="8.5" fill="#a01208" opacity="0.9" transform="rotate(0 44.0 553.2)" filter="url(#bt2)"/></g>
<g clip-path="url(#cp31)"><ellipse cx="95.3" cy="559.2" rx="6" ry="4" fill="#e01a08" opacity="0.95" transform="rotate(30 95.3 559.2)" filter="url(#b1.2)"/></g>
<g clip-path="url(#cp31)"><ellipse cx="95.3" cy="556.2" rx="9" ry="8" fill="#500804" opacity="0.6" transform="rotate(0 95.3 556.2)" filter="url(#b2)"/></g>
<g clip-path="url(#cp34)"><ellipse cx="142.6" cy="554.8" rx="3.8" ry="7" fill="#a01208" opacity="0.9" transform="rotate(0 142.6 554.8)" filter="url(#bt1.5)"/></g>
<g clip-path="url(#cp37)"><ellipse cx="196.6" cy="551.9" rx="5" ry="5" fill="#d01808" opacity="0.9" transform="rotate(0 196.6 551.9)" filter="url(#b1.2)"/></g>
<g clip-path="url(#cp37)"><ellipse cx="194.6" cy="558.9" rx="9" ry="8" fill="#400603" opacity="0.6" transform="rotate(0 194.6 558.9)" filter="url(#b2)"/></g>
<g clip-path="url(#cp29)"><path d="M36,590 L46,588.5 L53,592 L56.4,600 L55,609 L50,614 L41,614.5 L35,608 L33.3,598 Z" fill="#3ab030" opacity="1" filter="url(#bt1)"/></g>
<g clip-path="url(#cp29)"><ellipse cx="41.0" cy="600.0" rx="5" ry="9" fill="#44c83a" opacity="0.6" transform="rotate(10 41.0 600.0)" filter="url(#bt1.5)"/></g>
<g clip-path="url(#cp29)"><ellipse cx="48.0" cy="606.0" rx="4" ry="4" fill="#0a3008" opacity="0.5" transform="rotate(0 48.0 606.0)" filter="url(#b1.5)"/></g>
<g clip-path="url(#cp32)"><path d="M95.3,593 L106,595 L104,604.5 L106,615 L95.3,612 L85,615 L86,604.5 L84,594 Z" fill="#3ab030" opacity="1" filter="url(#bt1)"/></g>
<g clip-path="url(#cp32)"><ellipse cx="95.3" cy="604.5" rx="3.5" ry="3.5" fill="#06200a" opacity="0.9" transform="rotate(0 95.3 604.5)" filter="url(#b1)"/></g>
<g clip-path="url(#cp35)"><path d="M135,595 L145,593 L153,596 L155,604 L153,612 L147,616 L138,614 L133,606 Z" fill="#3ab030" opacity="1" filter="url(#bt1)"/></g>
<g clip-path="url(#cp35)"><ellipse cx="141.0" cy="601.0" rx="4" ry="5" fill="#0a3008" opacity="0.4" transform="rotate(0 141.0 601.0)" filter="url(#b1.5)"/></g>
<g clip-path="url(#cp38)"><path d="M186,593 L195,592 L201,597 L203,606 L201,614 L196,617 L188,614 L184,606 L185,598 Z" fill="#3ab030" opacity="1" filter="url(#bt1)"/></g>
<g clip-path="url(#cp38)"><ellipse cx="196.0" cy="600.0" rx="4" ry="4" fill="#0a3008" opacity="0.4" transform="rotate(0 196.0 600.0)" filter="url(#b1.5)"/></g>
<g clip-path="url(#cp30)"><ellipse cx="44.9" cy="645.5" rx="7.2" ry="5.4" fill="#3030ff" opacity="1" transform="rotate(0 44.9 645.5)" filter="url(#bt1)"/></g>
<g clip-path="url(#cp33)"><ellipse cx="94.5" cy="652.6" rx="4.8" ry="3.8" fill="#2626e8" opacity="1" transform="rotate(30 94.5 652.6)" filter="url(#b0.6)"/></g>
<g clip-path="url(#cp36)"><ellipse cx="142.6" cy="649.7" rx="3.8" ry="5.8" fill="#2626e8" opacity="1" transform="rotate(0 142.6 649.7)" filter="url(#b0.6)"/></g>
<g clip-path="url(#cp39)"><ellipse cx="196.6" cy="646.8" rx="3.8" ry="5.8" fill="#2626e8" opacity="1" transform="rotate(-10 196.6 646.8)" filter="url(#b0.6)"/></g>
<line x1="83.6" y1="666.6" x2="112.0" y2="666.6" stroke="#ababab" stroke-width="1.7" />
<line x1="190.8" y1="666.6" x2="210.7" y2="666.6" stroke="#ababab" stroke-width="1.7" />
<text x="246.9" y="496.0" font-size="12" text-anchor="start" fill="#000" font-weight="bold" >K</text>
<line x1="283.0" y1="577.5" x2="283.0" y2="608.8" stroke="#222" stroke-width="1.0" />
<rect x="273.2" y="589.3" width="19.6" height="15.9" fill="#fff" stroke="#222" stroke-width="1.2" />
<line x1="273.2" y1="589.9" x2="292.8" y2="589.9" stroke="#222" stroke-width="1.8" />
<circle cx="283.2" cy="597.7" r="2.0" fill="none" stroke="#222" stroke-width="0.8"/>
<circle cx="282.8" cy="596.5" r="2.0" fill="none" stroke="#222" stroke-width="0.8"/>
<circle cx="283.6" cy="606.1" r="2.0" fill="none" stroke="#222" stroke-width="0.8"/>
<circle cx="283.6" cy="608.0" r="2.0" fill="none" stroke="#222" stroke-width="0.8"/>
<circle cx="282.5" cy="600.6" r="2.0" fill="none" stroke="#222" stroke-width="0.8"/>
<circle cx="283.6" cy="593.1" r="2.0" fill="none" stroke="#222" stroke-width="0.8"/>
<circle cx="282.8" cy="581.1" r="2.0" fill="none" stroke="#222" stroke-width="0.8"/>
<circle cx="282.6" cy="594.4" r="2.0" fill="none" stroke="#222" stroke-width="0.8"/>
<circle cx="283.1" cy="585.2" r="2.0" fill="none" stroke="#222" stroke-width="0.8"/>
<circle cx="283.4" cy="588.6" r="2.0" fill="none" stroke="#222" stroke-width="0.8"/>
<line x1="310.0" y1="574.2" x2="310.0" y2="606.9" stroke="#e8585a" stroke-width="1.0" />
<rect x="300.0" y="582.7" width="20.0" height="13.0" fill="#fff" stroke="#e8585a" stroke-width="1.2" />
<line x1="300.0" y1="588.3" x2="320.0" y2="588.3" stroke="#e8585a" stroke-width="1.8" />
<circle cx="309.8" cy="596.2" r="2.0" fill="none" stroke="#e8585a" stroke-width="0.8"/>
<circle cx="309.4" cy="579.4" r="2.0" fill="none" stroke="#e8585a" stroke-width="0.8"/>
<circle cx="310.3" cy="582.7" r="2.0" fill="none" stroke="#e8585a" stroke-width="0.8"/>
<circle cx="309.5" cy="592.6" r="2.0" fill="none" stroke="#e8585a" stroke-width="0.8"/>
<circle cx="310.4" cy="588.0" r="2.0" fill="none" stroke="#e8585a" stroke-width="0.8"/>
<circle cx="309.4" cy="591.8" r="2.0" fill="none" stroke="#e8585a" stroke-width="0.8"/>
<circle cx="310.6" cy="599.1" r="2.0" fill="none" stroke="#e8585a" stroke-width="0.8"/>
<circle cx="309.5" cy="597.0" r="2.0" fill="none" stroke="#e8585a" stroke-width="0.8"/>
<circle cx="310.3" cy="579.3" r="2.0" fill="none" stroke="#e8585a" stroke-width="0.8"/>
<circle cx="309.4" cy="601.8" r="2.0" fill="none" stroke="#e8585a" stroke-width="0.8"/>
<circle cx="309.6" cy="596.2" r="2.0" fill="none" stroke="#e8585a" stroke-width="0.8"/>
<circle cx="310.0" cy="601.6" r="2.0" fill="none" stroke="#e8585a" stroke-width="0.8"/>
<line x1="337.6" y1="570.3" x2="337.6" y2="597.7" stroke="#222" stroke-width="1.0" />
<rect x="327.8" y="580.1" width="19.6" height="9.1" fill="#fff" stroke="#222" stroke-width="1.2" />
<line x1="327.8" y1="584.9" x2="347.4" y2="584.9" stroke="#222" stroke-width="1.8" />
<circle cx="337.3" cy="592.6" r="2.0" fill="none" stroke="#222" stroke-width="0.8"/>
<circle cx="338.4" cy="577.8" r="2.0" fill="none" stroke="#222" stroke-width="0.8"/>
<circle cx="337.0" cy="571.4" r="2.0" fill="none" stroke="#222" stroke-width="0.8"/>
<circle cx="337.0" cy="587.2" r="2.0" fill="none" stroke="#222" stroke-width="0.8"/>
<circle cx="338.4" cy="576.0" r="2.0" fill="none" stroke="#222" stroke-width="0.8"/>
<circle cx="338.0" cy="585.8" r="2.0" fill="none" stroke="#222" stroke-width="0.8"/>
<circle cx="337.1" cy="580.3" r="2.0" fill="none" stroke="#222" stroke-width="0.8"/>
<circle cx="337.0" cy="592.1" r="2.0" fill="none" stroke="#222" stroke-width="0.8"/>
<circle cx="337.4" cy="596.8" r="2.0" fill="none" stroke="#222" stroke-width="0.8"/>
<circle cx="337.4" cy="576.1" r="2.0" fill="none" stroke="#222" stroke-width="0.8"/>
<circle cx="337.9" cy="584.0" r="2.0" fill="none" stroke="#222" stroke-width="0.8"/>
<circle cx="337.8" cy="585.0" r="2.0" fill="none" stroke="#222" stroke-width="0.8"/>
<line x1="364.8" y1="552.7" x2="364.8" y2="576.9" stroke="#e8585a" stroke-width="1.0" />
<rect x="355.0" y="559.2" width="19.6" height="12.7" fill="#fff" stroke="#e8585a" stroke-width="1.2" />
<line x1="355.0" y1="564.5" x2="374.6" y2="564.5" stroke="#e8585a" stroke-width="1.8" />
<circle cx="364.2" cy="562.3" r="2.0" fill="none" stroke="#e8585a" stroke-width="0.8"/>
<circle cx="364.6" cy="559.0" r="2.0" fill="none" stroke="#e8585a" stroke-width="0.8"/>
<circle cx="365.5" cy="566.5" r="2.0" fill="none" stroke="#e8585a" stroke-width="0.8"/>
<circle cx="364.9" cy="558.8" r="2.0" fill="none" stroke="#e8585a" stroke-width="0.8"/>
<circle cx="364.7" cy="571.3" r="2.0" fill="none" stroke="#e8585a" stroke-width="0.8"/>
<circle cx="365.2" cy="555.6" r="2.0" fill="none" stroke="#e8585a" stroke-width="0.8"/>
<circle cx="365.2" cy="560.0" r="2.0" fill="none" stroke="#e8585a" stroke-width="0.8"/>
<circle cx="365.4" cy="560.5" r="2.0" fill="none" stroke="#e8585a" stroke-width="0.8"/>
<circle cx="365.0" cy="565.9" r="2.0" fill="none" stroke="#e8585a" stroke-width="0.8"/>
<circle cx="364.5" cy="561.7" r="2.0" fill="none" stroke="#e8585a" stroke-width="0.8"/>
<circle cx="364.2" cy="566.7" r="2.0" fill="none" stroke="#e8585a" stroke-width="0.8"/>
<circle cx="365.3" cy="559.6" r="2.0" fill="none" stroke="#e8585a" stroke-width="0.8"/>
<path d="M269.4,526.9 H378.4 V627.1 H269.4 Z" fill="none" stroke="#333" stroke-width="1.0"/>
<line x1="267.4" y1="627.1" x2="269.4" y2="627.1" stroke="#333" stroke-width="0.9" />
<text x="265.6" y="630.3" font-size="9" text-anchor="end" fill="#000" >0</text>
<line x1="267.4" y1="601.0" x2="269.4" y2="601.0" stroke="#333" stroke-width="0.9" />
<text x="265.6" y="604.2" font-size="9" text-anchor="end" fill="#000" >2</text>
<line x1="267.4" y1="574.9" x2="269.4" y2="574.9" stroke="#333" stroke-width="0.9" />
<text x="265.6" y="578.1" font-size="9" text-anchor="end" fill="#000" >4</text>
<line x1="267.4" y1="548.8" x2="269.4" y2="548.8" stroke="#333" stroke-width="0.9" />
<text x="265.6" y="552.0" font-size="9" text-anchor="end" fill="#000" >6</text>
<line x1="296.5" y1="627.1" x2="296.5" y2="629.5" stroke="#333" stroke-width="0.9" />
<line x1="351.0" y1="627.1" x2="351.0" y2="629.5" stroke="#333" stroke-width="0.9" />
<text x="256.6" y="578.0" font-size="9" text-anchor="middle" fill="#000" transform="rotate(-90 256.6 578.0)">N/C of YAP</text>
<line x1="282.0" y1="564.3" x2="335.7" y2="564.3" stroke="#333" stroke-width="1.1" />
<text x="311.8" y="562.2" font-size="9" text-anchor="middle" fill="#000" >0.037</text>
<line x1="310.3" y1="545.3" x2="364.3" y2="545.3" stroke="#333" stroke-width="1.1" />
<text x="338.0" y="543.2" font-size="9" text-anchor="middle" fill="#000" >2.1E-7</text>
<text x="297.7" y="639.6" font-size="9" text-anchor="middle" fill="#000" >50 kPa</text>
<text x="348.2" y="639.6" font-size="9" text-anchor="middle" fill="#000" >180 kPa</text>
<line x1="276.0" y1="645.2" x2="318.2" y2="645.2" stroke="#333" stroke-width="0.9" />
<line x1="326.4" y1="645.2" x2="368.7" y2="645.2" stroke="#333" stroke-width="0.9" />
<text x="284.9" y="657.7" font-size="9" text-anchor="middle" fill="#000" >1.25</text>
<text x="309.4" y="657.7" font-size="9" text-anchor="middle" fill="#000" >1.59</text>
<text x="333.6" y="657.7" font-size="9" text-anchor="middle" fill="#000" >4.49</text>
<text x="359.3" y="657.7" font-size="9" text-anchor="middle" fill="#000" >5.92</text>
<text x="321.9" y="671.2" font-size="9" text-anchor="middle" fill="#000" >Contact stiffness (N/m)</text>
<rect x="386.2" y="528.4" width="11.6" height="11.2" fill="#fff" stroke="#111" stroke-width="1.2" />
<line x1="386.2" y1="533.9" x2="397.8" y2="533.9" stroke="#111" stroke-width="0.8" />
<rect x="386.2" y="547.4" width="11.6" height="11.0" fill="#fff" stroke="#e8585a" stroke-width="1.2" />
<line x1="386.2" y1="552.8" x2="397.8" y2="552.8" stroke="#e8585a" stroke-width="0.8" />
<text x="400.9" y="538.0" font-size="10" text-anchor="start" fill="#000" >324 μm<tspan font-size="6.5" dy="-4">2</tspan></text>
<text x="400.9" y="556.4" font-size="10" text-anchor="start" fill="#000" >529 μm<tspan font-size="6.5" dy="-4">2</tspan></text>
<text x="448.4" y="482.9" font-size="12" text-anchor="start" fill="#000" font-weight="bold" >L</text>
<text x="459.6" y="491.4" font-size="9" text-anchor="start" fill="#000" font-weight="bold" >(i)</text>
<text x="563.4" y="491.4" font-size="9" text-anchor="start" fill="#000" font-weight="bold" >(ii)</text>
<text x="464.8" y="600.8" font-size="9" text-anchor="start" fill="#000" font-weight="bold" >(iii)</text>
<text x="575.2" y="600.8" font-size="9" text-anchor="start" fill="#000" font-weight="bold" >(iv)</text>
<polygon points="480.4,533.5 553.0,506.5 553.0,519.0 480.4,546.0" fill="#e2e2e2" opacity="0.9"/>
<circle cx="481.1" cy="532.4" r="2.4" fill="none" stroke="#8aeced" stroke-width="0.9"/>
<circle cx="478.8" cy="533.3" r="2.4" fill="none" stroke="#8aeced" stroke-width="0.9"/>
<circle cx="482.5" cy="529.8" r="2.4" fill="none" stroke="#8aeced" stroke-width="0.9"/>
<circle cx="484.3" cy="516.4" r="2.4" fill="none" stroke="#8aeced" stroke-width="0.9"/>
<circle cx="484.3" cy="521.2" r="2.4" fill="none" stroke="#8aeced" stroke-width="0.9"/>
<circle cx="487.2" cy="540.1" r="2.4" fill="none" stroke="#8aeced" stroke-width="0.9"/>
<circle cx="484.3" cy="559.0" r="2.4" fill="none" stroke="#8aeced" stroke-width="0.9"/>
<circle cx="483.6" cy="556.0" r="2.4" fill="none" stroke="#8aeced" stroke-width="0.9"/>
<circle cx="481.8" cy="566.1" r="2.4" fill="none" stroke="#8aeced" stroke-width="0.9"/>
<circle cx="493.7" cy="518.4" r="2.4" fill="none" stroke="#8aeced" stroke-width="0.9"/>
<circle cx="493.7" cy="522.7" r="2.4" fill="none" stroke="#8aeced" stroke-width="0.9"/>
<circle cx="494.3" cy="528.9" r="2.4" fill="none" stroke="#8aeced" stroke-width="0.9"/>
<circle cx="492.9" cy="542.1" r="2.4" fill="none" stroke="#8aeced" stroke-width="0.9"/>
<circle cx="492.9" cy="544.7" r="2.4" fill="none" stroke="#8aeced" stroke-width="0.9"/>
<circle cx="492.9" cy="561.1" r="2.4" fill="none" stroke="#8aeced" stroke-width="0.9"/>
<circle cx="496.4" cy="514.5" r="2.4" fill="none" stroke="#8aeced" stroke-width="0.9"/>
<circle cx="496.9" cy="515.8" r="2.4" fill="none" stroke="#8aeced" stroke-width="0.9"/>
<circle cx="496.4" cy="530.6" r="2.4" fill="none" stroke="#8aeced" stroke-width="0.9"/>
<circle cx="495.9" cy="530.6" r="2.4" fill="none" stroke="#8aeced" stroke-width="0.9"/>
<circle cx="492.3" cy="538.1" r="2.4" fill="none" stroke="#8aeced" stroke-width="0.9"/>
<circle cx="537.1" cy="544.5" r="2.4" fill="none" stroke="#8aeced" stroke-width="0.9"/>
<circle cx="538.6" cy="543.4" r="2.4" fill="none" stroke="#8aeced" stroke-width="0.9"/>
<circle cx="538.1" cy="527.3" r="2.4" fill="none" stroke="#8aeced" stroke-width="0.9"/>
<circle cx="539.1" cy="530.6" r="2.4" fill="none" stroke="#8aeced" stroke-width="0.9"/>
<circle cx="540.0" cy="525.7" r="2.4" fill="none" stroke="#8aeced" stroke-width="0.9"/>
<circle cx="541.0" cy="508.6" r="2.4" fill="none" stroke="#8aeced" stroke-width="0.9"/>
<circle cx="541.0" cy="521.2" r="2.4" fill="none" stroke="#8aeced" stroke-width="0.9"/>
<circle cx="541.4" cy="517.1" r="2.4" fill="none" stroke="#8aeced" stroke-width="0.9"/>
<circle cx="541.9" cy="524.2" r="2.4" fill="none" stroke="#8aeced" stroke-width="0.9"/>
<circle cx="542.4" cy="530.6" r="2.4" fill="none" stroke="#8aeced" stroke-width="0.9"/>
<circle cx="540.0" cy="519.8" r="2.4" fill="none" stroke="#8aeced" stroke-width="0.9"/>
<circle cx="541.9" cy="527.3" r="2.4" fill="none" stroke="#8aeced" stroke-width="0.9"/>
<circle cx="548.7" cy="497.6" r="2.4" fill="none" stroke="#8aeced" stroke-width="0.9"/>
<circle cx="550.2" cy="501.3" r="2.4" fill="none" stroke="#8aeced" stroke-width="0.9"/>
<circle cx="551.0" cy="497.6" r="2.4" fill="none" stroke="#8aeced" stroke-width="0.9"/>
<circle cx="551.7" cy="503.3" r="2.4" fill="none" stroke="#8aeced" stroke-width="0.9"/>
<circle cx="549.4" cy="507.5" r="2.4" fill="none" stroke="#8aeced" stroke-width="0.9"/>
<circle cx="550.2" cy="504.3" r="2.4" fill="none" stroke="#8aeced" stroke-width="0.9"/>
<circle cx="552.4" cy="505.3" r="2.4" fill="none" stroke="#8aeced" stroke-width="0.9"/>
<circle cx="551.7" cy="514.5" r="2.4" fill="none" stroke="#8aeced" stroke-width="0.9"/>
<circle cx="551.0" cy="515.8" r="2.4" fill="none" stroke="#8aeced" stroke-width="0.9"/>
<circle cx="553.1" cy="509.7" r="2.4" fill="none" stroke="#8aeced" stroke-width="0.9"/>
<circle cx="553.8" cy="498.5" r="2.4" fill="none" stroke="#8aeced" stroke-width="0.9"/>
<line x1="480.4" y1="539.4" x2="553.0" y2="512.2" stroke="#222" stroke-width="1.0" />
<line x1="473.1" y1="549.3" x2="476.1" y2="549.3" stroke="#222" stroke-width="1.0" />
<text x="474.3" y="552.5" font-size="9" text-anchor="end" fill="#000" >2</text>
<line x1="473.1" y1="528.9" x2="476.1" y2="528.9" stroke="#222" stroke-width="1.0" />
<text x="474.3" y="532.2" font-size="9" text-anchor="end" fill="#000" >3</text>
<line x1="473.1" y1="503.3" x2="476.1" y2="503.3" stroke="#222" stroke-width="1.0" />
<text x="474.3" y="506.5" font-size="9" text-anchor="end" fill="#000" >5</text>
<line x1="476.1" y1="514.5" x2="478.1" y2="514.5" stroke="#222" stroke-width="0.7" />
<line x1="476.1" y1="494.1" x2="478.1" y2="494.1" stroke="#222" stroke-width="0.7" />
<path d="M476.1,493.1 H557.0 V570.0 H476.1 Z" fill="none" stroke="#333" stroke-width="1.0"/>
<text x="463.2" y="531.0" font-size="9" text-anchor="middle" fill="#000" transform="rotate(-90 463.2 531.0)">N/C of YAP</text>
<line x1="503.5" y1="570.0" x2="503.5" y2="566.0" stroke="#222" stroke-width="1.0" />
<text x="503.5" y="579.3" font-size="9" text-anchor="middle" fill="#000" >2</text>
<line x1="521.3" y1="570.0" x2="521.3" y2="566.0" stroke="#222" stroke-width="1.0" />
<text x="521.3" y="579.3" font-size="9" text-anchor="middle" fill="#000" >3</text>
<line x1="543.7" y1="570.0" x2="543.7" y2="566.0" stroke="#222" stroke-width="1.0" />
<text x="543.7" y="579.3" font-size="9" text-anchor="middle" fill="#000" >5</text>
<line x1="533.9" y1="570.0" x2="533.9" y2="568.0" stroke="#222" stroke-width="0.7" />
<line x1="551.7" y1="570.0" x2="551.7" y2="568.0" stroke="#222" stroke-width="0.7" />
<text x="516.8" y="589.9" font-size="9" text-anchor="middle" fill="#000" >Contact stiffness (N/m)</text>
<text x="485.4" y="503.4" font-size="9" text-anchor="start" fill="#000" ><tspan font-style="italic">r</tspan><tspan font-size="6" dy="-3.5">2</tspan><tspan dy="3.5"> = 0.445</tspan></text>
<circle cx="625.2" cy="527.9" r="2.2" fill="none" stroke="#8aeced" stroke-width="0.9"/>
<circle cx="625.2" cy="509.3" r="2.2" fill="none" stroke="#8aeced" stroke-width="0.9"/>
<circle cx="625.2" cy="517.8" r="2.2" fill="none" stroke="#8aeced" stroke-width="0.9"/>
<circle cx="625.2" cy="519.3" r="2.2" fill="none" stroke="#8aeced" stroke-width="0.9"/>
<circle cx="625.2" cy="527.5" r="2.2" fill="none" stroke="#8aeced" stroke-width="0.9"/>
<circle cx="625.2" cy="517.1" r="2.2" fill="none" stroke="#8aeced" stroke-width="0.9"/>
<circle cx="625.2" cy="530.1" r="2.2" fill="none" stroke="#8aeced" stroke-width="0.9"/>
<circle cx="625.2" cy="542.6" r="2.2" fill="none" stroke="#8aeced" stroke-width="0.9"/>
<circle cx="625.2" cy="506.0" r="2.2" fill="none" stroke="#8aeced" stroke-width="0.9"/>
<circle cx="625.2" cy="529.1" r="2.2" fill="none" stroke="#8aeced" stroke-width="0.9"/>
<circle cx="625.2" cy="535.1" r="2.2" fill="none" stroke="#8aeced" stroke-width="0.9"/>
<circle cx="625.2" cy="516.0" r="2.2" fill="none" stroke="#8aeced" stroke-width="0.9"/>
<circle cx="625.2" cy="521.0" r="2.2" fill="none" stroke="#8aeced" stroke-width="0.9"/>
<circle cx="625.2" cy="544.8" r="2.2" fill="none" stroke="#8aeced" stroke-width="0.9"/>
<circle cx="625.2" cy="498.9" r="2.2" fill="none" stroke="#8aeced" stroke-width="0.9"/>
<circle cx="625.2" cy="523.6" r="2.2" fill="none" stroke="#8aeced" stroke-width="0.9"/>
<circle cx="625.2" cy="504.9" r="2.2" fill="none" stroke="#8aeced" stroke-width="0.9"/>
<circle cx="625.2" cy="535.3" r="2.2" fill="none" stroke="#8aeced" stroke-width="0.9"/>
<circle cx="625.2" cy="543.1" r="2.2" fill="none" stroke="#8aeced" stroke-width="0.9"/>
<circle cx="625.2" cy="522.4" r="2.2" fill="none" stroke="#8aeced" stroke-width="0.9"/>
<circle cx="625.2" cy="502.0" r="2.2" fill="none" stroke="#8aeced" stroke-width="0.9"/>
<circle cx="625.2" cy="525.2" r="2.2" fill="none" stroke="#8aeced" stroke-width="0.9"/>
<circle cx="625.2" cy="523.5" r="2.2" fill="none" stroke="#8aeced" stroke-width="0.9"/>
<circle cx="625.2" cy="532.1" r="2.2" fill="none" stroke="#8aeced" stroke-width="0.9"/>
<circle cx="625.2" cy="522.1" r="2.2" fill="none" stroke="#8aeced" stroke-width="0.9"/>
<circle cx="625.2" cy="528.3" r="2.2" fill="none" stroke="#8aeced" stroke-width="0.9"/>
<circle cx="625.2" cy="537.6" r="2.2" fill="none" stroke="#8aeced" stroke-width="0.9"/>
<circle cx="625.2" cy="522.6" r="2.2" fill="none" stroke="#8aeced" stroke-width="0.9"/>
<circle cx="625.2" cy="517.1" r="2.2" fill="none" stroke="#8aeced" stroke-width="0.9"/>
<circle cx="625.2" cy="543.5" r="2.2" fill="none" stroke="#8aeced" stroke-width="0.9"/>
<circle cx="625.2" cy="507.3" r="2.2" fill="none" stroke="#8aeced" stroke-width="0.9"/>
<circle cx="625.2" cy="530.5" r="2.2" fill="none" stroke="#8aeced" stroke-width="0.9"/>
<circle cx="625.2" cy="516.2" r="2.2" fill="none" stroke="#8aeced" stroke-width="0.9"/>
<circle cx="625.2" cy="534.4" r="2.2" fill="none" stroke="#8aeced" stroke-width="0.9"/>
<circle cx="625.2" cy="556.5" r="2.2" fill="none" stroke="#8aeced" stroke-width="0.9"/>
<circle cx="625.2" cy="559.0" r="2.2" fill="none" stroke="#8aeced" stroke-width="0.9"/>
<circle cx="625.2" cy="562.0" r="2.2" fill="none" stroke="#8aeced" stroke-width="0.9"/>
<circle cx="625.2" cy="566.5" r="2.2" fill="none" stroke="#8aeced" stroke-width="0.9"/>
<line x1="582.0" y1="549.3" x2="585.0" y2="549.3" stroke="#222" stroke-width="1.0" />
<text x="582.6" y="552.5" font-size="9" text-anchor="end" fill="#000" >2</text>
<line x1="582.0" y1="528.9" x2="585.0" y2="528.9" stroke="#222" stroke-width="1.0" />
<text x="582.6" y="532.2" font-size="9" text-anchor="end" fill="#000" >3</text>
<line x1="582.0" y1="503.3" x2="585.0" y2="503.3" stroke="#222" stroke-width="1.0" />
<text x="582.6" y="506.5" font-size="9" text-anchor="end" fill="#000" >5</text>
<line x1="585.0" y1="514.5" x2="587.0" y2="514.5" stroke="#222" stroke-width="0.7" />
<line x1="585.0" y1="494.1" x2="587.0" y2="494.1" stroke="#222" stroke-width="0.7" />
<path d="M585.0,493.1 H665.6 V570.0 H585.0 Z" fill="none" stroke="#333" stroke-width="1.0"/>
<text x="572.1" y="531.0" font-size="9" text-anchor="middle" fill="#000" transform="rotate(-90 572.1 531.0)">N/C of YAP</text>
<text x="602.6" y="579.3" font-size="9" text-anchor="middle" fill="#000" >1.4</text>
<text x="625.2" y="579.3" font-size="9" text-anchor="middle" fill="#000" >1.5</text>
<text x="648.5" y="579.3" font-size="9" text-anchor="middle" fill="#000" >1.6</text>
<text x="625.2" y="589.9" font-size="9" text-anchor="middle" fill="#000" >Thickness (mm)</text>
<polygon points="482.3,637.0 555.0,618.0 555.0,632.5 482.3,651.0" fill="#e2e2e2" opacity="0.9"/>
<circle cx="482.0" cy="626.0" r="2.2" fill="none" stroke="#8aeced" stroke-width="0.9"/>
<circle cx="482.0" cy="651.5" r="2.2" fill="none" stroke="#8aeced" stroke-width="0.9"/>
<circle cx="482.0" cy="632.9" r="2.2" fill="none" stroke="#8aeced" stroke-width="0.9"/>
<circle cx="482.0" cy="624.1" r="2.2" fill="none" stroke="#8aeced" stroke-width="0.9"/>
<circle cx="482.0" cy="630.5" r="2.2" fill="none" stroke="#8aeced" stroke-width="0.9"/>
<circle cx="482.0" cy="634.2" r="2.2" fill="none" stroke="#8aeced" stroke-width="0.9"/>
<circle cx="482.0" cy="622.8" r="2.2" fill="none" stroke="#8aeced" stroke-width="0.9"/>
<circle cx="482.0" cy="634.8" r="2.2" fill="none" stroke="#8aeced" stroke-width="0.9"/>
<circle cx="482.0" cy="634.8" r="2.2" fill="none" stroke="#8aeced" stroke-width="0.9"/>
<circle cx="482.0" cy="643.1" r="2.2" fill="none" stroke="#8aeced" stroke-width="0.9"/>
<circle cx="482.0" cy="632.8" r="2.2" fill="none" stroke="#8aeced" stroke-width="0.9"/>
<circle cx="482.0" cy="630.2" r="2.2" fill="none" stroke="#8aeced" stroke-width="0.9"/>
<circle cx="482.0" cy="629.0" r="2.2" fill="none" stroke="#8aeced" stroke-width="0.9"/>
<circle cx="482.0" cy="644.3" r="2.2" fill="none" stroke="#8aeced" stroke-width="0.9"/>
<circle cx="482.0" cy="650.2" r="2.2" fill="none" stroke="#8aeced" stroke-width="0.9"/>
<circle cx="482.0" cy="638.0" r="2.2" fill="none" stroke="#8aeced" stroke-width="0.9"/>
<circle cx="482.0" cy="628.9" r="2.2" fill="none" stroke="#8aeced" stroke-width="0.9"/>
<circle cx="482.0" cy="646.1" r="2.2" fill="none" stroke="#8aeced" stroke-width="0.9"/>
<circle cx="482.0" cy="634.0" r="2.2" fill="none" stroke="#8aeced" stroke-width="0.9"/>
<circle cx="482.0" cy="628.7" r="2.2" fill="none" stroke="#8aeced" stroke-width="0.9"/>
<circle cx="482.0" cy="626.2" r="2.2" fill="none" stroke="#8aeced" stroke-width="0.9"/>
<circle cx="482.0" cy="645.4" r="2.2" fill="none" stroke="#8aeced" stroke-width="0.9"/>
<circle cx="482.0" cy="646.4" r="2.2" fill="none" stroke="#8aeced" stroke-width="0.9"/>
<circle cx="482.0" cy="641.2" r="2.2" fill="none" stroke="#8aeced" stroke-width="0.9"/>
<circle cx="482.0" cy="636.3" r="2.2" fill="none" stroke="#8aeced" stroke-width="0.9"/>
<circle cx="482.0" cy="639.0" r="2.2" fill="none" stroke="#8aeced" stroke-width="0.9"/>
<circle cx="482.0" cy="661.0" r="2.2" fill="none" stroke="#8aeced" stroke-width="0.9"/>
<circle cx="482.0" cy="664.5" r="2.2" fill="none" stroke="#8aeced" stroke-width="0.9"/>
<circle cx="482.0" cy="668.0" r="2.2" fill="none" stroke="#8aeced" stroke-width="0.9"/>
<circle cx="482.0" cy="672.5" r="2.2" fill="none" stroke="#8aeced" stroke-width="0.9"/>
<circle cx="482.0" cy="676.2" r="2.2" fill="none" stroke="#8aeced" stroke-width="0.9"/>
<circle cx="555.0" cy="614.4" r="2.2" fill="none" stroke="#8aeced" stroke-width="0.9"/>
<circle cx="555.0" cy="641.7" r="2.2" fill="none" stroke="#8aeced" stroke-width="0.9"/>
<circle cx="555.0" cy="619.1" r="2.2" fill="none" stroke="#8aeced" stroke-width="0.9"/>
<circle cx="555.0" cy="629.6" r="2.2" fill="none" stroke="#8aeced" stroke-width="0.9"/>
<circle cx="555.0" cy="636.3" r="2.2" fill="none" stroke="#8aeced" stroke-width="0.9"/>
<circle cx="555.0" cy="636.2" r="2.2" fill="none" stroke="#8aeced" stroke-width="0.9"/>
<circle cx="555.0" cy="623.3" r="2.2" fill="none" stroke="#8aeced" stroke-width="0.9"/>
<circle cx="555.0" cy="616.9" r="2.2" fill="none" stroke="#8aeced" stroke-width="0.9"/>
<circle cx="555.0" cy="626.3" r="2.2" fill="none" stroke="#8aeced" stroke-width="0.9"/>
<circle cx="555.0" cy="610.6" r="2.2" fill="none" stroke="#8aeced" stroke-width="0.9"/>
<circle cx="555.0" cy="636.8" r="2.2" fill="none" stroke="#8aeced" stroke-width="0.9"/>
<circle cx="555.0" cy="619.1" r="2.2" fill="none" stroke="#8aeced" stroke-width="0.9"/>
<circle cx="555.0" cy="637.5" r="2.2" fill="none" stroke="#8aeced" stroke-width="0.9"/>
<circle cx="555.0" cy="615.9" r="2.2" fill="none" stroke="#8aeced" stroke-width="0.9"/>
<circle cx="555.0" cy="619.9" r="2.2" fill="none" stroke="#8aeced" stroke-width="0.9"/>
<circle cx="555.0" cy="615.4" r="2.2" fill="none" stroke="#8aeced" stroke-width="0.9"/>
<circle cx="555.0" cy="621.8" r="2.2" fill="none" stroke="#8aeced" stroke-width="0.9"/>
<circle cx="555.0" cy="612.9" r="2.2" fill="none" stroke="#8aeced" stroke-width="0.9"/>
<circle cx="555.0" cy="606.1" r="2.2" fill="none" stroke="#8aeced" stroke-width="0.9"/>
<circle cx="555.0" cy="632.7" r="2.2" fill="none" stroke="#8aeced" stroke-width="0.9"/>
<circle cx="555.0" cy="616.4" r="2.2" fill="none" stroke="#8aeced" stroke-width="0.9"/>
<circle cx="555.0" cy="615.1" r="2.2" fill="none" stroke="#8aeced" stroke-width="0.9"/>
<circle cx="555.0" cy="651.0" r="2.2" fill="none" stroke="#8aeced" stroke-width="0.9"/>
<circle cx="555.0" cy="653.4" r="2.2" fill="none" stroke="#8aeced" stroke-width="0.9"/>
<line x1="482.3" y1="644.3" x2="555.0" y2="626.0" stroke="#222" stroke-width="1.0" />
<line x1="475.3" y1="658.9" x2="478.3" y2="658.9" stroke="#222" stroke-width="1.0" />
<text x="475.6" y="662.1" font-size="9" text-anchor="end" fill="#000" >2</text>
<line x1="475.3" y1="638.5" x2="478.3" y2="638.5" stroke="#222" stroke-width="1.0" />
<text x="475.6" y="641.8" font-size="9" text-anchor="end" fill="#000" >3</text>
<line x1="475.3" y1="612.9" x2="478.3" y2="612.9" stroke="#222" stroke-width="1.0" />
<text x="475.6" y="616.1" font-size="9" text-anchor="end" fill="#000" >5</text>
<line x1="478.3" y1="624.1" x2="480.3" y2="624.1" stroke="#222" stroke-width="0.7" />
<line x1="478.3" y1="603.7" x2="480.3" y2="603.7" stroke="#222" stroke-width="0.7" />
<path d="M478.3,602.7 H559.5 V679.9 H478.3 Z" fill="none" stroke="#333" stroke-width="1.0"/>
<text x="464.7" y="640.8" font-size="9" text-anchor="middle" fill="#000" transform="rotate(-90 464.7 640.8)">N/C of YAP</text>
<line x1="482.0" y1="679.9" x2="482.0" y2="675.9" stroke="#222" stroke-width="1.0" />
<text x="482.0" y="689.1" font-size="9" text-anchor="middle" fill="#000" >50</text>
<line x1="501.1" y1="679.9" x2="501.1" y2="677.4" stroke="#222" stroke-width="1.0" />
<text x="501.1" y="689.1" font-size="9" text-anchor="middle" fill="#000" >70</text>
<line x1="521.8" y1="679.9" x2="521.8" y2="675.9" stroke="#222" stroke-width="1.0" />
<text x="521.8" y="689.1" font-size="9" text-anchor="middle" fill="#000" >100</text>
<line x1="490.8" y1="679.9" x2="490.8" y2="677.9" stroke="#222" stroke-width="0.7" />
<line x1="496.0" y1="679.9" x2="496.0" y2="677.9" stroke="#222" stroke-width="0.7" />
<line x1="505.8" y1="679.9" x2="505.8" y2="677.9" stroke="#222" stroke-width="0.7" />
<line x1="510.0" y1="679.9" x2="510.0" y2="677.9" stroke="#222" stroke-width="0.7" />
<line x1="514.0" y1="679.9" x2="514.0" y2="677.9" stroke="#222" stroke-width="0.7" />
<line x1="517.9" y1="679.9" x2="517.9" y2="677.9" stroke="#222" stroke-width="0.7" />
<text x="518.5" y="698.6" font-size="9" text-anchor="middle" fill="#000" >Modulus (kPa)</text>
<text x="492.0" y="614.7" font-size="9" text-anchor="start" fill="#000" ><tspan font-style="italic">r</tspan><tspan font-size="6" dy="-3.5">2</tspan><tspan dy="3.5"> = 0.312</tspan></text>
<polygon points="591.0,641.5 663.6,617.0 663.6,630.0 591.0,654.5" fill="#e2e2e2" opacity="0.9"/>
<circle cx="590.0" cy="653.0" r="2.4" fill="none" stroke="#8aeced" stroke-width="0.9"/>
<circle cx="596.0" cy="641.0" r="2.4" fill="none" stroke="#8aeced" stroke-width="0.9"/>
<circle cx="597.0" cy="639.0" r="2.4" fill="none" stroke="#8aeced" stroke-width="0.9"/>
<circle cx="599.0" cy="636.0" r="2.4" fill="none" stroke="#8aeced" stroke-width="0.9"/>
<circle cx="603.0" cy="638.0" r="2.4" fill="none" stroke="#8aeced" stroke-width="0.9"/>
<circle cx="604.0" cy="652.0" r="2.4" fill="none" stroke="#8aeced" stroke-width="0.9"/>
<circle cx="605.0" cy="614.0" r="2.4" fill="none" stroke="#8aeced" stroke-width="0.9"/>
<circle cx="607.0" cy="625.0" r="2.4" fill="none" stroke="#8aeced" stroke-width="0.9"/>
<circle cx="609.0" cy="627.0" r="2.4" fill="none" stroke="#8aeced" stroke-width="0.9"/>
<circle cx="610.0" cy="638.0" r="2.4" fill="none" stroke="#8aeced" stroke-width="0.9"/>
<circle cx="612.0" cy="630.0" r="2.4" fill="none" stroke="#8aeced" stroke-width="0.9"/>
<circle cx="613.0" cy="631.0" r="2.4" fill="none" stroke="#8aeced" stroke-width="0.9"/>
<circle cx="614.0" cy="627.0" r="2.4" fill="none" stroke="#8aeced" stroke-width="0.9"/>
<circle cx="615.0" cy="629.0" r="2.4" fill="none" stroke="#8aeced" stroke-width="0.9"/>
<circle cx="612.0" cy="621.0" r="2.4" fill="none" stroke="#8aeced" stroke-width="0.9"/>
<circle cx="614.0" cy="633.0" r="2.4" fill="none" stroke="#8aeced" stroke-width="0.9"/>
<circle cx="616.0" cy="633.0" r="2.4" fill="none" stroke="#8aeced" stroke-width="0.9"/>
<circle cx="617.0" cy="637.0" r="2.4" fill="none" stroke="#8aeced" stroke-width="0.9"/>
<circle cx="615.0" cy="650.0" r="2.4" fill="none" stroke="#8aeced" stroke-width="0.9"/>
<circle cx="611.0" cy="664.0" r="2.4" fill="none" stroke="#8aeced" stroke-width="0.9"/>
<circle cx="616.0" cy="662.0" r="2.4" fill="none" stroke="#8aeced" stroke-width="0.9"/>
<circle cx="602.0" cy="672.0" r="2.4" fill="none" stroke="#8aeced" stroke-width="0.9"/>
<circle cx="637.0" cy="645.0" r="2.4" fill="none" stroke="#8aeced" stroke-width="0.9"/>
<circle cx="645.0" cy="650.0" r="2.4" fill="none" stroke="#8aeced" stroke-width="0.9"/>
<circle cx="646.0" cy="648.0" r="2.4" fill="none" stroke="#8aeced" stroke-width="0.9"/>
<circle cx="647.0" cy="634.0" r="2.4" fill="none" stroke="#8aeced" stroke-width="0.9"/>
<circle cx="648.0" cy="630.0" r="2.4" fill="none" stroke="#8aeced" stroke-width="0.9"/>
<circle cx="650.0" cy="623.0" r="2.4" fill="none" stroke="#8aeced" stroke-width="0.9"/>
<circle cx="651.0" cy="629.0" r="2.4" fill="none" stroke="#8aeced" stroke-width="0.9"/>
<circle cx="650.0" cy="662.0" r="2.4" fill="none" stroke="#8aeced" stroke-width="0.9"/>
<circle cx="649.0" cy="614.0" r="2.4" fill="none" stroke="#8aeced" stroke-width="0.9"/>
<circle cx="652.0" cy="636.0" r="2.4" fill="none" stroke="#8aeced" stroke-width="0.9"/>
<circle cx="653.0" cy="624.0" r="2.4" fill="none" stroke="#8aeced" stroke-width="0.9"/>
<circle cx="655.0" cy="636.0" r="2.4" fill="none" stroke="#8aeced" stroke-width="0.9"/>
<circle cx="657.0" cy="636.0" r="2.4" fill="none" stroke="#8aeced" stroke-width="0.9"/>
<circle cx="659.0" cy="636.0" r="2.4" fill="none" stroke="#8aeced" stroke-width="0.9"/>
<circle cx="655.0" cy="619.0" r="2.4" fill="none" stroke="#8aeced" stroke-width="0.9"/>
<circle cx="655.0" cy="616.0" r="2.4" fill="none" stroke="#8aeced" stroke-width="0.9"/>
<circle cx="658.0" cy="621.0" r="2.4" fill="none" stroke="#8aeced" stroke-width="0.9"/>
<circle cx="658.0" cy="614.0" r="2.4" fill="none" stroke="#8aeced" stroke-width="0.9"/>
<circle cx="660.0" cy="613.0" r="2.4" fill="none" stroke="#8aeced" stroke-width="0.9"/>
<circle cx="662.0" cy="622.0" r="2.4" fill="none" stroke="#8aeced" stroke-width="0.9"/>
<circle cx="664.0" cy="617.0" r="2.4" fill="none" stroke="#8aeced" stroke-width="0.9"/>
<circle cx="666.0" cy="609.0" r="2.4" fill="none" stroke="#8aeced" stroke-width="0.9"/>
<circle cx="662.0" cy="625.0" r="2.4" fill="none" stroke="#8aeced" stroke-width="0.9"/>
<circle cx="663.0" cy="625.0" r="2.4" fill="none" stroke="#8aeced" stroke-width="0.9"/>
<line x1="591.0" y1="648.0" x2="663.6" y2="623.3" stroke="#222" stroke-width="1.0" />
<line x1="584.0" y1="658.9" x2="587.0" y2="658.9" stroke="#222" stroke-width="1.0" />
<text x="584.6" y="662.1" font-size="9" text-anchor="end" fill="#000" >2</text>
<line x1="584.0" y1="638.5" x2="587.0" y2="638.5" stroke="#222" stroke-width="1.0" />
<text x="584.6" y="641.8" font-size="9" text-anchor="end" fill="#000" >3</text>
<line x1="584.0" y1="612.9" x2="587.0" y2="612.9" stroke="#222" stroke-width="1.0" />
<text x="584.6" y="616.1" font-size="9" text-anchor="end" fill="#000" >5</text>
<line x1="587.0" y1="624.1" x2="589.0" y2="624.1" stroke="#222" stroke-width="0.7" />
<line x1="587.0" y1="603.7" x2="589.0" y2="603.7" stroke="#222" stroke-width="0.7" />
<path d="M587.0,602.7 H667.7 V679.5 H587.0 Z" fill="none" stroke="#333" stroke-width="1.0"/>
<text x="573.8" y="640.6" font-size="9" text-anchor="middle" fill="#000" transform="rotate(-90 573.8 640.6)">N/C of YAP</text>
<line x1="603.8" y1="679.5" x2="603.8" y2="675.5" stroke="#222" stroke-width="1.0" />
<text x="603.8" y="689.1" font-size="9" text-anchor="middle" fill="#000" >300</text>
<line x1="629.0" y1="679.5" x2="629.0" y2="675.5" stroke="#222" stroke-width="1.0" />
<text x="629.0" y="689.1" font-size="9" text-anchor="middle" fill="#000" >400</text>
<line x1="648.5" y1="679.5" x2="648.5" y2="675.5" stroke="#222" stroke-width="1.0" />
<text x="648.5" y="689.1" font-size="9" text-anchor="middle" fill="#000" >500</text>
<line x1="665.0" y1="679.5" x2="665.0" y2="677.0" stroke="#222" stroke-width="0.8" />
<text x="627.5" y="698.6" font-size="9" text-anchor="middle" fill="#000" >Cell area (μm<tspan font-size="6" dy="-3.5">2</tspan><tspan dy="3.5">)</tspan></text>
<text x="600.0" y="614.7" font-size="9" text-anchor="start" fill="#000" ><tspan font-style="italic">r</tspan><tspan font-size="6" dy="-3.5">2</tspan><tspan dy="3.5"> = 0.245</tspan></text>
</svg>
</body></html>
